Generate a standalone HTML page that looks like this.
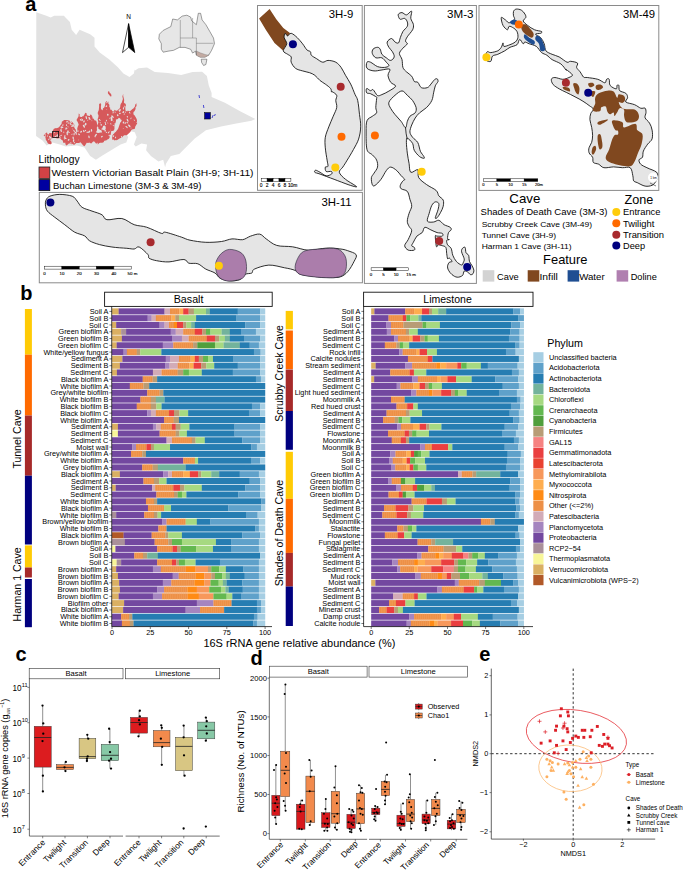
<!DOCTYPE html>
<html><head><meta charset="utf-8"><title>Figure</title>
<style>
html,body{margin:0;padding:0;background:#fff;}
body{width:685px;height:882px;overflow:hidden;}
svg{display:block;}
svg text{font-family:"Liberation Sans",sans-serif;fill:#000;}
</style></head><body>
<svg width="685" height="882" viewBox="0 0 685 882">
<rect width="685" height="882" fill="#fff"/>
<path d="M36.3,12.3 L46.3,15.8 L50.7,17.5 L54.2,15.8 L63.8,15.8 L69.9,21.9 L71.7,29.8 L76.1,35.0 L79.6,29.8 L90.1,34.2 L94.5,37.7 L94.5,46.4 L99.7,52.6 L109.3,59.6 L118.1,67.4 L123.4,73.6 L129.5,77.1 L133.9,73.6 L134.7,69.2 L133.8,71.2 L138.5,68.3 L147.1,67.4 L154.7,72.1 L168.0,73.1 L181.2,75.0 L192.6,72.1 L202.1,71.7 L206.9,75.9 L208.8,85.4 L211.6,93.0 L211.6,97.1 L224.9,102.8 L240.1,111.3 L255.3,118.9 L251.5,120.8 L236.3,123.6 L221.1,126.5 L205.9,130.3 L194.5,138.8 L185.0,148.3 L179.3,154.0 L170.8,155.9 L166.1,163.5 L165.1,167.3 L163.2,159.7 L158.5,161.6 L150.9,155.9 L146.1,150.2 L147.1,144.5 L141.4,143.6 L135.7,146.4 L133.9,144.5 L136.7,136.9 L134.8,132.2 L130.1,130.9 L126.3,134.1 L128.2,136.9 L126.3,142.6 L120.6,144.5 L111.1,150.2 L101.6,155.9 L95.9,159.7 L90.2,155.9 L84.5,147.4 L76.9,145.5 L65.5,146.4 L59.9,144.5 L52.3,142.6 L46.6,145.5 L42.8,140.7 L36.1,136.0 Z" fill="#e2e2e2"/>
<path d="M73.9,133.9 L75.7,134.0 L78.3,133.9 L79.7,133.9 L80.0,136.8 L79.8,139.4 L80.6,142.2 L78.9,143.1 L76.4,142.9 L75.0,143.7 L74.1,140.9 L74.5,136.6 Z" fill="#d6595b"/>
<ellipse cx="78.3" cy="139.9" rx="0.38" ry="0.31" transform="rotate(3 78.3 139.9)" fill="#e2e2e2"/>
<ellipse cx="74.3" cy="135.8" rx="0.42" ry="0.36" transform="rotate(-4 74.3 135.8)" fill="#e2e2e2"/>
<path d="M95.9,132.4 L98.2,132.9 L100.7,132.6 L103.1,132.4 L103.3,135.7 L103.5,138.2 L103.8,141.6 L102.5,142.8 L100.2,142.8 L97.7,143.0 L96.8,139.1 L96.2,135.4 Z" fill="#d6595b"/>
<ellipse cx="102.0" cy="136.7" rx="0.72" ry="1.03" transform="rotate(55 102.0 136.7)" fill="#e2e2e2"/>
<ellipse cx="102.6" cy="132.5" rx="0.40" ry="0.91" transform="rotate(-4 102.6 132.5)" fill="#e2e2e2"/>
<path d="M110.1,121.5 L112.7,120.6 L113.3,120.2 L115.9,119.3 L115.8,122.1 L114.4,125.3 L114.5,128.8 L113.9,130.6 L111.5,131.3 L110.8,133.2 L110.0,128.7 L110.7,125.0 Z" fill="#d6595b"/>
<ellipse cx="113.3" cy="125.5" rx="0.40" ry="0.78" transform="rotate(-44 113.3 125.5)" fill="#e2e2e2"/>
<ellipse cx="113.8" cy="120.9" rx="0.51" ry="0.58" transform="rotate(-28 113.8 120.9)" fill="#e2e2e2"/>
<ellipse cx="111.8" cy="131.6" rx="0.41" ry="0.58" transform="rotate(43 111.8 131.6)" fill="#e2e2e2"/>
<ellipse cx="113.8" cy="120.7" rx="0.79" ry="0.91" transform="rotate(-29 113.8 120.7)" fill="#e2e2e2"/>
<ellipse cx="114.6" cy="123.9" rx="0.45" ry="0.41" transform="rotate(-49 114.6 123.9)" fill="#e2e2e2"/>
<path d="M43.6,135.4 L44.7,134.0 L45.7,133.3 L46.6,132.4 L48.2,133.3 L49.9,133.0 L51.7,133.2 L52.9,131.3 L52.6,130.9 L53.9,128.8 L56.0,128.0 L56.8,128.2 L59.0,127.3 L60.6,125.0 L61.5,124.0 L61.9,121.5 L63.2,120.9 L63.8,119.9 L65.5,120.0 L68.1,120.2 L69.7,120.7 L71.4,121.5 L72.8,122.6 L73.0,123.0 L74.3,124.4 L74.9,125.3 L74.4,127.4 L75.0,128.8 L76.0,129.9 L75.7,131.3 L76.5,131.7 L76.3,132.2 L76.7,134.0 L77.2,135.4 L75.9,135.6 L75.6,136.9 L75.0,137.6 L75.0,138.8 L76.5,141.1 L76.5,141.9 L76.0,143.2 L75.2,143.4 L74.3,144.9 L72.0,143.7 L71.5,144.2 L69.2,143.4 L68.9,143.4 L67.5,144.8 L66.3,145.6 L65.6,144.4 L65.0,143.1 L63.4,142.7 L62.9,142.0 L63.0,141.1 L61.9,139.7 L61.2,139.7 L60.6,138.6 L59.0,138.3 L57.1,138.6 L55.2,137.7 L52.4,137.6 L52.1,138.8 L51.1,139.2 L50.2,139.7 L50.5,141.1 L51.3,141.6 L51.7,143.4 L50.9,144.3 L50.3,144.2 L48.8,144.1 L47.6,143.0 L46.9,141.2 L45.8,139.7 L45.6,137.7 L44.7,136.2 Z" fill="#d6595b"/>
<ellipse cx="63.8" cy="132.3" rx="0.42" ry="0.80" transform="rotate(-0 63.8 132.3)" fill="#e2e2e2"/>
<ellipse cx="64.3" cy="143.6" rx="0.43" ry="0.35" transform="rotate(-24 64.3 143.6)" fill="#e2e2e2"/>
<ellipse cx="66.4" cy="125.2" rx="0.38" ry="0.87" transform="rotate(19 66.4 125.2)" fill="#e2e2e2"/>
<ellipse cx="54.6" cy="137.0" rx="0.40" ry="0.59" transform="rotate(37 54.6 137.0)" fill="#e2e2e2"/>
<ellipse cx="74.3" cy="142.5" rx="0.49" ry="0.85" transform="rotate(-22 74.3 142.5)" fill="#e2e2e2"/>
<ellipse cx="48.2" cy="132.7" rx="0.72" ry="1.55" transform="rotate(25 48.2 132.7)" fill="#e2e2e2"/>
<ellipse cx="57.5" cy="136.0" rx="0.55" ry="0.71" transform="rotate(41 57.5 136.0)" fill="#e2e2e2"/>
<ellipse cx="67.4" cy="134.6" rx="0.45" ry="0.94" transform="rotate(-58 67.4 134.6)" fill="#e2e2e2"/>
<ellipse cx="45.2" cy="136.1" rx="0.52" ry="0.95" transform="rotate(19 45.2 136.1)" fill="#e2e2e2"/>
<ellipse cx="66.6" cy="125.1" rx="0.54" ry="0.58" transform="rotate(-59 66.6 125.1)" fill="#e2e2e2"/>
<ellipse cx="59.5" cy="138.3" rx="0.39" ry="0.48" transform="rotate(-19 59.5 138.3)" fill="#e2e2e2"/>
<ellipse cx="67.1" cy="133.3" rx="0.61" ry="1.22" transform="rotate(-13 67.1 133.3)" fill="#e2e2e2"/>
<ellipse cx="70.2" cy="143.2" rx="0.34" ry="0.79" transform="rotate(27 70.2 143.2)" fill="#e2e2e2"/>
<ellipse cx="64.7" cy="143.3" rx="0.49" ry="0.84" transform="rotate(46 64.7 143.3)" fill="#e2e2e2"/>
<ellipse cx="59.2" cy="136.7" rx="0.40" ry="0.79" transform="rotate(38 59.2 136.7)" fill="#e2e2e2"/>
<ellipse cx="65.2" cy="138.4" rx="0.41" ry="0.91" transform="rotate(58 65.2 138.4)" fill="#e2e2e2"/>
<ellipse cx="76.5" cy="133.8" rx="0.70" ry="0.91" transform="rotate(49 76.5 133.8)" fill="#e2e2e2"/>
<ellipse cx="72.4" cy="128.9" rx="0.34" ry="0.51" transform="rotate(6 72.4 128.9)" fill="#e2e2e2"/>
<ellipse cx="69.4" cy="132.5" rx="0.31" ry="0.66" transform="rotate(-52 69.4 132.5)" fill="#e2e2e2"/>
<ellipse cx="70.5" cy="124.5" rx="0.47" ry="0.96" transform="rotate(-43 70.5 124.5)" fill="#e2e2e2"/>
<ellipse cx="48.6" cy="133.2" rx="0.66" ry="1.42" transform="rotate(23 48.6 133.2)" fill="#e2e2e2"/>
<ellipse cx="75.4" cy="132.6" rx="0.77" ry="0.73" transform="rotate(-33 75.4 132.6)" fill="#e2e2e2"/>
<ellipse cx="61.3" cy="127.4" rx="0.66" ry="1.21" transform="rotate(3 61.3 127.4)" fill="#e2e2e2"/>
<ellipse cx="72.0" cy="134.3" rx="0.46" ry="0.64" transform="rotate(41 72.0 134.3)" fill="#e2e2e2"/>
<ellipse cx="73.9" cy="125.4" rx="0.73" ry="1.70" transform="rotate(3 73.9 125.4)" fill="#e2e2e2"/>
<ellipse cx="62.9" cy="125.2" rx="0.57" ry="0.91" transform="rotate(13 62.9 125.2)" fill="#e2e2e2"/>
<ellipse cx="61.0" cy="130.3" rx="0.70" ry="1.19" transform="rotate(-1 61.0 130.3)" fill="#e2e2e2"/>
<ellipse cx="66.9" cy="121.7" rx="0.57" ry="0.83" transform="rotate(55 66.9 121.7)" fill="#e2e2e2"/>
<ellipse cx="74.7" cy="126.9" rx="0.54" ry="0.54" transform="rotate(-8 74.7 126.9)" fill="#e2e2e2"/>
<ellipse cx="71.0" cy="143.0" rx="0.54" ry="0.70" transform="rotate(-37 71.0 143.0)" fill="#e2e2e2"/>
<ellipse cx="64.4" cy="143.7" rx="0.36" ry="0.75" transform="rotate(-57 64.4 143.7)" fill="#e2e2e2"/>
<ellipse cx="66.7" cy="128.3" rx="0.48" ry="0.86" transform="rotate(-47 66.7 128.3)" fill="#e2e2e2"/>
<ellipse cx="68.2" cy="123.2" rx="0.56" ry="0.67" transform="rotate(-36 68.2 123.2)" fill="#e2e2e2"/>
<ellipse cx="61.5" cy="131.2" rx="0.49" ry="0.71" transform="rotate(4 61.5 131.2)" fill="#e2e2e2"/>
<ellipse cx="64.8" cy="136.3" rx="0.56" ry="1.22" transform="rotate(13 64.8 136.3)" fill="#e2e2e2"/>
<ellipse cx="72.4" cy="126.0" rx="0.67" ry="1.41" transform="rotate(48 72.4 126.0)" fill="#e2e2e2"/>
<ellipse cx="68.0" cy="126.7" rx="0.35" ry="0.74" transform="rotate(-9 68.0 126.7)" fill="#e2e2e2"/>
<ellipse cx="70.2" cy="123.3" rx="0.50" ry="0.95" transform="rotate(-58 70.2 123.3)" fill="#e2e2e2"/>
<ellipse cx="50.4" cy="137.5" rx="0.76" ry="1.78" transform="rotate(-46 50.4 137.5)" fill="#e2e2e2"/>
<ellipse cx="60.5" cy="137.6" rx="0.39" ry="0.36" transform="rotate(-47 60.5 137.6)" fill="#e2e2e2"/>
<ellipse cx="44.9" cy="134.1" rx="0.56" ry="0.95" transform="rotate(-42 44.9 134.1)" fill="#e2e2e2"/>
<ellipse cx="54.6" cy="132.0" rx="0.56" ry="0.83" transform="rotate(12 54.6 132.0)" fill="#e2e2e2"/>
<ellipse cx="72.0" cy="124.7" rx="0.53" ry="1.04" transform="rotate(-11 72.0 124.7)" fill="#e2e2e2"/>
<ellipse cx="73.6" cy="140.5" rx="0.65" ry="1.42" transform="rotate(16 73.6 140.5)" fill="#e2e2e2"/>
<ellipse cx="57.2" cy="135.4" rx="0.55" ry="1.31" transform="rotate(37 57.2 135.4)" fill="#e2e2e2"/>
<ellipse cx="68.6" cy="139.9" rx="0.71" ry="1.02" transform="rotate(48 68.6 139.9)" fill="#e2e2e2"/>
<ellipse cx="73.2" cy="137.8" rx="0.68" ry="1.38" transform="rotate(-11 73.2 137.8)" fill="#e2e2e2"/>
<ellipse cx="67.9" cy="121.8" rx="0.47" ry="0.73" transform="rotate(-59 67.9 121.8)" fill="#e2e2e2"/>
<ellipse cx="55.6" cy="136.4" rx="0.61" ry="0.72" transform="rotate(53 55.6 136.4)" fill="#e2e2e2"/>
<ellipse cx="66.0" cy="128.7" rx="0.63" ry="1.08" transform="rotate(4 66.0 128.7)" fill="#e2e2e2"/>
<ellipse cx="65.2" cy="138.0" rx="0.68" ry="1.61" transform="rotate(-57 65.2 138.0)" fill="#e2e2e2"/>
<ellipse cx="64.3" cy="138.9" rx="0.43" ry="0.62" transform="rotate(-54 64.3 138.9)" fill="#e2e2e2"/>
<ellipse cx="74.1" cy="134.1" rx="0.55" ry="1.30" transform="rotate(8 74.1 134.1)" fill="#e2e2e2"/>
<ellipse cx="70.8" cy="122.0" rx="0.60" ry="1.21" transform="rotate(-55 70.8 122.0)" fill="#e2e2e2"/>
<ellipse cx="60.3" cy="135.7" rx="0.33" ry="0.76" transform="rotate(-10 60.3 135.7)" fill="#e2e2e2"/>
<ellipse cx="61.3" cy="135.3" rx="0.48" ry="0.61" transform="rotate(19 61.3 135.3)" fill="#e2e2e2"/>
<ellipse cx="62.5" cy="127.3" rx="0.66" ry="0.84" transform="rotate(-58 62.5 127.3)" fill="#e2e2e2"/>
<ellipse cx="48.9" cy="139.3" rx="0.49" ry="1.11" transform="rotate(30 48.9 139.3)" fill="#e2e2e2"/>
<ellipse cx="74.1" cy="131.0" rx="0.54" ry="1.27" transform="rotate(-31 74.1 131.0)" fill="#e2e2e2"/>
<ellipse cx="67.9" cy="132.0" rx="0.79" ry="1.66" transform="rotate(12 67.9 132.0)" fill="#e2e2e2"/>
<ellipse cx="47.5" cy="136.0" rx="0.53" ry="0.59" transform="rotate(-54 47.5 136.0)" fill="#e2e2e2"/>
<path d="M77.2,128.8 L77.7,126.8 L78.1,126.1 L78.7,124.4 L77.9,122.6 L77.4,121.4 L76.5,120.0 L77.6,117.9 L78.6,116.3 L78.7,113.5 L79.7,114.3 L79.6,116.4 L80.9,117.1 L82.0,117.1 L82.1,116.3 L83.1,116.4 L84.0,115.3 L84.6,114.2 L85.3,112.7 L86.6,113.3 L86.8,115.3 L88.2,115.7 L90.0,115.9 L89.9,114.6 L91.8,114.9 L91.7,116.0 L92.5,116.8 L92.6,118.6 L93.8,118.7 L94.4,120.3 L96.2,120.8 L96.8,122.6 L97.0,124.1 L97.7,125.9 L96.8,127.6 L97.0,130.2 L96.2,131.7 L96.3,133.1 L98.1,135.7 L98.4,137.6 L99.3,138.8 L99.3,140.6 L99.9,142.7 L99.3,143.0 L98.1,144.3 L96.9,144.1 L95.7,143.2 L95.4,142.8 L94.0,141.2 L92.9,141.7 L91.5,143.2 L91.1,143.4 L89.1,142.6 L88.3,142.9 L86.7,142.7 L86.3,143.6 L85.7,144.5 L84.5,146.3 L83.2,145.6 L82.0,144.1 L81.6,143.4 L81.2,142.9 L79.9,141.4 L79.4,141.2 L79.0,139.8 L78.7,137.3 L78.7,136.1 L78.3,135.2 L77.8,134.8 L76.5,133.2 L77.3,131.6 L77.4,130.0 Z" fill="#d6595b"/>
<ellipse cx="83.9" cy="126.2" rx="0.77" ry="1.71" transform="rotate(-30 83.9 126.2)" fill="#e2e2e2"/>
<ellipse cx="84.9" cy="125.0" rx="0.48" ry="0.69" transform="rotate(-13 84.9 125.0)" fill="#e2e2e2"/>
<ellipse cx="81.1" cy="131.7" rx="0.70" ry="1.16" transform="rotate(40 81.1 131.7)" fill="#e2e2e2"/>
<ellipse cx="89.6" cy="118.7" rx="0.68" ry="1.50" transform="rotate(-26 89.6 118.7)" fill="#e2e2e2"/>
<ellipse cx="89.2" cy="131.8" rx="0.78" ry="1.44" transform="rotate(37 89.2 131.8)" fill="#e2e2e2"/>
<ellipse cx="78.0" cy="131.1" rx="0.69" ry="0.65" transform="rotate(-50 78.0 131.1)" fill="#e2e2e2"/>
<ellipse cx="78.5" cy="134.0" rx="0.37" ry="0.74" transform="rotate(18 78.5 134.0)" fill="#e2e2e2"/>
<ellipse cx="82.2" cy="120.1" rx="0.68" ry="1.12" transform="rotate(32 82.2 120.1)" fill="#e2e2e2"/>
<ellipse cx="85.7" cy="124.1" rx="0.78" ry="1.47" transform="rotate(-1 85.7 124.1)" fill="#e2e2e2"/>
<ellipse cx="89.0" cy="136.9" rx="0.65" ry="1.48" transform="rotate(-11 89.0 136.9)" fill="#e2e2e2"/>
<ellipse cx="95.8" cy="135.1" rx="0.73" ry="1.52" transform="rotate(40 95.8 135.1)" fill="#e2e2e2"/>
<ellipse cx="91.5" cy="130.3" rx="0.66" ry="1.36" transform="rotate(-9 91.5 130.3)" fill="#e2e2e2"/>
<ellipse cx="86.3" cy="117.6" rx="0.67" ry="1.60" transform="rotate(-15 86.3 117.6)" fill="#e2e2e2"/>
<ellipse cx="80.4" cy="119.6" rx="0.51" ry="0.65" transform="rotate(56 80.4 119.6)" fill="#e2e2e2"/>
<ellipse cx="79.2" cy="134.5" rx="0.69" ry="0.75" transform="rotate(-53 79.2 134.5)" fill="#e2e2e2"/>
<ellipse cx="87.2" cy="132.3" rx="0.75" ry="0.65" transform="rotate(-47 87.2 132.3)" fill="#e2e2e2"/>
<ellipse cx="80.8" cy="120.0" rx="0.42" ry="0.81" transform="rotate(11 80.8 120.0)" fill="#e2e2e2"/>
<ellipse cx="81.7" cy="118.9" rx="0.44" ry="0.47" transform="rotate(31 81.7 118.9)" fill="#e2e2e2"/>
<ellipse cx="83.8" cy="131.1" rx="0.71" ry="1.11" transform="rotate(-29 83.8 131.1)" fill="#e2e2e2"/>
<ellipse cx="97.2" cy="143.4" rx="0.47" ry="0.79" transform="rotate(55 97.2 143.4)" fill="#e2e2e2"/>
<ellipse cx="87.8" cy="120.2" rx="0.32" ry="0.75" transform="rotate(36 87.8 120.2)" fill="#e2e2e2"/>
<ellipse cx="85.5" cy="130.5" rx="0.56" ry="0.69" transform="rotate(59 85.5 130.5)" fill="#e2e2e2"/>
<ellipse cx="91.9" cy="120.7" rx="0.31" ry="0.48" transform="rotate(-15 91.9 120.7)" fill="#e2e2e2"/>
<ellipse cx="95.1" cy="136.7" rx="0.60" ry="0.63" transform="rotate(-41 95.1 136.7)" fill="#e2e2e2"/>
<ellipse cx="84.0" cy="121.4" rx="0.73" ry="1.19" transform="rotate(16 84.0 121.4)" fill="#e2e2e2"/>
<ellipse cx="89.0" cy="117.8" rx="0.69" ry="0.55" transform="rotate(39 89.0 117.8)" fill="#e2e2e2"/>
<path d="M97.7,124.4 L98.4,122.5 L97.6,119.3 L98.4,117.1 L98.5,115.1 L97.9,114.2 L97.7,112.7 L98.8,110.0 L99.1,106.7 L99.1,104.0 L100.0,103.6 L100.7,102.9 L100.6,103.2 L101.2,104.5 L100.9,106.7 L101.0,108.4 L101.1,109.5 L101.9,109.5 L102.8,110.5 L102.9,108.6 L104.2,107.5 L105.0,105.4 L105.2,104.3 L105.4,102.4 L106.4,101.1 L107.1,102.0 L108.3,101.8 L108.6,101.8 L108.2,103.3 L109.4,104.8 L109.3,106.9 L110.2,107.8 L110.1,109.5 L111.5,109.8 L112.2,110.9 L112.2,112.4 L112.3,114.2 L111.6,116.2 L111.0,117.8 L110.8,120.0 L111.1,122.2 L111.4,123.5 L112.3,125.9 L111.9,126.6 L111.4,127.9 L110.1,128.8 L110.6,130.5 L111.0,132.1 L110.8,134.6 L109.6,135.5 L109.6,137.8 L108.6,139.0 L107.2,139.4 L107.2,140.1 L105.7,140.5 L104.4,140.8 L103.8,141.4 L103.5,142.7 L102.9,140.9 L103.1,140.2 L102.0,139.0 L102.3,137.8 L102.9,136.6 L102.8,134.6 L102.1,133.0 L101.7,131.1 L101.3,130.3 L100.2,130.1 L100.1,129.7 L98.4,128.8 L98.4,127.5 L97.2,125.7 Z" fill="#d6595b"/>
<ellipse cx="102.7" cy="128.1" rx="0.35" ry="0.50" transform="rotate(1 102.7 128.1)" fill="#e2e2e2"/>
<ellipse cx="109.2" cy="135.4" rx="0.61" ry="0.64" transform="rotate(32 109.2 135.4)" fill="#e2e2e2"/>
<ellipse cx="110.8" cy="123.9" rx="0.48" ry="0.76" transform="rotate(-43 110.8 123.9)" fill="#e2e2e2"/>
<ellipse cx="105.2" cy="130.8" rx="0.72" ry="0.80" transform="rotate(53 105.2 130.8)" fill="#e2e2e2"/>
<ellipse cx="106.8" cy="109.3" rx="0.34" ry="0.41" transform="rotate(9 106.8 109.3)" fill="#e2e2e2"/>
<ellipse cx="107.8" cy="114.8" rx="0.76" ry="1.05" transform="rotate(-4 107.8 114.8)" fill="#e2e2e2"/>
<ellipse cx="105.6" cy="124.4" rx="0.58" ry="0.71" transform="rotate(49 105.6 124.4)" fill="#e2e2e2"/>
<ellipse cx="106.4" cy="106.2" rx="0.71" ry="0.90" transform="rotate(48 106.4 106.2)" fill="#e2e2e2"/>
<ellipse cx="101.2" cy="124.9" rx="0.72" ry="0.78" transform="rotate(6 101.2 124.9)" fill="#e2e2e2"/>
<ellipse cx="102.2" cy="129.0" rx="0.67" ry="0.94" transform="rotate(11 102.2 129.0)" fill="#e2e2e2"/>
<ellipse cx="100.6" cy="120.5" rx="0.37" ry="0.53" transform="rotate(8 100.6 120.5)" fill="#e2e2e2"/>
<ellipse cx="100.2" cy="122.7" rx="0.43" ry="0.74" transform="rotate(-20 100.2 122.7)" fill="#e2e2e2"/>
<ellipse cx="107.0" cy="102.6" rx="0.64" ry="0.66" transform="rotate(55 107.0 102.6)" fill="#e2e2e2"/>
<ellipse cx="106.4" cy="120.6" rx="0.51" ry="0.91" transform="rotate(23 106.4 120.6)" fill="#e2e2e2"/>
<ellipse cx="108.7" cy="132.3" rx="0.54" ry="1.30" transform="rotate(41 108.7 132.3)" fill="#e2e2e2"/>
<ellipse cx="110.1" cy="118.1" rx="0.52" ry="0.88" transform="rotate(49 110.1 118.1)" fill="#e2e2e2"/>
<ellipse cx="105.3" cy="122.9" rx="0.52" ry="1.16" transform="rotate(-22 105.3 122.9)" fill="#e2e2e2"/>
<ellipse cx="106.4" cy="132.3" rx="0.45" ry="0.79" transform="rotate(-52 106.4 132.3)" fill="#e2e2e2"/>
<ellipse cx="99.5" cy="119.7" rx="0.55" ry="0.79" transform="rotate(-54 99.5 119.7)" fill="#e2e2e2"/>
<ellipse cx="107.8" cy="123.0" rx="0.42" ry="0.54" transform="rotate(-13 107.8 123.0)" fill="#e2e2e2"/>
<path d="M111.5,112.7 L112.1,111.2 L114.0,111.5 L114.5,109.8 L115.6,110.6 L116.3,110.7 L117.4,110.5 L117.9,109.7 L119.4,108.7 L120.3,106.9 L120.2,105.9 L120.7,104.1 L121.8,102.5 L122.9,98.9 L122.4,96.5 L123.2,93.8 L123.2,96.0 L124.2,100.0 L123.9,102.5 L124.5,103.3 L125.5,103.8 L126.1,105.4 L125.2,107.7 L125.4,108.8 L125.4,110.5 L127.2,111.5 L127.8,110.6 L129.1,111.3 L130.2,110.9 L132.5,108.9 L133.4,108.4 L134.9,106.5 L135.3,104.5 L136.4,103.2 L136.6,105.9 L135.5,107.3 L135.6,109.1 L134.5,111.3 L133.5,111.9 L133.4,114.2 L134.7,115.4 L135.9,117.6 L136.4,118.6 L136.9,119.8 L137.1,122.6 L137.1,123.7 L136.3,124.8 L135.2,126.8 L134.9,128.8 L134.0,128.9 L132.0,129.4 L131.2,130.3 L130.3,132.1 L128.7,133.4 L127.6,134.6 L126.7,135.2 L124.3,135.3 L123.2,136.1 L122.4,137.3 L120.0,138.2 L118.8,139.0 L116.8,140.2 L115.9,140.0 L114.5,140.5 L113.8,139.6 L113.1,139.7 L112.3,139.7 L112.2,138.5 L112.2,136.1 L113.0,134.6 L114.3,133.3 L114.6,132.8 L115.9,131.7 L116.2,131.3 L118.0,129.1 L118.1,128.8 L118.5,127.7 L118.9,126.5 L119.6,124.4 L120.3,122.5 L121.1,121.7 L121.8,120.0 L120.6,119.5 L120.2,118.6 L118.8,117.8 L117.9,119.1 L117.2,119.3 L115.9,120.0 L115.8,120.5 L114.9,121.5 L113.7,123.0 L113.4,121.1 L112.7,120.4 L112.3,118.6 L112.4,117.1 L111.4,114.7 Z" fill="#d6595b"/>
<ellipse cx="126.8" cy="127.1" rx="0.59" ry="1.29" transform="rotate(-38 126.8 127.1)" fill="#e2e2e2"/>
<ellipse cx="124.2" cy="114.1" rx="0.52" ry="0.64" transform="rotate(36 124.2 114.1)" fill="#e2e2e2"/>
<ellipse cx="113.4" cy="136.1" rx="0.58" ry="0.98" transform="rotate(35 113.4 136.1)" fill="#e2e2e2"/>
<ellipse cx="125.0" cy="106.1" rx="0.59" ry="0.56" transform="rotate(38 125.0 106.1)" fill="#e2e2e2"/>
<ellipse cx="113.1" cy="112.9" rx="0.48" ry="0.55" transform="rotate(56 113.1 112.9)" fill="#e2e2e2"/>
<ellipse cx="112.6" cy="116.6" rx="0.68" ry="1.62" transform="rotate(-43 112.6 116.6)" fill="#e2e2e2"/>
<ellipse cx="123.2" cy="128.6" rx="0.32" ry="0.38" transform="rotate(47 123.2 128.6)" fill="#e2e2e2"/>
<ellipse cx="115.1" cy="112.1" rx="0.45" ry="0.66" transform="rotate(-51 115.1 112.1)" fill="#e2e2e2"/>
<ellipse cx="131.0" cy="128.1" rx="0.41" ry="0.50" transform="rotate(6 131.0 128.1)" fill="#e2e2e2"/>
<ellipse cx="117.7" cy="115.3" rx="0.77" ry="1.06" transform="rotate(-20 117.7 115.3)" fill="#e2e2e2"/>
<ellipse cx="136.6" cy="122.3" rx="0.32" ry="0.46" transform="rotate(18 136.6 122.3)" fill="#e2e2e2"/>
<ellipse cx="123.4" cy="112.1" rx="0.72" ry="1.02" transform="rotate(34 123.4 112.1)" fill="#e2e2e2"/>
<ellipse cx="116.2" cy="119.4" rx="0.38" ry="0.43" transform="rotate(-34 116.2 119.4)" fill="#e2e2e2"/>
<ellipse cx="123.5" cy="108.2" rx="0.52" ry="1.25" transform="rotate(22 123.5 108.2)" fill="#e2e2e2"/>
<ellipse cx="121.6" cy="136.9" rx="0.66" ry="0.81" transform="rotate(-17 121.6 136.9)" fill="#e2e2e2"/>
<ellipse cx="115.5" cy="137.5" rx="0.48" ry="0.97" transform="rotate(27 115.5 137.5)" fill="#e2e2e2"/>
<ellipse cx="119.8" cy="111.7" rx="0.34" ry="0.76" transform="rotate(-21 119.8 111.7)" fill="#e2e2e2"/>
<ellipse cx="131.2" cy="118.0" rx="0.33" ry="0.47" transform="rotate(-31 131.2 118.0)" fill="#e2e2e2"/>
<ellipse cx="119.5" cy="113.6" rx="0.57" ry="0.58" transform="rotate(25 119.5 113.6)" fill="#e2e2e2"/>
<ellipse cx="129.7" cy="112.7" rx="0.49" ry="1.08" transform="rotate(-33 129.7 112.7)" fill="#e2e2e2"/>
<ellipse cx="119.0" cy="109.9" rx="0.41" ry="0.35" transform="rotate(-57 119.0 109.9)" fill="#e2e2e2"/>
<ellipse cx="127.6" cy="120.2" rx="0.70" ry="1.66" transform="rotate(-24 127.6 120.2)" fill="#e2e2e2"/>
<ellipse cx="122.5" cy="112.1" rx="0.33" ry="0.47" transform="rotate(-21 122.5 112.1)" fill="#e2e2e2"/>
<ellipse cx="124.2" cy="106.8" rx="0.38" ry="0.55" transform="rotate(-3 124.2 106.8)" fill="#e2e2e2"/>
<ellipse cx="120.3" cy="113.5" rx="0.38" ry="0.65" transform="rotate(24 120.3 113.5)" fill="#e2e2e2"/>
<ellipse cx="125.7" cy="126.5" rx="0.31" ry="0.44" transform="rotate(-16 125.7 126.5)" fill="#e2e2e2"/>
<ellipse cx="113.1" cy="112.6" rx="0.33" ry="0.52" transform="rotate(10 113.1 112.6)" fill="#e2e2e2"/>
<ellipse cx="123.5" cy="109.0" rx="0.43" ry="0.36" transform="rotate(-18 123.5 109.0)" fill="#e2e2e2"/>
<ellipse cx="134.3" cy="120.2" rx="0.43" ry="0.81" transform="rotate(-38 134.3 120.2)" fill="#e2e2e2"/>
<ellipse cx="123.5" cy="122.5" rx="0.78" ry="1.07" transform="rotate(9 123.5 122.5)" fill="#e2e2e2"/>
<ellipse cx="127.6" cy="122.8" rx="0.51" ry="0.74" transform="rotate(-27 127.6 122.8)" fill="#e2e2e2"/>
<ellipse cx="121.3" cy="136.3" rx="0.32" ry="0.32" transform="rotate(1 121.3 136.3)" fill="#e2e2e2"/>
<ellipse cx="119.4" cy="110.6" rx="0.79" ry="0.82" transform="rotate(-37 119.4 110.6)" fill="#e2e2e2"/>
<ellipse cx="125.4" cy="112.2" rx="0.42" ry="0.67" transform="rotate(18 125.4 112.2)" fill="#e2e2e2"/>
<ellipse cx="125.5" cy="122.9" rx="0.58" ry="1.24" transform="rotate(56 125.5 122.9)" fill="#e2e2e2"/>
<ellipse cx="120.1" cy="110.0" rx="0.74" ry="0.97" transform="rotate(26 120.1 110.0)" fill="#e2e2e2"/>
<ellipse cx="129.3" cy="125.8" rx="0.78" ry="1.66" transform="rotate(-41 129.3 125.8)" fill="#e2e2e2"/>
<ellipse cx="127.4" cy="116.7" rx="0.58" ry="0.81" transform="rotate(-26 127.4 116.7)" fill="#e2e2e2"/>
<ellipse cx="130.7" cy="118.7" rx="0.42" ry="0.50" transform="rotate(-21 130.7 118.7)" fill="#e2e2e2"/>
<path d="M107.9,92.3 L107.9,92.1 L108.3,91.2 L109.3,91.6 L109.5,92.5 L111.1,93.9 L111.5,95.9 L111.0,96.6 L110.5,96.0 L110.1,96.7 L109.9,95.8 L108.0,93.4 Z" fill="#d6595b"/>
<ellipse cx="104.2" cy="128" rx="1.6" ry="2.4" fill="#e2e2e2"/>
<rect x="52.6" y="131.5" width="6" height="6" fill="none" stroke="#111" stroke-width="0.8"/>
<rect x="204.6" y="112.6" width="5.8" height="6.4" fill="#00009a" stroke="#111" stroke-width="0.6"/>
<path d="M199,95 l0.5,3 M203.4,105 l0.5,3 M212,118 l1.2,-3 M214.5,116 l0.8,-2" stroke="#2222cc" stroke-width="0.8" fill="none"/>
<text x="128.7" y="19" font-size="6.5" text-anchor="middle">N</text>
<path d="M128.6,23.7 L122.5,52.6 L128.6,47.3 Z" fill="#fff" stroke="#000" stroke-width="0.7"/>
<path d="M128.6,23.7 L134.8,52.6 L128.6,47.3 Z" fill="#000" stroke="#000" stroke-width="0.7"/>
<path d="M159.4,34.2 L163.2,30.4 L170.8,26.6 L172.7,19.0 L177.4,19.9 L182.2,16.1 L186.9,15.2 L190.7,17.1 L191.7,20.9 L196.4,24.7 L198.3,13.3 L200.6,13.3 L202.1,19.9 L205.9,24.7 L209.7,31.3 L213.5,38.0 L214.5,43.6 L211.6,50.3 L208.8,55.0 L205.0,56.9 L200.2,56.9 L196.4,55.0 L195.5,51.2 L192.6,53.1 L190.7,49.3 L185.0,47.4 L179.3,47.4 L173.6,50.3 L168.0,51.2 L163.2,52.2 L161.3,49.3 L161.3,43.6 L158.8,38.9 Z" fill="#e6e6e6" stroke="#444" stroke-width="0.5"/>
<path d="M196.4,50.9 L200.2,52.8 L205.9,54.7 L208.8,55.2 L205.0,57.3 L200.2,57.3 L196.4,55.4 Z" fill="#c2aaa2" stroke="#666" stroke-width="0.3"/>
<path d="M201.2,59.2 L206.9,59.2 L205.9,64.5 L203.6,65.5 L201.7,62.6 Z" fill="#e6e6e6" stroke="#444" stroke-width="0.5"/>
<path d="M180.3,20 V47.4 M192.6,18 V38 M180.3,38 H196.4 M196.4,38 V55 M196.4,43.3 H213.5" stroke="#555" stroke-width="0.4" fill="none"/>
<text x="38.5" y="162.5" font-size="10" textLength="41" lengthAdjust="spacingAndGlyphs">Lithology</text>
<rect x="39" y="167" width="10.8" height="11.4" fill="#d14245" stroke="#222" stroke-width="0.8"/>
<rect x="39" y="179.6" width="10.8" height="11" fill="#0000a0" stroke="#111" stroke-width="0.8"/>
<text x="51.5" y="176.2" font-size="9.3" textLength="202" lengthAdjust="spacingAndGlyphs">Western Victorian Basalt Plain (3H-9; 3H-11)</text>
<text x="53" y="188.6" font-size="9.3" textLength="148.5" lengthAdjust="spacingAndGlyphs">Buchan Limestone (3M-3 &amp; 3M-49)</text>
<rect x="257.5" y="5.5" width="104.69999999999999" height="184.8" fill="#fff" stroke="#8a8a8a" stroke-width="1"/>
<svg x="258" y="6" width="103.7" height="183.8" viewBox="258 6 103.7 183.8">
<path d="M259.1,18.4 L269.6,9.1 L276.3,19.3 L283.3,28.0 L290.3,33.3 L285.9,37.7 L286.8,43.8 L283.3,50.8 L274.5,42.9 L265.8,29.8 Z" fill="#80481f"/>
<path d="M283.3,50.8 C283.1,49.1 286.6,46.0 286.8,43.8 C286.9,41.6 284.5,39.4 284.2,37.7 C283.9,35.9 284.5,33.6 285.0,33.3 C285.6,33.0 286.6,35.9 287.7,35.9 C288.7,35.9 289.6,33.0 291.2,33.3 C292.8,33.6 295.4,35.9 297.3,37.7 C299.2,39.4 300.9,41.8 302.6,43.8 C304.2,45.8 305.6,48.6 306.9,49.9 C308.2,51.2 309.7,50.8 310.4,51.7 C311.2,52.6 310.3,54.0 311.3,55.2 C312.3,56.4 314.7,57.5 316.6,58.7 C318.5,59.9 320.8,61.9 322.7,62.2 C324.6,62.5 325.8,60.4 328.0,60.4 C330.1,60.4 333.6,61.0 335.8,62.2 C338.0,63.4 339.5,65.3 341.1,67.4 C342.7,69.6 343.9,72.6 345.5,75.3 C347.1,78.1 349.1,80.9 350.7,84.1 C352.3,87.3 353.9,91.9 355.1,94.6 C356.3,97.3 357.0,97.2 357.7,100.5 C358.5,103.8 359.0,110.1 359.5,114.5 C360.0,118.9 360.9,122.7 360.7,126.8 C360.6,130.9 359.8,135.3 358.6,139.1 C357.4,142.8 355.3,146.1 353.4,149.6 C351.5,153.1 349.0,157.2 347.2,160.1 C345.5,163.0 344.2,165.0 342.8,167.1 C341.5,169.1 338.9,170.3 339.3,172.3 C339.8,174.4 342.8,177.2 345.5,179.3 C348.1,181.5 353.4,184.2 355.1,185.5 C356.9,186.7 357.2,187.0 356.0,186.9 C354.8,186.7 351.8,185.9 348.1,184.6 C344.5,183.3 338.8,181.1 334.1,179.3 C329.4,177.6 323.3,175.3 320.1,174.1 C316.9,172.9 315.5,173.0 314.8,172.3 C314.1,171.7 314.8,170.2 315.7,170.2 C316.6,170.2 318.3,171.4 320.1,172.3 C321.8,173.3 324.3,175.5 326.2,175.8 C328.1,176.1 330.6,174.8 331.5,174.1 C332.3,173.4 332.3,171.9 331.5,171.5 C330.6,171.0 327.2,172.2 326.2,171.5 C325.2,170.7 325.0,168.0 325.3,167.1 C325.6,166.2 327.7,167.4 328.0,166.2 C328.2,165.0 327.5,163.1 327.1,160.1 C326.6,157.0 325.6,151.6 325.3,147.8 C325.0,144.0 324.7,140.8 325.3,137.3 C325.9,133.8 327.5,130.3 328.8,126.8 C330.1,123.3 331.9,119.5 333.2,116.3 C334.5,113.1 336.3,110.1 336.7,107.5 C337.2,104.9 335.8,102.6 335.8,100.5 C335.8,98.5 337.3,96.7 336.7,95.3 C336.1,93.8 333.2,92.3 332.3,91.8 C331.5,91.2 331.8,92.5 331.5,92.0 C331.2,91.4 331.6,89.8 330.6,88.5 C329.6,87.2 327.1,85.4 325.3,84.1 C323.6,82.8 321.8,82.0 320.1,80.6 C318.3,79.1 316.6,76.6 314.8,75.3 C313.1,74.0 311.6,73.4 309.6,72.7 C307.5,72.0 304.9,71.7 302.6,70.9 C300.2,70.2 297.4,69.8 295.5,68.3 C293.6,66.9 291.9,64.1 291.2,62.2 C290.4,60.3 291.8,58.2 291.2,56.9 C290.6,55.6 289.0,55.3 287.7,54.3 C286.4,53.3 283.4,52.6 283.3,50.8 Z" fill="#e5e5e5" stroke="#0a0a0a" stroke-width="0.85"/>
</svg>
<circle cx="292.9" cy="44.3" r="4" fill="#00007f"/>
<circle cx="340.7" cy="86.7" r="4" fill="#a82a2e"/>
<circle cx="341.5" cy="136.8" r="4" fill="#ff6a00"/>
<circle cx="335.3" cy="167.6" r="4" fill="#ffcc0a"/>
<text x="328.8" y="18.4" font-size="11" textLength="24.6" lengthAdjust="spacingAndGlyphs">3H-9</text>
<rect x="261.20" y="178.4" width="5.94" height="3.30" fill="#fff" stroke="#000" stroke-width="0.45"/>
<rect x="267.14" y="178.4" width="5.94" height="3.30" fill="#000" stroke="#000" stroke-width="0.45"/>
<rect x="273.08" y="178.4" width="5.94" height="3.30" fill="#fff" stroke="#000" stroke-width="0.45"/>
<rect x="279.02" y="178.4" width="5.94" height="3.30" fill="#000" stroke="#000" stroke-width="0.45"/>
<rect x="284.96" y="178.4" width="5.94" height="3.30" fill="#fff" stroke="#000" stroke-width="0.45"/>
<text x="261.20" y="186.6" font-size="4.9" text-anchor="middle" stroke="#000" stroke-width="0.12">0</text>
<text x="267.14" y="186.6" font-size="4.9" text-anchor="middle" stroke="#000" stroke-width="0.12">2</text>
<text x="273.08" y="186.6" font-size="4.9" text-anchor="middle" stroke="#000" stroke-width="0.12">4</text>
<text x="279.02" y="186.6" font-size="4.9" text-anchor="middle" stroke="#000" stroke-width="0.12">6</text>
<text x="284.96" y="186.6" font-size="4.9" text-anchor="middle" stroke="#000" stroke-width="0.12">8</text>
<text x="287.90" y="186.6" font-size="4.9" stroke="#000" stroke-width="0.12">10m</text>
<rect x="364.4" y="5.5" width="112.0" height="277.9" fill="#fff" stroke="#8a8a8a" stroke-width="1"/>
<path d="M398.5,14.0 C399.1,13.3 400.7,12.5 402.0,12.6 C403.4,12.8 405.0,15.1 406.4,14.9 C407.9,14.7 409.9,11.8 410.8,11.4 C411.7,10.9 411.7,11.1 411.7,12.3 C411.7,13.4 410.5,16.4 410.8,18.4 C411.1,20.4 413.1,22.6 413.4,24.5 C413.7,26.4 413.6,27.7 412.6,29.8 C411.5,31.8 408.5,34.9 407.3,36.8 C406.1,38.7 405.5,40.0 405.5,41.2 C405.5,42.3 407.7,42.6 407.3,43.8 C406.9,45.0 404.2,46.6 402.9,48.2 C401.6,49.8 399.6,51.5 399.4,53.4 C399.3,55.3 401.5,57.2 402.0,59.6 C402.6,61.9 402.2,65.4 402.9,67.4 C403.6,69.5 405.0,70.4 406.4,71.8 C407.9,73.3 410.4,74.6 411.7,76.2 C413.0,77.8 413.3,80.4 414.3,81.5 C415.3,82.5 416.6,81.3 417.8,82.3 C419.0,83.4 419.7,86.7 421.3,87.6 C422.9,88.5 425.8,88.2 427.4,87.6 C429.1,87.0 429.8,85.4 430.9,84.1 C432.1,82.8 433.4,80.6 434.5,79.7 C435.5,78.8 436.5,78.5 437.1,78.8 C437.7,79.1 438.2,80.3 438.0,81.5 C437.7,82.6 436.1,83.9 435.3,85.8 C434.6,87.7 434.2,90.4 433.6,92.8 C433.0,95.3 433.0,98.1 431.8,100.5 C430.7,103.0 428.6,105.5 426.6,107.5 C424.5,109.6 421.5,111.0 419.6,112.8 C417.7,114.5 416.5,116.0 415.2,118.0 C413.9,120.1 412.6,122.7 411.7,125.0 C410.8,127.4 409.8,130.0 409.9,132.0 C410.1,134.1 411.2,135.5 412.6,137.3 C413.9,139.1 416.5,140.2 417.8,142.6 C419.1,144.9 419.4,149.0 420.4,151.3 C421.5,153.6 423.4,155.4 423.9,156.6 C424.5,157.7 424.7,158.3 423.9,158.3 C423.2,158.3 421.2,157.9 419.6,156.6 C418.0,155.3 415.5,152.6 414.3,150.4 C413.1,148.2 413.7,145.5 412.6,143.4 C411.4,141.4 408.3,138.3 407.3,138.2 C406.3,138.0 406.4,140.1 406.4,142.6 C406.4,145.0 406.9,149.6 407.3,153.1 C407.7,156.6 408.5,160.4 409.1,163.6 C409.6,166.8 409.3,171.3 410.8,172.3 C412.3,173.4 416.5,168.8 417.8,169.7 C419.1,170.6 417.2,175.1 418.7,177.6 C420.1,180.1 423.6,182.4 426.6,184.6 C429.5,186.8 434.2,188.6 436.2,190.5 C438.2,192.4 437.7,194.2 438.8,195.8 C440.0,197.4 442.5,198.4 443.2,200.1 C443.9,201.9 443.6,204.2 443.2,206.3 C442.8,208.3 441.6,210.5 440.6,212.4 C439.6,214.3 438.0,216.8 437.1,217.7 C436.2,218.5 435.2,219.0 435.3,217.7 C435.5,216.4 437.4,212.1 438.0,209.8 C438.5,207.4 439.3,205.0 438.8,203.6 C438.4,202.3 436.5,201.6 435.3,201.9 C434.2,202.2 432.8,203.5 431.8,205.4 C430.8,207.3 429.9,210.7 429.2,213.3 C428.5,215.9 426.7,219.7 427.4,221.2 C428.2,222.6 431.7,222.2 433.6,222.0 C435.5,221.9 437.1,219.9 438.8,220.3 C440.6,220.7 442.2,223.5 444.1,224.7 C446.0,225.8 449.1,226.4 450.2,227.3 C451.4,228.2 451.4,229.1 451.1,229.9 C450.8,230.8 449.1,231.1 448.5,232.6 C447.9,234.0 447.4,237.5 447.6,238.7 C447.7,239.9 449.5,239.3 449.3,239.6 C449.2,239.9 447.0,239.6 446.7,240.4 C446.4,241.3 446.9,243.5 447.6,244.8 C448.3,246.1 450.2,246.6 451.1,248.3 C452.0,250.1 452.0,253.1 452.8,255.3 C453.7,257.5 454.9,259.9 456.4,261.5 C457.8,263.1 460.4,264.8 461.6,265.0 C462.8,265.1 462.9,263.4 463.4,262.3 C463.8,261.3 464.5,260.6 464.2,258.8 C463.9,257.1 461.9,253.6 461.6,251.8 C461.3,250.1 461.9,249.1 462.5,248.3 C463.1,247.6 464.5,246.7 465.1,247.4 C465.7,248.2 465.4,251.4 466.0,252.7 C466.6,254.0 468.0,253.9 468.6,255.3 C469.2,256.8 468.9,259.7 469.5,261.5 C470.1,263.2 471.4,264.4 472.1,265.8 C472.8,267.3 473.7,268.9 473.9,270.2 C474.0,271.5 473.6,273.0 473.0,273.7 C472.4,274.5 471.2,274.9 470.4,274.6 C469.5,274.3 468.8,272.6 467.7,272.0 C466.7,271.4 465.1,270.5 464.2,271.1 C463.4,271.7 463.6,274.5 462.5,275.5 C461.3,276.5 459.0,277.4 457.2,277.2 C455.5,277.1 453.4,275.8 452.0,274.6 C450.5,273.4 449.2,271.7 448.5,270.2 C447.7,268.8 447.4,267.2 447.6,265.8 C447.7,264.5 448.6,263.1 449.3,262.3 C450.1,261.6 452.0,262.2 452.0,261.5 C452.0,260.7 450.1,258.4 449.3,258.0 C448.6,257.5 448.0,259.6 447.6,258.8 C447.2,258.1 447.0,255.5 446.7,253.6 C446.4,251.7 446.6,248.8 445.8,247.4 C445.1,246.1 443.6,246.1 442.3,245.7 C441.0,245.3 438.8,244.7 438.0,244.8 C437.1,245.0 437.4,246.4 437.1,246.6 C436.8,246.7 436.5,247.4 436.2,245.7 C435.9,243.9 435.2,237.7 435.3,236.1 C435.5,234.5 435.9,236.1 437.1,236.1 C438.2,236.1 441.5,236.5 442.3,236.1 C443.2,235.6 443.2,234.0 442.3,233.4 C441.5,232.8 439.0,233.1 437.1,232.6 C435.2,232.0 433.0,230.8 430.9,229.9 C428.9,229.1 426.3,226.9 424.8,227.3 C423.4,227.7 423.5,231.1 422.2,232.6 C420.9,234.0 418.4,234.5 416.9,236.1 C415.5,237.7 414.3,240.6 413.4,242.2 C412.6,243.8 411.5,244.8 411.7,245.7 C411.8,246.6 413.9,246.7 414.3,247.4 C414.7,248.2 415.3,249.6 414.3,250.1 C413.3,250.5 409.8,250.8 408.2,250.1 C406.6,249.3 404.7,247.4 404.7,245.7 C404.7,243.9 407.0,242.0 408.2,239.6 C409.3,237.1 411.5,233.0 411.7,230.8 C411.8,228.6 409.8,228.0 409.1,226.4 C408.3,224.8 407.3,223.4 407.3,221.2 C407.3,219.0 408.3,215.8 409.1,213.3 C409.8,210.8 411.5,208.6 411.7,206.3 C411.8,203.9 410.7,201.8 409.9,199.3 C409.2,196.8 408.8,193.1 407.3,191.4 C405.8,189.6 402.3,189.8 401.2,188.8 C400.0,187.7 400.0,186.6 400.3,185.3 C400.6,183.9 402.2,181.9 402.9,180.9 C403.6,179.9 405.0,180.2 404.7,179.3 C404.4,178.5 402.5,177.3 401.2,175.8 C399.9,174.4 398.5,172.0 396.8,170.6 C395.0,169.1 392.4,167.1 390.7,167.1 C388.9,167.1 387.9,168.5 386.3,170.6 C384.7,172.6 382.9,176.9 381.0,179.3 C379.1,181.8 376.4,184.6 374.9,185.5 C373.4,186.4 372.8,185.9 372.3,184.6 C371.7,183.3 371.1,179.5 371.4,177.6 C371.7,175.7 373.0,175.0 374.0,173.2 C375.0,171.5 377.1,169.3 377.5,167.1 C378.0,164.9 377.5,162.1 376.6,160.1 C375.8,158.0 373.9,156.6 372.3,154.8 C370.7,153.1 368.0,153.4 367.0,149.6 C366.0,145.8 366.1,136.9 366.1,132.0 C366.1,127.2 366.0,123.3 367.0,120.7 C368.0,118.0 370.7,117.6 372.3,116.3 C373.9,115.0 376.1,114.2 376.6,112.8 C377.2,111.3 375.8,109.9 375.8,107.5 C375.8,105.2 376.5,100.5 376.6,98.8 C376.8,97.0 377.7,98.1 376.6,97.2 C375.6,96.4 372.2,94.5 370.5,93.7 C368.8,93.0 367.3,93.7 366.7,92.8 C366.0,92.0 366.0,88.8 366.7,88.5 C367.3,88.1 369.4,90.5 370.5,90.7 C371.6,90.9 372.0,88.9 373.1,89.7 C374.3,90.5 376.1,94.7 377.5,95.5 C379.0,96.3 380.0,95.3 381.9,94.6 C383.8,93.9 386.6,92.5 388.9,91.1 C391.2,89.7 395.3,87.6 395.6,86.2 C395.9,84.7 391.9,84.1 390.7,82.3 C389.4,80.5 388.2,77.5 388.0,75.3 C387.9,73.1 390.9,70.1 389.8,69.2 C388.6,68.3 383.6,69.8 381.0,70.1 C378.4,70.4 376.4,71.2 374.0,70.9 C371.7,70.7 368.2,69.8 367.0,68.3 C365.8,66.9 366.4,63.2 367.0,62.2 C367.6,61.2 368.8,61.5 370.5,62.2 C372.3,62.9 375.2,65.7 377.5,66.6 C379.9,67.4 382.6,67.6 384.5,67.4 C386.4,67.3 388.6,66.6 388.9,65.7 C389.2,64.8 387.4,63.5 386.3,62.2 C385.1,60.9 383.6,58.5 381.9,57.8 C380.1,57.1 377.4,58.5 375.8,57.8 C374.2,57.1 372.7,54.9 372.3,53.4 C371.8,52.0 372.3,50.1 373.1,49.1 C374.0,48.0 376.4,47.3 377.5,47.3 C378.7,47.3 379.4,47.9 380.1,49.1 C380.9,50.2 380.9,52.8 381.9,54.3 C382.9,55.8 384.8,56.8 386.3,57.8 C387.7,58.8 389.3,60.6 390.7,60.4 C392.0,60.3 393.9,58.4 394.2,56.9 C394.5,55.5 393.3,53.3 392.4,51.7 C391.5,50.1 389.8,48.9 388.9,47.3 C388.0,45.7 386.7,43.5 387.2,42.0 C387.6,40.6 390.2,38.5 391.5,38.5 C392.8,38.5 393.9,41.3 395.0,42.0 C396.2,42.8 397.7,43.6 398.5,42.9 C399.4,42.2 399.6,39.6 400.3,37.7 C401.0,35.8 401.8,33.4 402.9,31.5 C404.1,29.6 406.6,27.9 407.3,26.3 C408.0,24.7 407.7,23.2 407.3,21.9 C406.9,20.6 405.8,18.8 404.7,18.4 C403.5,18.0 401.3,19.6 400.3,19.3 C399.3,19.0 398.8,17.5 398.5,16.6 C398.2,15.8 398.0,14.7 398.5,14.0 Z" fill="#e5e5e5" stroke="#0a0a0a" stroke-width="0.85"/>
<path d="M388.9,102.3 C389.6,100.1 392.8,97.2 395.0,95.3 C397.2,93.4 400.0,90.9 402.0,90.9 C404.1,90.9 405.5,93.6 407.3,95.3 C409.1,96.9 411.1,98.5 412.6,100.5 C414.0,102.6 415.6,105.5 416.1,107.5 C416.5,109.6 416.2,111.3 415.2,112.8 C414.2,114.2 411.2,114.8 409.9,116.3 C408.6,117.7 408.0,119.6 407.3,121.5 C406.6,123.4 406.6,127.7 405.5,127.7 C404.5,127.7 402.9,123.7 401.2,121.5 C399.4,119.3 396.8,116.7 395.0,114.5 C393.3,112.3 391.7,110.4 390.7,108.4 C389.6,106.4 388.2,104.5 388.9,102.3 Z" fill="#fff" stroke="#0a0a0a" stroke-width="0.85"/>
<path d="M405.5,127.3 Q405.8,133 407.2,139.4" fill="none" stroke="#0a0a0a" stroke-width="0.8"/>
<circle cx="374.9" cy="135.6" r="4" fill="#ff6a00"/>
<circle cx="421.7" cy="171.8" r="4" fill="#ffcc0a"/>
<circle cx="439.2" cy="241.0" r="4" fill="#a82a2e"/>
<circle cx="467.2" cy="267.1" r="4" fill="#00007f"/>
<text x="447.1" y="18.4" font-size="11" textLength="26.4" lengthAdjust="spacingAndGlyphs">3M-3</text>
<rect x="371.10" y="267.8" width="12.50" height="2.90" fill="#fff" stroke="#000" stroke-width="0.45"/>
<rect x="383.60" y="267.8" width="12.50" height="2.90" fill="#000" stroke="#000" stroke-width="0.45"/>
<rect x="396.10" y="267.8" width="12.50" height="2.90" fill="#fff" stroke="#000" stroke-width="0.45"/>
<text x="371.10" y="275.8" font-size="4.4" text-anchor="middle" stroke="#000" stroke-width="0.12">0</text>
<text x="383.60" y="275.8" font-size="4.4" text-anchor="middle" stroke="#000" stroke-width="0.12">5</text>
<text x="396.10" y="275.8" font-size="4.4" text-anchor="middle" stroke="#000" stroke-width="0.12">10</text>
<text x="406.20" y="275.8" font-size="4.4" stroke="#000" stroke-width="0.12">15 m</text>
<rect x="479" y="5.5" width="179.79999999999995" height="184.9" fill="#fff" stroke="#8a8a8a" stroke-width="1"/>
<path d="M513.5,11.4 C514.0,10.3 514.9,9.3 516.2,9.1 C517.5,8.9 520.0,9.3 521.4,10.2 C522.9,11.0 524.2,12.8 524.9,14.0 C525.7,15.2 526.1,16.4 525.8,17.5 C525.5,18.7 522.9,19.7 523.2,21.0 C523.5,22.3 525.7,23.9 527.6,25.4 C529.5,26.9 532.2,28.8 534.6,29.8 C536.9,30.8 540.5,30.9 541.6,31.5 C542.6,32.1 541.7,32.8 540.7,33.3 C539.7,33.7 535.4,33.4 535.4,34.2 C535.4,34.9 539.2,36.1 540.7,37.7 C542.2,39.3 543.3,41.6 544.2,43.8 C545.1,46.0 544.6,49.1 545.9,50.8 C547.3,52.6 549.9,53.3 552.1,54.3 C554.3,55.3 556.6,55.6 559.1,56.9 C561.6,58.2 565.1,61.5 567.0,62.2 C568.9,62.9 568.7,61.2 570.5,61.3 C572.2,61.5 576.5,62.0 577.5,63.1 C578.5,64.1 576.2,66.0 576.6,67.4 C577.0,68.9 578.9,70.2 580.1,71.8 C581.3,73.4 582.4,76.1 583.6,77.1 C584.8,78.0 584.9,77.2 587.3,77.5 C589.7,77.9 594.9,78.4 597.8,79.3 C600.7,80.1 603.4,82.8 604.8,82.8 C606.3,82.8 605.8,79.9 606.6,79.3 C607.3,78.7 608.6,78.2 609.2,79.3 C609.8,80.3 608.9,83.8 610.1,85.4 C611.2,87.0 615.0,88.9 616.2,88.9 C617.4,88.9 616.6,86.0 617.1,85.4 C617.5,84.8 618.4,84.5 618.8,85.4 C619.3,86.3 618.5,89.3 619.7,90.7 C620.9,92.0 624.5,92.1 625.8,93.3 C627.2,94.5 627.6,96.2 627.6,97.7 C627.6,99.1 624.7,100.9 625.8,102.0 C627.0,103.2 632.1,103.6 634.6,104.7 C637.1,105.7 639.0,107.6 640.7,108.2 C642.5,108.8 644.2,107.4 645.1,108.2 C646.0,108.9 646.0,110.9 646.0,112.6 C646.0,114.2 644.5,116.1 645.1,117.8 C645.7,119.6 648.3,121.0 649.5,123.1 C650.7,125.1 651.7,127.4 652.1,130.1 C652.6,132.7 652.8,136.5 652.1,138.8 C651.4,141.2 649.2,142.0 647.7,144.1 C646.3,146.1 644.2,148.9 643.4,151.1 C642.5,153.3 643.2,155.8 642.5,157.2 C641.8,158.7 639.3,158.7 639.0,159.9 C638.7,161.0 639.4,162.9 640.7,164.2 C642.0,165.5 644.2,166.4 646.9,167.7 C649.5,169.1 654.7,170.5 656.5,172.1 C658.2,173.7 657.5,175.8 657.4,177.4 C657.2,179.0 656.5,180.4 655.6,181.8 C654.7,183.1 653.9,184.5 652.1,185.3 C650.4,186.0 647.6,186.6 645.1,186.1 C642.6,185.7 639.1,183.5 637.2,182.6 C635.3,181.8 634.5,182.0 633.7,180.9 C633.0,179.7 633.4,177.8 632.8,175.6 C632.3,173.4 632.0,169.1 630.2,167.7 C628.5,166.4 625.1,167.9 622.3,167.7 C619.6,167.6 616.6,166.9 613.6,166.9 C610.5,166.9 606.4,168.2 603.9,167.7 C601.5,167.3 600.4,165.1 598.7,164.2 C596.9,163.4 594.5,163.6 593.4,162.5 C592.4,161.3 593.3,158.8 592.6,157.2 C591.8,155.6 589.6,154.5 589.1,152.8 C588.5,151.2 588.6,149.3 589.1,147.6 C589.5,145.8 591.1,144.4 591.7,142.3 C592.3,140.3 592.6,137.8 592.6,135.3 C592.6,132.8 592.1,130.1 591.7,127.4 C591.2,124.8 590.1,121.9 589.9,119.6 C589.8,117.2 590.2,115.2 590.8,113.4 C591.4,111.7 593.7,110.4 593.4,109.1 C593.1,107.7 590.8,106.9 589.1,105.5 C587.3,104.2 585.3,102.6 582.9,101.2 C580.6,99.7 577.8,98.2 575.0,96.8 C572.3,95.3 568.9,93.7 566.3,92.4 C563.6,91.1 561.5,90.2 559.3,88.9 C557.1,87.6 554.5,86.1 553.1,84.5 C551.8,82.9 551.1,80.4 551.4,79.3 C551.7,78.1 553.0,77.5 554.9,77.5 C556.8,77.5 560.4,79.3 562.8,79.3 C565.1,79.3 567.3,78.2 568.9,77.5 C570.5,76.8 572.8,76.2 572.4,74.9 C572.0,73.6 567.3,70.4 566.3,69.6 C565.2,68.8 567.0,71.0 566.1,70.1 C565.2,69.1 563.2,65.7 560.8,63.9 C558.5,62.2 554.4,61.0 552.1,59.6 C549.7,58.1 548.6,56.4 546.8,55.2 C545.1,54.0 543.3,54.0 541.6,52.6 C539.8,51.1 538.4,47.9 536.3,46.4 C534.3,45.0 531.2,44.5 529.3,43.8 C527.4,43.1 525.9,42.0 524.9,42.0 C523.9,42.0 524.1,44.2 523.2,43.8 C522.3,43.4 520.7,39.3 519.7,39.4 C518.6,39.6 518.6,43.4 517.0,44.7 C515.4,46.0 512.1,46.3 510.0,47.3 C508.0,48.3 506.8,49.6 504.8,50.8 C502.7,52.0 499.8,53.4 497.8,54.3 C495.7,55.2 493.7,54.9 492.5,56.1 C491.4,57.2 491.8,60.6 490.8,61.3 C489.7,62.0 487.3,61.3 486.4,60.4 C485.5,59.6 485.4,57.5 485.5,56.1 C485.7,54.6 486.4,52.3 487.3,51.7 C488.1,51.1 489.0,52.7 490.8,52.6 C492.5,52.4 496.0,51.7 497.8,50.8 C499.5,49.9 500.4,48.6 501.3,47.3 C502.2,46.0 502.6,43.1 503.0,42.9 C503.5,42.8 502.7,46.1 503.9,46.4 C505.1,46.7 508.1,45.4 510.0,44.7 C511.9,43.9 514.0,43.2 515.3,42.0 C516.6,40.9 517.6,39.4 517.9,37.7 C518.2,35.9 517.8,33.1 517.0,31.5 C516.3,29.9 514.9,28.9 513.5,28.0 C512.2,27.2 510.2,26.0 509.2,26.3 C508.1,26.6 508.4,29.9 507.4,29.8 C506.4,29.6 504.1,27.4 503.0,25.4 C502.0,23.4 500.8,18.4 501.3,17.5 C501.7,16.6 504.3,19.3 505.7,20.1 C507.0,21.0 507.7,22.9 509.2,22.8 C510.6,22.6 513.7,20.4 514.4,19.3 C515.1,18.1 513.7,17.1 513.5,15.8 C513.4,14.5 513.1,12.5 513.5,11.4 Z" fill="#e5e5e5" stroke="#0a0a0a" stroke-width="0.85"/>
<path d="M510.0,21.9 C510.5,21.1 513.1,19.6 514.4,19.6 C515.7,19.6 517.6,21.1 517.9,21.9 C518.2,22.7 517.2,24.1 516.2,24.5 C515.1,24.9 512.8,24.6 511.8,24.2 C510.8,23.7 509.6,22.7 510.0,21.9 Z" fill="#1f4e92"/>
<path d="M524.9,34.2 C525.8,34.2 527.7,36.5 529.3,37.7 C530.9,38.8 533.8,40.0 534.6,41.2 C535.3,42.3 534.7,44.5 533.7,44.7 C532.7,44.8 530.0,43.2 528.4,42.0 C526.8,40.9 524.6,39.0 524.1,37.7 C523.5,36.4 524.1,34.2 524.9,34.2 Z" fill="#1f4e92"/>
<path d="M536.3,35.9 C537.2,35.6 539.4,36.1 540.7,37.7 C542.0,39.3 543.5,43.5 544.2,45.5 C544.9,47.6 545.7,49.1 545.1,49.9 C544.5,50.8 541.7,51.8 540.7,50.8 C539.7,49.8 539.8,45.7 538.9,43.8 C538.1,41.9 535.9,40.7 535.4,39.4 C535.0,38.1 535.4,36.2 536.3,35.9 Z" fill="#1f4e92"/>
<path d="M521.4,25.4 C522.0,24.4 524.2,23.8 525.8,24.5 C527.4,25.3 529.7,28.2 531.1,29.8 C532.4,31.4 533.5,32.8 533.7,34.2 C533.8,35.5 533.1,37.5 531.9,37.7 C530.8,37.8 528.3,36.2 526.7,35.0 C525.1,33.9 523.2,32.3 522.3,30.7 C521.4,29.1 520.8,26.4 521.4,25.4 Z" fill="#80481f"/>
<path d="M595.2,97.7 C595.8,95.9 596.6,94.5 598.7,93.3 C600.7,92.1 605.0,90.9 607.4,90.7 C609.9,90.4 612.0,90.4 613.6,91.5 C615.2,92.7 616.2,97.2 617.1,97.7 C618.0,98.1 617.7,94.5 618.8,94.2 C620.0,93.9 623.1,94.9 624.1,95.9 C625.1,96.9 625.3,99.1 625.0,100.3 C624.7,101.5 623.4,102.6 622.3,102.9 C621.3,103.2 619.1,101.5 618.8,102.0 C618.5,102.6 619.6,105.3 620.6,106.4 C621.6,107.6 622.5,108.5 625.0,109.1 C627.4,109.6 633.1,108.8 635.5,109.9 C637.8,111.1 638.8,114.2 639.0,116.1 C639.1,118.0 638.4,120.3 636.4,121.3 C634.3,122.3 628.8,123.1 626.7,122.2 C624.7,121.3 624.5,118.1 624.1,116.1 C623.6,114.0 624.8,111.2 624.1,109.9 C623.4,108.6 620.9,107.7 619.7,108.2 C618.5,108.6 618.0,111.2 617.1,112.6 C616.2,113.9 615.0,116.1 614.5,116.1 C613.9,116.1 614.3,112.8 613.6,112.6 C612.8,112.3 611.1,114.5 610.1,114.3 C609.1,114.2 608.2,113.0 607.4,111.7 C606.7,110.4 606.7,107.2 605.7,106.4 C604.7,105.7 602.2,106.6 601.3,107.3 C600.4,108.0 601.3,110.1 600.4,110.8 C599.6,111.5 597.4,111.8 596.1,111.7 C594.7,111.5 592.7,111.2 592.6,109.9 C592.4,108.6 594.7,105.8 595.2,103.8 C595.6,101.8 594.6,99.4 595.2,97.7 Z" fill="#80481f"/>
<path d="M612.7,120.4 C614.3,120.0 620.4,121.0 622.3,122.2 C624.2,123.4 621.9,127.2 624.1,127.4 C626.3,127.7 633.3,123.5 635.5,123.9 C637.7,124.4 636.1,128.3 637.2,130.1 C638.4,131.8 641.8,132.1 642.5,134.5 C643.2,136.8 642.3,141.0 641.6,144.1 C640.9,147.2 639.3,149.9 638.1,152.8 C636.9,155.8 635.8,159.4 634.6,161.6 C633.4,163.8 632.8,165.3 631.1,166.0 C629.3,166.7 626.7,166.3 624.1,166.0 C621.5,165.7 618.0,165.0 615.3,164.2 C612.7,163.5 609.9,162.8 608.3,161.6 C606.7,160.4 605.5,159.3 605.7,157.2 C605.8,155.2 608.2,152.1 609.2,149.3 C610.2,146.6 610.9,142.9 611.8,140.6 C612.7,138.2 613.4,136.4 614.5,135.3 C615.5,134.3 617.4,135.2 618.0,134.5 C618.5,133.7 618.4,131.7 618.0,130.9 C617.5,130.2 616.2,131.1 615.3,130.1 C614.5,129.1 613.1,126.4 612.7,124.8 C612.3,123.2 611.1,120.9 612.7,120.4 Z" fill="#80481f"/>
<path d="M597.8,122.2 C599.0,121.3 605.0,119.9 606.6,119.6 C608.2,119.3 608.6,119.6 607.4,120.4 C606.3,121.3 601.2,124.5 599.6,124.8 C598.0,125.1 596.6,123.1 597.8,122.2 Z" fill="#80481f"/>
<path d="M597.8,135.3 C598.2,134.0 599.7,133.3 600.4,134.5 C601.2,135.6 601.9,140.1 602.2,142.3 C602.5,144.5 602.6,146.4 602.2,147.6 C601.8,148.8 600.3,150.2 599.6,149.3 C598.8,148.5 598.1,144.7 597.8,142.3 C597.5,140.0 597.4,136.6 597.8,135.3 Z" fill="#80481f"/>
<path d="M592.6,147.6 C593.1,146.4 594.6,145.5 595.2,145.8 C595.8,146.1 596.4,147.9 596.1,149.3 C595.8,150.8 594.2,154.0 593.4,154.6 C592.7,155.2 591.8,154.0 591.7,152.8 C591.5,151.7 592.0,148.8 592.6,147.6 Z" fill="#80481f"/>
<path d="M573.3,83.6 C573.7,82.9 575.8,82.9 576.8,83.6 C577.8,84.4 579.1,86.3 579.4,88.0 C579.7,89.8 579.1,93.4 578.5,94.2 C578.0,94.9 576.6,93.4 575.9,92.4 C575.2,91.4 574.6,89.5 574.2,88.0 C573.7,86.6 572.8,84.4 573.3,83.6 Z" fill="#80481f"/>
<path d="M588.2,83.6 C588.6,82.9 591.5,82.5 592.6,82.8 C593.6,83.1 594.7,84.7 594.3,85.4 C593.9,86.1 590.9,87.4 589.9,87.2 C588.9,86.9 587.7,84.4 588.2,83.6 Z" fill="#80481f"/>
<path d="M596.1,85.4 C596.8,84.7 599.3,84.2 600.4,84.5 C601.6,84.8 603.2,86.3 603.1,87.2 C602.9,88.0 600.7,89.5 599.6,89.8 C598.4,90.1 596.6,89.6 596.1,88.9 C595.5,88.2 595.3,86.1 596.1,85.4 Z" fill="#80481f"/>
<path d="M562.8,87.2 C563.5,86.9 567.7,87.3 568.9,88.0 C570.1,88.8 570.5,91.2 569.8,91.5 C569.1,91.8 565.7,90.5 564.5,89.8 C563.4,89.1 562.0,87.4 562.8,87.2 Z" fill="#80481f"/>
<path d="M590.8,91.5 C591.5,90.9 594.7,90.7 595.2,91.5 C595.6,92.4 594.2,96.2 593.4,96.8 C592.7,97.4 591.2,95.9 590.8,95.0 C590.4,94.2 590.1,92.1 590.8,91.5 Z" fill="#80481f"/>
<circle cx="518.8" cy="24.5" r="4" fill="#ff6a00"/>
<circle cx="486.4" cy="57.3" r="4" fill="#ffcc0a"/>
<circle cx="565.9" cy="82.8" r="4" fill="#a82a2e"/>
<circle cx="588.2" cy="92.8" r="4" fill="#00007f"/>
<text x="623" y="18.4" font-size="11" textLength="32" lengthAdjust="spacingAndGlyphs">3M-49</text>
<rect x="483.30" y="178.8" width="13.62" height="2.60" fill="#fff" stroke="#000" stroke-width="0.45"/>
<rect x="496.93" y="178.8" width="13.62" height="2.60" fill="#000" stroke="#000" stroke-width="0.45"/>
<rect x="510.55" y="178.8" width="13.62" height="2.60" fill="#fff" stroke="#000" stroke-width="0.45"/>
<rect x="524.17" y="178.8" width="13.62" height="2.60" fill="#000" stroke="#000" stroke-width="0.45"/>
<text x="483.30" y="186.3" font-size="4.1" text-anchor="middle" stroke="#000" stroke-width="0.12">0</text>
<text x="496.93" y="186.3" font-size="4.1" text-anchor="middle" stroke="#000" stroke-width="0.12">5</text>
<text x="510.55" y="186.3" font-size="4.1" text-anchor="middle" stroke="#000" stroke-width="0.12">10</text>
<text x="524.17" y="186.3" font-size="4.1" text-anchor="middle" stroke="#000" stroke-width="0.12">15</text>
<text x="535.00" y="186.3" font-size="4.1" stroke="#000" stroke-width="0.12">20m</text>
<circle cx="653" cy="177.5" r="5" fill="#fff"/><text x="653.5" y="178.5" font-size="3" text-anchor="middle">1 km</text><path d="M650,183 l6,3" stroke="#000" stroke-width="0.5"/>
<rect x="39.3" y="192.4" width="323.09999999999997" height="90.4" fill="#fff" stroke="#8a8a8a" stroke-width="1"/>
<path d="M46.1,199.9 C46.9,198.4 47.6,197.1 49.9,196.2 C52.1,195.3 56.1,194.4 59.8,194.4 C63.5,194.4 69.3,195.1 72.2,196.2 C75.1,197.3 75.5,199.3 77.2,201.1 C78.8,203.0 79.6,205.7 82.1,207.3 C84.6,209.0 88.7,209.8 92.0,211.1 C95.4,212.3 99.5,213.3 102.0,214.8 C104.5,216.2 103.6,219.1 106.9,219.7 C110.2,220.4 117.3,217.7 121.8,218.5 C126.4,219.3 130.1,223.3 134.2,224.7 C138.4,226.2 142.1,225.7 146.6,227.2 C151.2,228.6 158.4,232.6 161.5,233.4 C164.6,234.2 161.9,231.5 165.3,232.2 C168.6,232.8 177.3,235.8 181.4,237.1 C185.5,238.5 185.9,239.3 190.0,240.2 C194.1,241.0 200.5,242.1 205.8,242.3 C211.0,242.5 217.2,242.1 221.5,241.5 C225.9,240.9 228.5,239.2 232.0,238.9 C235.5,238.6 239.5,240.1 242.6,239.7 C245.6,239.2 247.6,237.2 250.4,236.2 C253.3,235.3 257.0,233.7 259.6,234.1 C262.3,234.6 263.4,237.0 266.2,238.9 C269.1,240.8 272.3,244.1 276.7,245.4 C281.1,246.8 287.2,246.0 292.5,246.8 C297.7,247.5 302.6,249.9 308.2,250.2 C313.9,250.4 321.4,248.3 326.6,248.1 C331.9,247.8 336.3,248.4 339.8,248.9 C343.3,249.3 344.9,249.7 347.7,250.7 C350.4,251.7 355.0,252.9 356.1,254.6 C357.2,256.4 355.6,258.4 354.2,261.2 C352.8,264.1 350.1,269.1 347.7,271.7 C345.3,274.3 343.3,276.0 339.8,277.0 C336.3,277.9 331.0,277.6 326.6,277.5 C322.3,277.4 317.9,277.0 313.5,276.4 C309.1,275.9 303.4,275.4 300.4,274.3 C297.3,273.3 297.7,271.5 295.1,270.4 C292.5,269.3 289.0,268.6 284.6,267.8 C280.2,266.9 273.9,264.9 268.8,265.1 C263.8,265.4 257.2,267.8 254.4,269.1 C251.5,270.4 253.3,272.2 251.8,273.0 C250.2,273.9 247.2,273.2 245.2,274.3 C243.2,275.4 242.6,278.5 239.9,279.6 C237.3,280.7 232.7,281.1 229.4,280.9 C226.1,280.7 222.6,279.6 220.2,278.3 C217.8,277.0 217.4,274.6 215.0,273.0 C212.6,271.5 208.6,270.6 205.8,269.1 C202.9,267.6 200.7,264.8 197.9,263.8 C195.1,262.8 191.2,263.9 188.8,263.2 C186.5,262.4 187.2,259.7 183.9,259.5 C180.6,259.2 173.5,261.7 169.0,261.9 C164.4,262.1 159.9,261.3 156.6,260.7 C153.3,260.1 150.6,259.2 149.1,258.2 C147.7,257.2 149.5,256.4 147.9,254.5 C146.2,252.6 141.5,248.0 139.2,247.0 C136.9,246.1 136.3,248.8 134.2,249.0 C132.2,249.2 130.5,248.6 126.8,248.3 C123.1,248.0 116.4,247.7 111.9,247.0 C107.3,246.4 103.2,245.6 99.5,244.6 C95.8,243.5 92.0,242.3 89.6,240.8 C87.1,239.4 87.1,237.3 84.6,235.9 C82.1,234.4 78.0,234.0 74.7,232.2 C71.4,230.3 68.1,227.2 64.7,224.7 C61.4,222.2 57.7,219.5 54.8,217.3 C51.9,215.0 48.9,213.1 47.4,211.1 C45.8,209.0 45.6,206.7 45.4,204.9 C45.2,203.0 45.4,201.3 46.1,199.9 Z" fill="#e5e5e5" stroke="#0a0a0a" stroke-width="0.85"/>
<path d="M216.3,261.2 C217.2,258.6 219.3,255.3 221.5,253.3 C223.7,251.4 226.4,249.6 229.4,249.4 C232.5,249.2 237.3,250.5 239.9,252.0 C242.6,253.5 244.1,255.7 245.2,258.6 C246.3,261.4 246.7,266.0 246.5,269.1 C246.3,272.2 245.4,275.1 243.9,277.0 C242.3,278.8 240.1,279.5 237.3,280.1 C234.5,280.8 229.9,281.4 226.8,280.9 C223.7,280.4 220.7,278.9 218.9,277.0 C217.1,275.0 216.2,271.7 215.8,269.1 C215.3,266.5 215.3,263.8 216.3,261.2 Z" fill="#ab7dab" stroke="#223" stroke-width="0.6"/>
<path d="M295.1,266.5 C295.3,263.6 297.3,258.6 299.1,255.9 C300.8,253.3 301.9,251.9 305.6,250.7 C309.3,249.5 316.1,249.2 321.4,248.9 C326.6,248.5 333.2,247.7 337.2,248.9 C341.1,250.0 343.5,253.0 345.0,255.9 C346.6,258.9 346.6,263.4 346.4,266.5 C346.1,269.5 345.5,272.5 343.7,274.3 C342.0,276.2 339.6,277.0 335.8,277.5 C332.1,278.0 326.4,277.8 321.4,277.5 C316.4,277.2 309.6,276.4 305.6,275.7 C301.7,274.9 299.5,274.6 297.7,273.0 C296.0,271.5 294.9,269.3 295.1,266.5 Z" fill="#ab7dab" stroke="#223" stroke-width="0.6"/>
<circle cx="50.4" cy="202.4" r="4" fill="#00007f"/>
<circle cx="150.6" cy="242.3" r="4" fill="#a82a2e"/>
<circle cx="218.9" cy="265.7" r="4" fill="#ffcc0a"/>
<text x="321.4" y="206" font-size="11" textLength="30.2" lengthAdjust="spacingAndGlyphs">3H-11</text>
<rect x="44.60" y="266.2" width="17.32" height="2.90" fill="#fff" stroke="#000" stroke-width="0.45"/>
<rect x="61.92" y="266.2" width="17.32" height="2.90" fill="#000" stroke="#000" stroke-width="0.45"/>
<rect x="79.24" y="266.2" width="17.32" height="2.90" fill="#fff" stroke="#000" stroke-width="0.45"/>
<rect x="96.56" y="266.2" width="17.32" height="2.90" fill="#000" stroke="#000" stroke-width="0.45"/>
<rect x="113.88" y="266.2" width="17.32" height="2.90" fill="#fff" stroke="#000" stroke-width="0.45"/>
<text x="44.60" y="274.9" font-size="4.4" text-anchor="middle" stroke="#000" stroke-width="0.12">0</text>
<text x="61.92" y="274.9" font-size="4.4" text-anchor="middle" stroke="#000" stroke-width="0.12">10</text>
<text x="79.24" y="274.9" font-size="4.4" text-anchor="middle" stroke="#000" stroke-width="0.12">20</text>
<text x="96.56" y="274.9" font-size="4.4" text-anchor="middle" stroke="#000" stroke-width="0.12">30</text>
<text x="113.88" y="274.9" font-size="4.4" text-anchor="middle" stroke="#000" stroke-width="0.12">40</text>
<text x="127.60" y="274.9" font-size="4.4" stroke="#000" stroke-width="0.12">50 m</text>
<text x="524.8" y="203.4" font-size="13.5" text-anchor="middle" textLength="31" lengthAdjust="spacingAndGlyphs">Cave</text>
<text x="639" y="204" font-size="13.5" text-anchor="middle" textLength="28.8" lengthAdjust="spacingAndGlyphs">Zone</text>
<text x="480.5" y="214.8" font-size="9" textLength="127" lengthAdjust="spacingAndGlyphs">Shades of Death Cave (3M-3)</text>
<text x="481.7" y="227" font-size="8" textLength="110.4" lengthAdjust="spacingAndGlyphs">Scrubby Creek Cave (3M-49)</text>
<text x="481.7" y="238.4" font-size="8" textLength="74.5" lengthAdjust="spacingAndGlyphs">Tunnel Cave (3H-9)</text>
<text x="481.7" y="249.4" font-size="8" textLength="90" lengthAdjust="spacingAndGlyphs">Harman 1 Cave (3H-11)</text>
<circle cx="616.3" cy="212.0" r="4" fill="#ffcc0a"/>
<text x="623.1" y="215.4" font-size="9.6" textLength="37.4" lengthAdjust="spacingAndGlyphs">Entrance</text>
<circle cx="616.3" cy="223.3" r="4" fill="#ff6a00"/>
<text x="623.1" y="226.70000000000002" font-size="9.6" textLength="31.2" lengthAdjust="spacingAndGlyphs">Twilight</text>
<circle cx="616.3" cy="234.7" r="4" fill="#a82a2e"/>
<text x="623.1" y="238.1" font-size="9.6" textLength="41" lengthAdjust="spacingAndGlyphs">Transition</text>
<circle cx="616.3" cy="245.6" r="4" fill="#00007f"/>
<text x="623.1" y="249.0" font-size="9.6" textLength="22" lengthAdjust="spacingAndGlyphs">Deep</text>
<text x="565.3" y="264.1" font-size="13.5" text-anchor="middle" textLength="44.4" lengthAdjust="spacingAndGlyphs">Feature</text>
<rect x="482.7" y="270.2" width="11.6" height="11.4" fill="#d3d3d3"/>
<text x="497.1" y="279.8" font-size="9.4" textLength="21.7" lengthAdjust="spacingAndGlyphs">Cave</text>
<rect x="527.7" y="270.2" width="11.6" height="11.4" fill="#80481f"/>
<text x="539.4" y="279.8" font-size="9.4" textLength="18.4" lengthAdjust="spacingAndGlyphs">Infill</text>
<rect x="567.6" y="270.2" width="11.6" height="11.4" fill="#1f4e92"/>
<text x="579.2" y="279.8" font-size="9.4" textLength="25.5" lengthAdjust="spacingAndGlyphs">Water</text>
<rect x="616.6" y="270.2" width="11.6" height="11.4" fill="#b07fb0"/>
<text x="630.7" y="279.8" font-size="9.4" textLength="26.1" lengthAdjust="spacingAndGlyphs">Doline</text>
<text x="25.3" y="10.6" font-size="20" font-weight="bold">a</text>
<rect x="111.95" y="308.35" width="6.85" height="6.1" fill="#DAB063"/>
<rect x="118.65" y="308.35" width="46.06" height="6.1" fill="#7348A0"/>
<rect x="164.56" y="308.35" width="5.61" height="6.1" fill="#D2ABB7"/>
<rect x="170.02" y="308.35" width="9.58" height="6.1" fill="#ED9047"/>
<rect x="171.91" y="308.35" width="0.35" height="6.1" fill="#f3a766"/>
<rect x="173.79" y="308.35" width="0.35" height="6.1" fill="#f3a766"/>
<rect x="175.68" y="308.35" width="0.35" height="6.1" fill="#f3a766"/>
<rect x="177.57" y="308.35" width="0.35" height="6.1" fill="#f3a766"/>
<rect x="179.45" y="308.35" width="3.87" height="6.1" fill="#FEAD4F"/>
<rect x="183.18" y="308.35" width="5.61" height="6.1" fill="#EA3F40"/>
<rect x="188.64" y="308.35" width="5.36" height="6.1" fill="#B89C75"/>
<rect x="193.85" y="308.35" width="12.31" height="6.1" fill="#A6D981"/>
<rect x="206.01" y="308.35" width="3.87" height="6.1" fill="#73B39C"/>
<rect x="209.73" y="308.35" width="28.19" height="6.1" fill="#267DB2"/>
<rect x="237.77" y="308.35" width="22.49" height="6.1" fill="#5FA1CA"/>
<rect x="260.11" y="308.35" width="5.11" height="6.1" fill="#A6CEE3"/>
<rect x="111.95" y="315.13" width="35.89" height="6.1" fill="#7348A0"/>
<rect x="147.69" y="315.13" width="4.12" height="6.1" fill="#A585BF"/>
<rect x="151.66" y="315.13" width="4.37" height="6.1" fill="#D2ABB7"/>
<rect x="155.88" y="315.13" width="15.79" height="6.1" fill="#ED9047"/>
<rect x="157.83" y="315.13" width="0.35" height="6.1" fill="#f3a766"/>
<rect x="159.78" y="315.13" width="0.35" height="6.1" fill="#f3a766"/>
<rect x="161.74" y="315.13" width="0.35" height="6.1" fill="#f3a766"/>
<rect x="163.69" y="315.13" width="0.35" height="6.1" fill="#f3a766"/>
<rect x="165.65" y="315.13" width="0.35" height="6.1" fill="#f3a766"/>
<rect x="167.60" y="315.13" width="0.35" height="6.1" fill="#f3a766"/>
<rect x="169.56" y="315.13" width="0.35" height="6.1" fill="#f3a766"/>
<rect x="171.51" y="315.13" width="3.87" height="6.1" fill="#FEAD4F"/>
<rect x="175.23" y="315.13" width="3.87" height="6.1" fill="#B89C75"/>
<rect x="178.96" y="315.13" width="17.27" height="6.1" fill="#A6D981"/>
<rect x="196.08" y="315.13" width="40.60" height="6.1" fill="#267DB2"/>
<rect x="236.53" y="315.13" width="23.73" height="6.1" fill="#5FA1CA"/>
<rect x="260.11" y="315.13" width="5.11" height="6.1" fill="#A6CEE3"/>
<rect x="111.95" y="321.92" width="4.37" height="6.1" fill="#DAB063"/>
<rect x="116.17" y="321.92" width="43.58" height="6.1" fill="#7348A0"/>
<rect x="159.60" y="321.92" width="5.11" height="6.1" fill="#A585BF"/>
<rect x="164.56" y="321.92" width="4.62" height="6.1" fill="#D2ABB7"/>
<rect x="169.03" y="321.92" width="5.11" height="6.1" fill="#ED9047"/>
<rect x="170.68" y="321.92" width="0.35" height="6.1" fill="#f3a766"/>
<rect x="172.34" y="321.92" width="0.35" height="6.1" fill="#f3a766"/>
<rect x="173.99" y="321.92" width="3.13" height="6.1" fill="#FF8B15"/>
<rect x="176.97" y="321.92" width="6.35" height="6.1" fill="#EA3F40"/>
<rect x="183.18" y="321.92" width="3.38" height="6.1" fill="#B89C75"/>
<rect x="186.40" y="321.92" width="4.87" height="6.1" fill="#A6D981"/>
<rect x="191.12" y="321.92" width="3.87" height="6.1" fill="#73B39C"/>
<rect x="194.84" y="321.92" width="50.53" height="6.1" fill="#267DB2"/>
<rect x="245.22" y="321.92" width="15.04" height="6.1" fill="#5FA1CA"/>
<rect x="260.11" y="321.92" width="5.11" height="6.1" fill="#A6CEE3"/>
<rect x="111.95" y="328.70" width="9.33" height="6.1" fill="#DAB063"/>
<rect x="121.13" y="328.70" width="5.11" height="6.1" fill="#AA909A"/>
<rect x="126.09" y="328.70" width="44.82" height="6.1" fill="#7348A0"/>
<rect x="170.77" y="328.70" width="5.11" height="6.1" fill="#A585BF"/>
<rect x="175.73" y="328.70" width="7.60" height="6.1" fill="#D2ABB7"/>
<rect x="183.18" y="328.70" width="11.81" height="6.1" fill="#ED9047"/>
<rect x="185.12" y="328.70" width="0.35" height="6.1" fill="#f3a766"/>
<rect x="187.06" y="328.70" width="0.35" height="6.1" fill="#f3a766"/>
<rect x="189.01" y="328.70" width="0.35" height="6.1" fill="#f3a766"/>
<rect x="190.95" y="328.70" width="0.35" height="6.1" fill="#f3a766"/>
<rect x="192.90" y="328.70" width="0.35" height="6.1" fill="#f3a766"/>
<rect x="194.84" y="328.70" width="7.60" height="6.1" fill="#EA3F40"/>
<rect x="202.28" y="328.70" width="3.87" height="6.1" fill="#B89C75"/>
<rect x="206.01" y="328.70" width="4.62" height="6.1" fill="#63B850"/>
<rect x="210.47" y="328.70" width="11.32" height="6.1" fill="#A6D981"/>
<rect x="221.64" y="328.70" width="8.34" height="6.1" fill="#73B39C"/>
<rect x="229.83" y="328.70" width="11.32" height="6.1" fill="#267DB2"/>
<rect x="241.00" y="328.70" width="15.04" height="6.1" fill="#5FA1CA"/>
<rect x="255.89" y="328.70" width="9.33" height="6.1" fill="#A6CEE3"/>
<rect x="111.95" y="335.49" width="10.08" height="6.1" fill="#DAB063"/>
<rect x="121.88" y="335.49" width="50.28" height="6.1" fill="#7348A0"/>
<rect x="172.01" y="335.49" width="10.08" height="6.1" fill="#A585BF"/>
<rect x="181.93" y="335.49" width="6.85" height="6.1" fill="#D2ABB7"/>
<rect x="188.64" y="335.49" width="18.27" height="6.1" fill="#ED9047"/>
<rect x="190.65" y="335.49" width="0.35" height="6.1" fill="#f3a766"/>
<rect x="192.66" y="335.49" width="0.35" height="6.1" fill="#f3a766"/>
<rect x="194.67" y="335.49" width="0.35" height="6.1" fill="#f3a766"/>
<rect x="196.69" y="335.49" width="0.35" height="6.1" fill="#f3a766"/>
<rect x="198.70" y="335.49" width="0.35" height="6.1" fill="#f3a766"/>
<rect x="200.71" y="335.49" width="0.35" height="6.1" fill="#f3a766"/>
<rect x="202.73" y="335.49" width="0.35" height="6.1" fill="#f3a766"/>
<rect x="204.74" y="335.49" width="0.35" height="6.1" fill="#f3a766"/>
<rect x="206.75" y="335.49" width="8.34" height="6.1" fill="#EA3F40"/>
<rect x="214.94" y="335.49" width="4.37" height="6.1" fill="#B89C75"/>
<rect x="219.16" y="335.49" width="5.86" height="6.1" fill="#A6D981"/>
<rect x="224.87" y="335.49" width="5.11" height="6.1" fill="#73B39C"/>
<rect x="229.83" y="335.49" width="14.30" height="6.1" fill="#267DB2"/>
<rect x="243.98" y="335.49" width="16.28" height="6.1" fill="#5FA1CA"/>
<rect x="260.11" y="335.49" width="5.11" height="6.1" fill="#A6CEE3"/>
<rect x="111.95" y="342.27" width="4.87" height="6.1" fill="#DAB063"/>
<rect x="116.66" y="342.27" width="46.31" height="6.1" fill="#7348A0"/>
<rect x="162.82" y="342.27" width="10.57" height="6.1" fill="#A585BF"/>
<rect x="173.25" y="342.27" width="20.00" height="6.1" fill="#ED9047"/>
<rect x="175.23" y="342.27" width="0.35" height="6.1" fill="#f3a766"/>
<rect x="177.22" y="342.27" width="0.35" height="6.1" fill="#f3a766"/>
<rect x="179.20" y="342.27" width="0.35" height="6.1" fill="#f3a766"/>
<rect x="181.19" y="342.27" width="0.35" height="6.1" fill="#f3a766"/>
<rect x="183.18" y="342.27" width="0.35" height="6.1" fill="#f3a766"/>
<rect x="185.16" y="342.27" width="0.35" height="6.1" fill="#f3a766"/>
<rect x="187.15" y="342.27" width="0.35" height="6.1" fill="#f3a766"/>
<rect x="189.13" y="342.27" width="0.35" height="6.1" fill="#f3a766"/>
<rect x="191.12" y="342.27" width="0.35" height="6.1" fill="#f3a766"/>
<rect x="193.10" y="342.27" width="4.37" height="6.1" fill="#B89C75"/>
<rect x="197.32" y="342.27" width="17.77" height="6.1" fill="#509F3C"/>
<rect x="214.94" y="342.27" width="8.84" height="6.1" fill="#A6D981"/>
<rect x="223.63" y="342.27" width="16.28" height="6.1" fill="#73B39C"/>
<rect x="239.76" y="342.27" width="10.08" height="6.1" fill="#267DB2"/>
<rect x="249.69" y="342.27" width="9.33" height="6.1" fill="#5FA1CA"/>
<rect x="258.87" y="342.27" width="6.35" height="6.1" fill="#A6CEE3"/>
<rect x="111.95" y="349.06" width="11.81" height="6.1" fill="#7348A0"/>
<rect x="123.61" y="349.06" width="3.38" height="6.1" fill="#A585BF"/>
<rect x="126.84" y="349.06" width="10.08" height="6.1" fill="#ED9047"/>
<rect x="128.82" y="349.06" width="0.35" height="6.1" fill="#f3a766"/>
<rect x="130.81" y="349.06" width="0.35" height="6.1" fill="#f3a766"/>
<rect x="132.80" y="349.06" width="0.35" height="6.1" fill="#f3a766"/>
<rect x="134.78" y="349.06" width="0.35" height="6.1" fill="#f3a766"/>
<rect x="136.77" y="349.06" width="3.62" height="6.1" fill="#B89C75"/>
<rect x="140.24" y="349.06" width="21.24" height="6.1" fill="#A6D981"/>
<rect x="161.34" y="349.06" width="92.72" height="6.1" fill="#267DB2"/>
<rect x="253.91" y="349.06" width="6.85" height="6.1" fill="#5FA1CA"/>
<rect x="260.61" y="349.06" width="4.62" height="6.1" fill="#A6CEE3"/>
<rect x="111.95" y="355.84" width="10.57" height="6.1" fill="#DAB063"/>
<rect x="122.37" y="355.84" width="43.58" height="6.1" fill="#7348A0"/>
<rect x="165.80" y="355.84" width="4.37" height="6.1" fill="#A585BF"/>
<rect x="170.02" y="355.84" width="9.08" height="6.1" fill="#D2ABB7"/>
<rect x="178.96" y="355.84" width="11.81" height="6.1" fill="#ED9047"/>
<rect x="180.90" y="355.84" width="0.35" height="6.1" fill="#f3a766"/>
<rect x="182.84" y="355.84" width="0.35" height="6.1" fill="#f3a766"/>
<rect x="184.79" y="355.84" width="0.35" height="6.1" fill="#f3a766"/>
<rect x="186.73" y="355.84" width="0.35" height="6.1" fill="#f3a766"/>
<rect x="188.68" y="355.84" width="0.35" height="6.1" fill="#f3a766"/>
<rect x="190.62" y="355.84" width="4.37" height="6.1" fill="#FEAD4F"/>
<rect x="194.84" y="355.84" width="4.12" height="6.1" fill="#EA3F40"/>
<rect x="198.81" y="355.84" width="4.37" height="6.1" fill="#B89C75"/>
<rect x="203.03" y="355.84" width="5.11" height="6.1" fill="#63B850"/>
<rect x="207.99" y="355.84" width="5.11" height="6.1" fill="#A6D981"/>
<rect x="212.96" y="355.84" width="20.75" height="6.1" fill="#267DB2"/>
<rect x="233.55" y="355.84" width="26.70" height="6.1" fill="#5FA1CA"/>
<rect x="260.11" y="355.84" width="5.11" height="6.1" fill="#A6CEE3"/>
<rect x="111.95" y="362.63" width="8.09" height="6.1" fill="#DAB063"/>
<rect x="119.89" y="362.63" width="45.32" height="6.1" fill="#7348A0"/>
<rect x="165.06" y="362.63" width="4.62" height="6.1" fill="#A585BF"/>
<rect x="169.53" y="362.63" width="8.34" height="6.1" fill="#D2ABB7"/>
<rect x="177.72" y="362.63" width="11.81" height="6.1" fill="#ED9047"/>
<rect x="179.66" y="362.63" width="0.35" height="6.1" fill="#f3a766"/>
<rect x="181.60" y="362.63" width="0.35" height="6.1" fill="#f3a766"/>
<rect x="183.55" y="362.63" width="0.35" height="6.1" fill="#f3a766"/>
<rect x="185.49" y="362.63" width="0.35" height="6.1" fill="#f3a766"/>
<rect x="187.44" y="362.63" width="0.35" height="6.1" fill="#f3a766"/>
<rect x="189.38" y="362.63" width="4.37" height="6.1" fill="#FEAD4F"/>
<rect x="193.60" y="362.63" width="7.84" height="6.1" fill="#EA3F40"/>
<rect x="201.29" y="362.63" width="5.11" height="6.1" fill="#B89C75"/>
<rect x="206.26" y="362.63" width="8.09" height="6.1" fill="#A6D981"/>
<rect x="214.20" y="362.63" width="23.73" height="6.1" fill="#267DB2"/>
<rect x="237.77" y="362.63" width="22.49" height="6.1" fill="#5FA1CA"/>
<rect x="260.11" y="362.63" width="5.11" height="6.1" fill="#A6CEE3"/>
<rect x="111.95" y="369.41" width="5.11" height="6.1" fill="#DAB063"/>
<rect x="116.91" y="369.41" width="36.14" height="6.1" fill="#7348A0"/>
<rect x="152.90" y="369.41" width="8.84" height="6.1" fill="#D2ABB7"/>
<rect x="161.58" y="369.41" width="16.28" height="6.1" fill="#ED9047"/>
<rect x="163.60" y="369.41" width="0.35" height="6.1" fill="#f3a766"/>
<rect x="165.62" y="369.41" width="0.35" height="6.1" fill="#f3a766"/>
<rect x="167.63" y="369.41" width="0.35" height="6.1" fill="#f3a766"/>
<rect x="169.65" y="369.41" width="0.35" height="6.1" fill="#f3a766"/>
<rect x="171.67" y="369.41" width="0.35" height="6.1" fill="#f3a766"/>
<rect x="173.68" y="369.41" width="0.35" height="6.1" fill="#f3a766"/>
<rect x="175.70" y="369.41" width="0.35" height="6.1" fill="#f3a766"/>
<rect x="177.72" y="369.41" width="5.61" height="6.1" fill="#B89C75"/>
<rect x="183.18" y="369.41" width="5.86" height="6.1" fill="#63B850"/>
<rect x="188.88" y="369.41" width="13.06" height="6.1" fill="#A6D981"/>
<rect x="201.79" y="369.41" width="31.17" height="6.1" fill="#267DB2"/>
<rect x="232.81" y="369.41" width="27.45" height="6.1" fill="#5FA1CA"/>
<rect x="260.11" y="369.41" width="5.11" height="6.1" fill="#A6CEE3"/>
<rect x="111.95" y="376.20" width="30.92" height="6.1" fill="#7348A0"/>
<rect x="142.72" y="376.20" width="10.08" height="6.1" fill="#ED9047"/>
<rect x="144.71" y="376.20" width="0.35" height="6.1" fill="#f3a766"/>
<rect x="146.69" y="376.20" width="0.35" height="6.1" fill="#f3a766"/>
<rect x="148.68" y="376.20" width="0.35" height="6.1" fill="#f3a766"/>
<rect x="150.66" y="376.20" width="0.35" height="6.1" fill="#f3a766"/>
<rect x="152.65" y="376.20" width="4.62" height="6.1" fill="#B89C75"/>
<rect x="157.12" y="376.20" width="98.92" height="6.1" fill="#267DB2"/>
<rect x="255.89" y="376.20" width="5.11" height="6.1" fill="#5FA1CA"/>
<rect x="260.85" y="376.20" width="4.37" height="6.1" fill="#A6CEE3"/>
<rect x="111.95" y="382.98" width="18.02" height="6.1" fill="#7348A0"/>
<rect x="129.82" y="382.98" width="13.80" height="6.1" fill="#ED9047"/>
<rect x="131.77" y="382.98" width="0.35" height="6.1" fill="#f3a766"/>
<rect x="133.72" y="382.98" width="0.35" height="6.1" fill="#f3a766"/>
<rect x="135.67" y="382.98" width="0.35" height="6.1" fill="#f3a766"/>
<rect x="137.62" y="382.98" width="0.35" height="6.1" fill="#f3a766"/>
<rect x="139.57" y="382.98" width="0.35" height="6.1" fill="#f3a766"/>
<rect x="141.52" y="382.98" width="0.35" height="6.1" fill="#f3a766"/>
<rect x="143.47" y="382.98" width="5.86" height="6.1" fill="#B89C75"/>
<rect x="149.18" y="382.98" width="116.05" height="6.1" fill="#267DB2"/>
<rect x="111.95" y="389.77" width="35.39" height="6.1" fill="#7348A0"/>
<rect x="147.19" y="389.77" width="12.56" height="6.1" fill="#ED9047"/>
<rect x="149.26" y="389.77" width="0.35" height="6.1" fill="#f3a766"/>
<rect x="151.33" y="389.77" width="0.35" height="6.1" fill="#f3a766"/>
<rect x="153.39" y="389.77" width="0.35" height="6.1" fill="#f3a766"/>
<rect x="155.46" y="389.77" width="0.35" height="6.1" fill="#f3a766"/>
<rect x="157.53" y="389.77" width="0.35" height="6.1" fill="#f3a766"/>
<rect x="159.60" y="389.77" width="3.87" height="6.1" fill="#B89C75"/>
<rect x="163.32" y="389.77" width="101.90" height="6.1" fill="#267DB2"/>
<rect x="111.95" y="396.55" width="28.69" height="6.1" fill="#7348A0"/>
<rect x="140.49" y="396.55" width="10.57" height="6.1" fill="#ED9047"/>
<rect x="142.57" y="396.55" width="0.35" height="6.1" fill="#f3a766"/>
<rect x="144.66" y="396.55" width="0.35" height="6.1" fill="#f3a766"/>
<rect x="146.74" y="396.55" width="0.35" height="6.1" fill="#f3a766"/>
<rect x="148.83" y="396.55" width="0.35" height="6.1" fill="#f3a766"/>
<rect x="150.91" y="396.55" width="5.11" height="6.1" fill="#B89C75"/>
<rect x="155.88" y="396.55" width="8.84" height="6.1" fill="#73B39C"/>
<rect x="164.56" y="396.55" width="100.66" height="6.1" fill="#267DB2"/>
<rect x="111.95" y="403.34" width="24.97" height="6.1" fill="#7348A0"/>
<rect x="136.77" y="403.34" width="14.30" height="6.1" fill="#ED9047"/>
<rect x="138.79" y="403.34" width="0.35" height="6.1" fill="#f3a766"/>
<rect x="140.81" y="403.34" width="0.35" height="6.1" fill="#f3a766"/>
<rect x="142.83" y="403.34" width="0.35" height="6.1" fill="#f3a766"/>
<rect x="144.85" y="403.34" width="0.35" height="6.1" fill="#f3a766"/>
<rect x="146.87" y="403.34" width="0.35" height="6.1" fill="#f3a766"/>
<rect x="148.89" y="403.34" width="0.35" height="6.1" fill="#f3a766"/>
<rect x="150.91" y="403.34" width="5.61" height="6.1" fill="#B89C75"/>
<rect x="156.37" y="403.34" width="5.36" height="6.1" fill="#A6D981"/>
<rect x="161.58" y="403.34" width="90.49" height="6.1" fill="#267DB2"/>
<rect x="251.92" y="403.34" width="8.34" height="6.1" fill="#5FA1CA"/>
<rect x="260.11" y="403.34" width="5.11" height="6.1" fill="#A6CEE3"/>
<rect x="111.95" y="410.12" width="35.39" height="6.1" fill="#7348A0"/>
<rect x="147.19" y="410.12" width="3.87" height="6.1" fill="#A585BF"/>
<rect x="150.91" y="410.12" width="5.11" height="6.1" fill="#D2ABB7"/>
<rect x="155.88" y="410.12" width="13.30" height="6.1" fill="#ED9047"/>
<rect x="158.07" y="410.12" width="0.35" height="6.1" fill="#f3a766"/>
<rect x="160.26" y="410.12" width="0.35" height="6.1" fill="#f3a766"/>
<rect x="162.45" y="410.12" width="0.35" height="6.1" fill="#f3a766"/>
<rect x="164.64" y="410.12" width="0.35" height="6.1" fill="#f3a766"/>
<rect x="166.84" y="410.12" width="0.35" height="6.1" fill="#f3a766"/>
<rect x="169.03" y="410.12" width="5.11" height="6.1" fill="#EA3F40"/>
<rect x="173.99" y="410.12" width="5.61" height="6.1" fill="#B89C75"/>
<rect x="179.45" y="410.12" width="8.84" height="6.1" fill="#A6D981"/>
<rect x="188.14" y="410.12" width="60.95" height="6.1" fill="#267DB2"/>
<rect x="248.94" y="410.12" width="11.32" height="6.1" fill="#5FA1CA"/>
<rect x="260.11" y="410.12" width="5.11" height="6.1" fill="#A6CEE3"/>
<rect x="111.95" y="416.91" width="52.27" height="6.1" fill="#7348A0"/>
<rect x="164.07" y="416.91" width="9.83" height="6.1" fill="#ED9047"/>
<rect x="166.00" y="416.91" width="0.35" height="6.1" fill="#f3a766"/>
<rect x="167.94" y="416.91" width="0.35" height="6.1" fill="#f3a766"/>
<rect x="169.87" y="416.91" width="0.35" height="6.1" fill="#f3a766"/>
<rect x="171.81" y="416.91" width="0.35" height="6.1" fill="#f3a766"/>
<rect x="173.74" y="416.91" width="5.36" height="6.1" fill="#B89C75"/>
<rect x="178.96" y="416.91" width="86.27" height="6.1" fill="#267DB2"/>
<rect x="111.95" y="423.69" width="6.11" height="6.1" fill="#DAB063"/>
<rect x="117.91" y="423.69" width="35.14" height="6.1" fill="#7348A0"/>
<rect x="152.90" y="423.69" width="3.62" height="6.1" fill="#A585BF"/>
<rect x="156.37" y="423.69" width="4.62" height="6.1" fill="#D2ABB7"/>
<rect x="160.84" y="423.69" width="11.32" height="6.1" fill="#ED9047"/>
<rect x="162.70" y="423.69" width="0.35" height="6.1" fill="#f3a766"/>
<rect x="164.56" y="423.69" width="0.35" height="6.1" fill="#f3a766"/>
<rect x="166.42" y="423.69" width="0.35" height="6.1" fill="#f3a766"/>
<rect x="168.28" y="423.69" width="0.35" height="6.1" fill="#f3a766"/>
<rect x="170.15" y="423.69" width="0.35" height="6.1" fill="#f3a766"/>
<rect x="172.01" y="423.69" width="3.87" height="6.1" fill="#EA3F40"/>
<rect x="175.73" y="423.69" width="5.11" height="6.1" fill="#B89C75"/>
<rect x="180.69" y="423.69" width="8.84" height="6.1" fill="#A6D981"/>
<rect x="189.38" y="423.69" width="45.32" height="6.1" fill="#267DB2"/>
<rect x="234.55" y="423.69" width="25.71" height="6.1" fill="#5FA1CA"/>
<rect x="260.11" y="423.69" width="5.11" height="6.1" fill="#A6CEE3"/>
<rect x="111.95" y="430.48" width="6.11" height="6.1" fill="#F8F699"/>
<rect x="117.91" y="430.48" width="41.84" height="6.1" fill="#7348A0"/>
<rect x="159.60" y="430.48" width="16.28" height="6.1" fill="#ED9047"/>
<rect x="161.61" y="430.48" width="0.35" height="6.1" fill="#f3a766"/>
<rect x="163.63" y="430.48" width="0.35" height="6.1" fill="#f3a766"/>
<rect x="165.65" y="430.48" width="0.35" height="6.1" fill="#f3a766"/>
<rect x="167.66" y="430.48" width="0.35" height="6.1" fill="#f3a766"/>
<rect x="169.68" y="430.48" width="0.35" height="6.1" fill="#f3a766"/>
<rect x="171.70" y="430.48" width="0.35" height="6.1" fill="#f3a766"/>
<rect x="173.71" y="430.48" width="0.35" height="6.1" fill="#f3a766"/>
<rect x="175.73" y="430.48" width="3.87" height="6.1" fill="#B89C75"/>
<rect x="179.45" y="430.48" width="7.60" height="6.1" fill="#A6D981"/>
<rect x="186.90" y="430.48" width="47.80" height="6.1" fill="#267DB2"/>
<rect x="234.55" y="430.48" width="25.71" height="6.1" fill="#5FA1CA"/>
<rect x="260.11" y="430.48" width="5.11" height="6.1" fill="#A6CEE3"/>
<rect x="111.95" y="437.26" width="54.75" height="6.1" fill="#7348A0"/>
<rect x="166.55" y="437.26" width="5.61" height="6.1" fill="#D2ABB7"/>
<rect x="172.01" y="437.26" width="20.00" height="6.1" fill="#ED9047"/>
<rect x="173.99" y="437.26" width="0.35" height="6.1" fill="#f3a766"/>
<rect x="175.98" y="437.26" width="0.35" height="6.1" fill="#f3a766"/>
<rect x="177.96" y="437.26" width="0.35" height="6.1" fill="#f3a766"/>
<rect x="179.95" y="437.26" width="0.35" height="6.1" fill="#f3a766"/>
<rect x="181.93" y="437.26" width="0.35" height="6.1" fill="#f3a766"/>
<rect x="183.92" y="437.26" width="0.35" height="6.1" fill="#f3a766"/>
<rect x="185.91" y="437.26" width="0.35" height="6.1" fill="#f3a766"/>
<rect x="187.89" y="437.26" width="0.35" height="6.1" fill="#f3a766"/>
<rect x="189.88" y="437.26" width="0.35" height="6.1" fill="#f3a766"/>
<rect x="191.86" y="437.26" width="3.87" height="6.1" fill="#B89C75"/>
<rect x="195.58" y="437.26" width="9.33" height="6.1" fill="#A6D981"/>
<rect x="204.77" y="437.26" width="37.62" height="6.1" fill="#267DB2"/>
<rect x="242.24" y="437.26" width="18.02" height="6.1" fill="#5FA1CA"/>
<rect x="260.11" y="437.26" width="5.11" height="6.1" fill="#A6CEE3"/>
<rect x="111.95" y="444.05" width="20.50" height="6.1" fill="#7348A0"/>
<rect x="132.30" y="444.05" width="3.87" height="6.1" fill="#A585BF"/>
<rect x="136.02" y="444.05" width="10.57" height="6.1" fill="#ED9047"/>
<rect x="138.11" y="444.05" width="0.35" height="6.1" fill="#f3a766"/>
<rect x="140.19" y="444.05" width="0.35" height="6.1" fill="#f3a766"/>
<rect x="142.28" y="444.05" width="0.35" height="6.1" fill="#f3a766"/>
<rect x="144.36" y="444.05" width="0.35" height="6.1" fill="#f3a766"/>
<rect x="146.45" y="444.05" width="4.62" height="6.1" fill="#EA3F40"/>
<rect x="150.91" y="444.05" width="3.13" height="6.1" fill="#B89C75"/>
<rect x="153.89" y="444.05" width="16.28" height="6.1" fill="#A6D981"/>
<rect x="170.02" y="444.05" width="81.55" height="6.1" fill="#267DB2"/>
<rect x="251.42" y="444.05" width="5.61" height="6.1" fill="#5FA1CA"/>
<rect x="256.88" y="444.05" width="8.34" height="6.1" fill="#A6CEE3"/>
<rect x="111.95" y="450.83" width="19.26" height="6.1" fill="#7348A0"/>
<rect x="131.06" y="450.83" width="11.32" height="6.1" fill="#ED9047"/>
<rect x="132.92" y="450.83" width="0.35" height="6.1" fill="#f3a766"/>
<rect x="134.78" y="450.83" width="0.35" height="6.1" fill="#f3a766"/>
<rect x="136.64" y="450.83" width="0.35" height="6.1" fill="#f3a766"/>
<rect x="138.50" y="450.83" width="0.35" height="6.1" fill="#f3a766"/>
<rect x="140.36" y="450.83" width="0.35" height="6.1" fill="#f3a766"/>
<rect x="142.23" y="450.83" width="3.87" height="6.1" fill="#B89C75"/>
<rect x="145.95" y="450.83" width="119.27" height="6.1" fill="#267DB2"/>
<rect x="111.95" y="457.62" width="71.38" height="6.1" fill="#7348A0"/>
<rect x="183.18" y="457.62" width="11.81" height="6.1" fill="#ED9047"/>
<rect x="185.12" y="457.62" width="0.35" height="6.1" fill="#f3a766"/>
<rect x="187.06" y="457.62" width="0.35" height="6.1" fill="#f3a766"/>
<rect x="189.01" y="457.62" width="0.35" height="6.1" fill="#f3a766"/>
<rect x="190.95" y="457.62" width="0.35" height="6.1" fill="#f3a766"/>
<rect x="192.90" y="457.62" width="0.35" height="6.1" fill="#f3a766"/>
<rect x="194.84" y="457.62" width="3.38" height="6.1" fill="#A6D981"/>
<rect x="198.07" y="457.62" width="53.01" height="6.1" fill="#267DB2"/>
<rect x="250.93" y="457.62" width="9.33" height="6.1" fill="#5FA1CA"/>
<rect x="260.11" y="457.62" width="5.11" height="6.1" fill="#A6CEE3"/>
<rect x="111.95" y="464.40" width="30.43" height="6.1" fill="#7348A0"/>
<rect x="142.23" y="464.40" width="10.57" height="6.1" fill="#ED9047"/>
<rect x="144.31" y="464.40" width="0.35" height="6.1" fill="#f3a766"/>
<rect x="146.40" y="464.40" width="0.35" height="6.1" fill="#f3a766"/>
<rect x="148.48" y="464.40" width="0.35" height="6.1" fill="#f3a766"/>
<rect x="150.56" y="464.40" width="0.35" height="6.1" fill="#f3a766"/>
<rect x="152.65" y="464.40" width="5.36" height="6.1" fill="#B89C75"/>
<rect x="157.86" y="464.40" width="27.95" height="6.1" fill="#73B39C"/>
<rect x="185.66" y="464.40" width="79.57" height="6.1" fill="#267DB2"/>
<rect x="111.95" y="471.19" width="8.09" height="6.1" fill="#DAB063"/>
<rect x="119.89" y="471.19" width="43.58" height="6.1" fill="#7348A0"/>
<rect x="163.32" y="471.19" width="5.11" height="6.1" fill="#A585BF"/>
<rect x="168.28" y="471.19" width="3.87" height="6.1" fill="#D2ABB7"/>
<rect x="172.01" y="471.19" width="11.32" height="6.1" fill="#ED9047"/>
<rect x="173.87" y="471.19" width="0.35" height="6.1" fill="#f3a766"/>
<rect x="175.73" y="471.19" width="0.35" height="6.1" fill="#f3a766"/>
<rect x="177.59" y="471.19" width="0.35" height="6.1" fill="#f3a766"/>
<rect x="179.45" y="471.19" width="0.35" height="6.1" fill="#f3a766"/>
<rect x="181.31" y="471.19" width="0.35" height="6.1" fill="#f3a766"/>
<rect x="183.18" y="471.19" width="6.85" height="6.1" fill="#FEAD4F"/>
<rect x="189.88" y="471.19" width="8.34" height="6.1" fill="#EA3F40"/>
<rect x="198.07" y="471.19" width="3.38" height="6.1" fill="#B89C75"/>
<rect x="201.29" y="471.19" width="10.08" height="6.1" fill="#A6D981"/>
<rect x="211.22" y="471.19" width="8.09" height="6.1" fill="#73B39C"/>
<rect x="219.16" y="471.19" width="20.75" height="6.1" fill="#267DB2"/>
<rect x="239.76" y="471.19" width="19.26" height="6.1" fill="#5FA1CA"/>
<rect x="258.87" y="471.19" width="6.35" height="6.1" fill="#A6CEE3"/>
<rect x="111.95" y="477.97" width="31.67" height="6.1" fill="#7348A0"/>
<rect x="143.47" y="477.97" width="10.57" height="6.1" fill="#ED9047"/>
<rect x="145.55" y="477.97" width="0.35" height="6.1" fill="#f3a766"/>
<rect x="147.64" y="477.97" width="0.35" height="6.1" fill="#f3a766"/>
<rect x="149.72" y="477.97" width="0.35" height="6.1" fill="#f3a766"/>
<rect x="151.81" y="477.97" width="0.35" height="6.1" fill="#f3a766"/>
<rect x="153.89" y="477.97" width="5.36" height="6.1" fill="#B89C75"/>
<rect x="159.10" y="477.97" width="7.60" height="6.1" fill="#A6D981"/>
<rect x="166.55" y="477.97" width="83.29" height="6.1" fill="#267DB2"/>
<rect x="249.69" y="477.97" width="10.57" height="6.1" fill="#5FA1CA"/>
<rect x="260.11" y="477.97" width="5.11" height="6.1" fill="#A6CEE3"/>
<rect x="111.95" y="484.76" width="3.87" height="6.1" fill="#DAB063"/>
<rect x="115.67" y="484.76" width="36.63" height="6.1" fill="#7348A0"/>
<rect x="152.15" y="484.76" width="3.13" height="6.1" fill="#D2ABB7"/>
<rect x="155.13" y="484.76" width="18.27" height="6.1" fill="#ED9047"/>
<rect x="157.14" y="484.76" width="0.35" height="6.1" fill="#f3a766"/>
<rect x="159.16" y="484.76" width="0.35" height="6.1" fill="#f3a766"/>
<rect x="161.17" y="484.76" width="0.35" height="6.1" fill="#f3a766"/>
<rect x="163.18" y="484.76" width="0.35" height="6.1" fill="#f3a766"/>
<rect x="165.20" y="484.76" width="0.35" height="6.1" fill="#f3a766"/>
<rect x="167.21" y="484.76" width="0.35" height="6.1" fill="#f3a766"/>
<rect x="169.22" y="484.76" width="0.35" height="6.1" fill="#f3a766"/>
<rect x="171.24" y="484.76" width="0.35" height="6.1" fill="#f3a766"/>
<rect x="173.25" y="484.76" width="6.85" height="6.1" fill="#EA3F40"/>
<rect x="179.95" y="484.76" width="4.62" height="6.1" fill="#B89C75"/>
<rect x="184.42" y="484.76" width="17.52" height="6.1" fill="#A6D981"/>
<rect x="201.79" y="484.76" width="43.58" height="6.1" fill="#267DB2"/>
<rect x="245.22" y="484.76" width="15.04" height="6.1" fill="#5FA1CA"/>
<rect x="260.11" y="484.76" width="5.11" height="6.1" fill="#A6CEE3"/>
<rect x="111.95" y="491.54" width="44.57" height="6.1" fill="#7348A0"/>
<rect x="156.37" y="491.54" width="17.77" height="6.1" fill="#ED9047"/>
<rect x="158.33" y="491.54" width="0.35" height="6.1" fill="#f3a766"/>
<rect x="160.29" y="491.54" width="0.35" height="6.1" fill="#f3a766"/>
<rect x="162.25" y="491.54" width="0.35" height="6.1" fill="#f3a766"/>
<rect x="164.20" y="491.54" width="0.35" height="6.1" fill="#f3a766"/>
<rect x="166.16" y="491.54" width="0.35" height="6.1" fill="#f3a766"/>
<rect x="168.12" y="491.54" width="0.35" height="6.1" fill="#f3a766"/>
<rect x="170.08" y="491.54" width="0.35" height="6.1" fill="#f3a766"/>
<rect x="172.03" y="491.54" width="0.35" height="6.1" fill="#f3a766"/>
<rect x="173.99" y="491.54" width="3.87" height="6.1" fill="#B89C75"/>
<rect x="177.72" y="491.54" width="4.37" height="6.1" fill="#63B850"/>
<rect x="181.93" y="491.54" width="4.62" height="6.1" fill="#A6D981"/>
<rect x="186.40" y="491.54" width="52.02" height="6.1" fill="#267DB2"/>
<rect x="238.27" y="491.54" width="21.99" height="6.1" fill="#5FA1CA"/>
<rect x="260.11" y="491.54" width="5.11" height="6.1" fill="#A6CEE3"/>
<rect x="111.95" y="498.33" width="34.15" height="6.1" fill="#7348A0"/>
<rect x="145.95" y="498.33" width="8.09" height="6.1" fill="#ED9047"/>
<rect x="147.93" y="498.33" width="0.35" height="6.1" fill="#f3a766"/>
<rect x="149.92" y="498.33" width="0.35" height="6.1" fill="#f3a766"/>
<rect x="151.91" y="498.33" width="0.35" height="6.1" fill="#f3a766"/>
<rect x="153.89" y="498.33" width="3.38" height="6.1" fill="#B89C75"/>
<rect x="157.12" y="498.33" width="104.38" height="6.1" fill="#267DB2"/>
<rect x="261.35" y="498.33" width="3.87" height="6.1" fill="#5FA1CA"/>
<rect x="111.95" y="505.11" width="36.14" height="6.1" fill="#7348A0"/>
<rect x="147.93" y="505.11" width="16.28" height="6.1" fill="#ED9047"/>
<rect x="149.95" y="505.11" width="0.35" height="6.1" fill="#f3a766"/>
<rect x="151.97" y="505.11" width="0.35" height="6.1" fill="#f3a766"/>
<rect x="153.98" y="505.11" width="0.35" height="6.1" fill="#f3a766"/>
<rect x="156.00" y="505.11" width="0.35" height="6.1" fill="#f3a766"/>
<rect x="158.02" y="505.11" width="0.35" height="6.1" fill="#f3a766"/>
<rect x="160.03" y="505.11" width="0.35" height="6.1" fill="#f3a766"/>
<rect x="162.05" y="505.11" width="0.35" height="6.1" fill="#f3a766"/>
<rect x="164.07" y="505.11" width="7.10" height="6.1" fill="#A6D981"/>
<rect x="171.01" y="505.11" width="57.48" height="6.1" fill="#267DB2"/>
<rect x="228.34" y="505.11" width="33.16" height="6.1" fill="#5FA1CA"/>
<rect x="261.35" y="505.11" width="3.87" height="6.1" fill="#A6CEE3"/>
<rect x="111.95" y="511.90" width="4.37" height="6.1" fill="#AA909A"/>
<rect x="116.17" y="511.90" width="28.19" height="6.1" fill="#7348A0"/>
<rect x="144.21" y="511.90" width="9.83" height="6.1" fill="#ED9047"/>
<rect x="146.15" y="511.90" width="0.35" height="6.1" fill="#f3a766"/>
<rect x="148.08" y="511.90" width="0.35" height="6.1" fill="#f3a766"/>
<rect x="150.02" y="511.90" width="0.35" height="6.1" fill="#f3a766"/>
<rect x="151.95" y="511.90" width="0.35" height="6.1" fill="#f3a766"/>
<rect x="153.89" y="511.90" width="3.87" height="6.1" fill="#B89C75"/>
<rect x="157.61" y="511.90" width="3.62" height="6.1" fill="#A6D981"/>
<rect x="161.09" y="511.90" width="85.03" height="6.1" fill="#267DB2"/>
<rect x="245.96" y="511.90" width="11.81" height="6.1" fill="#5FA1CA"/>
<rect x="257.63" y="511.90" width="7.60" height="6.1" fill="#A6CEE3"/>
<rect x="111.95" y="518.69" width="50.28" height="6.1" fill="#7348A0"/>
<rect x="162.08" y="518.69" width="4.62" height="6.1" fill="#A585BF"/>
<rect x="166.55" y="518.69" width="19.26" height="6.1" fill="#ED9047"/>
<rect x="168.67" y="518.69" width="0.35" height="6.1" fill="#f3a766"/>
<rect x="170.79" y="518.69" width="0.35" height="6.1" fill="#f3a766"/>
<rect x="172.92" y="518.69" width="0.35" height="6.1" fill="#f3a766"/>
<rect x="175.04" y="518.69" width="0.35" height="6.1" fill="#f3a766"/>
<rect x="177.16" y="518.69" width="0.35" height="6.1" fill="#f3a766"/>
<rect x="179.29" y="518.69" width="0.35" height="6.1" fill="#f3a766"/>
<rect x="181.41" y="518.69" width="0.35" height="6.1" fill="#f3a766"/>
<rect x="183.53" y="518.69" width="0.35" height="6.1" fill="#f3a766"/>
<rect x="185.66" y="518.69" width="11.32" height="6.1" fill="#A6D981"/>
<rect x="196.82" y="518.69" width="13.80" height="6.1" fill="#267DB2"/>
<rect x="210.47" y="518.69" width="48.54" height="6.1" fill="#5FA1CA"/>
<rect x="258.87" y="518.69" width="6.35" height="6.1" fill="#A6CEE3"/>
<rect x="111.95" y="525.47" width="46.56" height="6.1" fill="#7348A0"/>
<rect x="158.36" y="525.47" width="8.34" height="6.1" fill="#ED9047"/>
<rect x="160.41" y="525.47" width="0.35" height="6.1" fill="#f3a766"/>
<rect x="162.45" y="525.47" width="0.35" height="6.1" fill="#f3a766"/>
<rect x="164.50" y="525.47" width="0.35" height="6.1" fill="#f3a766"/>
<rect x="166.55" y="525.47" width="88.75" height="6.1" fill="#267DB2"/>
<rect x="255.15" y="525.47" width="3.87" height="6.1" fill="#5FA1CA"/>
<rect x="258.87" y="525.47" width="6.35" height="6.1" fill="#A6CEE3"/>
<rect x="111.95" y="532.25" width="11.81" height="6.1" fill="#B15928"/>
<rect x="123.61" y="532.25" width="28.19" height="6.1" fill="#7348A0"/>
<rect x="151.66" y="532.25" width="13.80" height="6.1" fill="#ED9047"/>
<rect x="153.61" y="532.25" width="0.35" height="6.1" fill="#f3a766"/>
<rect x="155.56" y="532.25" width="0.35" height="6.1" fill="#f3a766"/>
<rect x="157.51" y="532.25" width="0.35" height="6.1" fill="#f3a766"/>
<rect x="159.46" y="532.25" width="0.35" height="6.1" fill="#f3a766"/>
<rect x="161.41" y="532.25" width="0.35" height="6.1" fill="#f3a766"/>
<rect x="163.36" y="532.25" width="0.35" height="6.1" fill="#f3a766"/>
<rect x="165.31" y="532.25" width="3.13" height="6.1" fill="#B89C75"/>
<rect x="168.28" y="532.25" width="13.80" height="6.1" fill="#A6D981"/>
<rect x="181.93" y="532.25" width="60.46" height="6.1" fill="#267DB2"/>
<rect x="242.24" y="532.25" width="18.02" height="6.1" fill="#5FA1CA"/>
<rect x="260.11" y="532.25" width="5.11" height="6.1" fill="#A6CEE3"/>
<rect x="111.95" y="539.04" width="13.06" height="6.1" fill="#AA909A"/>
<rect x="124.85" y="539.04" width="29.93" height="6.1" fill="#7348A0"/>
<rect x="154.64" y="539.04" width="13.80" height="6.1" fill="#ED9047"/>
<rect x="156.58" y="539.04" width="0.35" height="6.1" fill="#f3a766"/>
<rect x="158.53" y="539.04" width="0.35" height="6.1" fill="#f3a766"/>
<rect x="160.48" y="539.04" width="0.35" height="6.1" fill="#f3a766"/>
<rect x="162.43" y="539.04" width="0.35" height="6.1" fill="#f3a766"/>
<rect x="164.38" y="539.04" width="0.35" height="6.1" fill="#f3a766"/>
<rect x="166.33" y="539.04" width="0.35" height="6.1" fill="#f3a766"/>
<rect x="168.28" y="539.04" width="3.87" height="6.1" fill="#B89C75"/>
<rect x="172.01" y="539.04" width="10.08" height="6.1" fill="#63B850"/>
<rect x="181.93" y="539.04" width="34.15" height="6.1" fill="#A6D981"/>
<rect x="215.93" y="539.04" width="15.29" height="6.1" fill="#267DB2"/>
<rect x="231.07" y="539.04" width="27.95" height="6.1" fill="#5FA1CA"/>
<rect x="258.87" y="539.04" width="6.35" height="6.1" fill="#A6CEE3"/>
<rect x="111.95" y="545.83" width="3.62" height="6.1" fill="#F8F699"/>
<rect x="115.42" y="545.83" width="41.84" height="6.1" fill="#7348A0"/>
<rect x="157.12" y="545.83" width="15.54" height="6.1" fill="#ED9047"/>
<rect x="159.31" y="545.83" width="0.35" height="6.1" fill="#f3a766"/>
<rect x="161.51" y="545.83" width="0.35" height="6.1" fill="#f3a766"/>
<rect x="163.71" y="545.83" width="0.35" height="6.1" fill="#f3a766"/>
<rect x="165.91" y="545.83" width="0.35" height="6.1" fill="#f3a766"/>
<rect x="168.11" y="545.83" width="0.35" height="6.1" fill="#f3a766"/>
<rect x="170.31" y="545.83" width="0.35" height="6.1" fill="#f3a766"/>
<rect x="172.50" y="545.83" width="4.62" height="6.1" fill="#EA3F40"/>
<rect x="176.97" y="545.83" width="3.87" height="6.1" fill="#B89C75"/>
<rect x="180.69" y="545.83" width="15.54" height="6.1" fill="#63B850"/>
<rect x="196.08" y="545.83" width="17.03" height="6.1" fill="#A6D981"/>
<rect x="212.96" y="545.83" width="18.76" height="6.1" fill="#267DB2"/>
<rect x="231.57" y="545.83" width="27.45" height="6.1" fill="#5FA1CA"/>
<rect x="258.87" y="545.83" width="6.35" height="6.1" fill="#A6CEE3"/>
<rect x="111.95" y="552.61" width="22.49" height="6.1" fill="#7348A0"/>
<rect x="134.28" y="552.61" width="8.84" height="6.1" fill="#ED9047"/>
<rect x="136.46" y="552.61" width="0.35" height="6.1" fill="#f3a766"/>
<rect x="138.63" y="552.61" width="0.35" height="6.1" fill="#f3a766"/>
<rect x="140.80" y="552.61" width="0.35" height="6.1" fill="#f3a766"/>
<rect x="142.97" y="552.61" width="4.37" height="6.1" fill="#B89C75"/>
<rect x="147.19" y="552.61" width="10.82" height="6.1" fill="#73B39C"/>
<rect x="157.86" y="552.61" width="102.40" height="6.1" fill="#267DB2"/>
<rect x="260.11" y="552.61" width="5.11" height="6.1" fill="#A6CEE3"/>
<rect x="111.95" y="559.39" width="4.87" height="6.1" fill="#F8F699"/>
<rect x="116.66" y="559.39" width="4.62" height="6.1" fill="#AA909A"/>
<rect x="121.13" y="559.39" width="36.14" height="6.1" fill="#7348A0"/>
<rect x="157.12" y="559.39" width="15.04" height="6.1" fill="#ED9047"/>
<rect x="159.24" y="559.39" width="0.35" height="6.1" fill="#f3a766"/>
<rect x="161.37" y="559.39" width="0.35" height="6.1" fill="#f3a766"/>
<rect x="163.50" y="559.39" width="0.35" height="6.1" fill="#f3a766"/>
<rect x="165.63" y="559.39" width="0.35" height="6.1" fill="#f3a766"/>
<rect x="167.75" y="559.39" width="0.35" height="6.1" fill="#f3a766"/>
<rect x="169.88" y="559.39" width="0.35" height="6.1" fill="#f3a766"/>
<rect x="172.01" y="559.39" width="4.37" height="6.1" fill="#EA3F40"/>
<rect x="176.23" y="559.39" width="2.88" height="6.1" fill="#B89C75"/>
<rect x="178.96" y="559.39" width="6.11" height="6.1" fill="#63B850"/>
<rect x="184.91" y="559.39" width="10.82" height="6.1" fill="#A6D981"/>
<rect x="195.58" y="559.39" width="24.47" height="6.1" fill="#267DB2"/>
<rect x="219.91" y="559.39" width="39.11" height="6.1" fill="#5FA1CA"/>
<rect x="258.87" y="559.39" width="6.35" height="6.1" fill="#A6CEE3"/>
<rect x="111.95" y="566.18" width="4.37" height="6.1" fill="#DAB063"/>
<rect x="116.17" y="566.18" width="36.88" height="6.1" fill="#7348A0"/>
<rect x="152.90" y="566.18" width="8.09" height="6.1" fill="#A585BF"/>
<rect x="160.84" y="566.18" width="24.97" height="6.1" fill="#ED9047"/>
<rect x="162.91" y="566.18" width="0.35" height="6.1" fill="#f3a766"/>
<rect x="164.98" y="566.18" width="0.35" height="6.1" fill="#f3a766"/>
<rect x="167.04" y="566.18" width="0.35" height="6.1" fill="#f3a766"/>
<rect x="169.11" y="566.18" width="0.35" height="6.1" fill="#f3a766"/>
<rect x="171.18" y="566.18" width="0.35" height="6.1" fill="#f3a766"/>
<rect x="173.25" y="566.18" width="0.35" height="6.1" fill="#f3a766"/>
<rect x="175.32" y="566.18" width="0.35" height="6.1" fill="#f3a766"/>
<rect x="177.38" y="566.18" width="0.35" height="6.1" fill="#f3a766"/>
<rect x="179.45" y="566.18" width="0.35" height="6.1" fill="#f3a766"/>
<rect x="181.52" y="566.18" width="0.35" height="6.1" fill="#f3a766"/>
<rect x="183.59" y="566.18" width="0.35" height="6.1" fill="#f3a766"/>
<rect x="185.66" y="566.18" width="10.08" height="6.1" fill="#FF8B15"/>
<rect x="195.58" y="566.18" width="12.56" height="6.1" fill="#F7985B"/>
<rect x="207.99" y="566.18" width="3.38" height="6.1" fill="#B89C75"/>
<rect x="211.22" y="566.18" width="8.09" height="6.1" fill="#63B850"/>
<rect x="219.16" y="566.18" width="6.85" height="6.1" fill="#A6D981"/>
<rect x="225.86" y="566.18" width="17.77" height="6.1" fill="#267DB2"/>
<rect x="243.48" y="566.18" width="15.54" height="6.1" fill="#5FA1CA"/>
<rect x="258.87" y="566.18" width="6.35" height="6.1" fill="#A6CEE3"/>
<rect x="111.95" y="572.97" width="6.11" height="6.1" fill="#DAB063"/>
<rect x="117.91" y="572.97" width="55.00" height="6.1" fill="#7348A0"/>
<rect x="172.75" y="572.97" width="6.11" height="6.1" fill="#A585BF"/>
<rect x="178.71" y="572.97" width="17.03" height="6.1" fill="#ED9047"/>
<rect x="180.82" y="572.97" width="0.35" height="6.1" fill="#f3a766"/>
<rect x="182.93" y="572.97" width="0.35" height="6.1" fill="#f3a766"/>
<rect x="185.04" y="572.97" width="0.35" height="6.1" fill="#f3a766"/>
<rect x="187.15" y="572.97" width="0.35" height="6.1" fill="#f3a766"/>
<rect x="189.26" y="572.97" width="0.35" height="6.1" fill="#f3a766"/>
<rect x="191.36" y="572.97" width="0.35" height="6.1" fill="#f3a766"/>
<rect x="193.47" y="572.97" width="0.35" height="6.1" fill="#f3a766"/>
<rect x="195.58" y="572.97" width="8.84" height="6.1" fill="#FF8B15"/>
<rect x="204.27" y="572.97" width="7.10" height="6.1" fill="#F7985B"/>
<rect x="211.22" y="572.97" width="3.87" height="6.1" fill="#B89C75"/>
<rect x="214.94" y="572.97" width="7.60" height="6.1" fill="#63B850"/>
<rect x="222.39" y="572.97" width="3.62" height="6.1" fill="#A6D981"/>
<rect x="225.86" y="572.97" width="4.12" height="6.1" fill="#73B39C"/>
<rect x="229.83" y="572.97" width="15.04" height="6.1" fill="#267DB2"/>
<rect x="244.72" y="572.97" width="14.30" height="6.1" fill="#5FA1CA"/>
<rect x="258.87" y="572.97" width="6.35" height="6.1" fill="#A6CEE3"/>
<rect x="111.95" y="579.75" width="7.35" height="6.1" fill="#DAB063"/>
<rect x="119.15" y="579.75" width="43.83" height="6.1" fill="#7348A0"/>
<rect x="162.82" y="579.75" width="8.59" height="6.1" fill="#A585BF"/>
<rect x="171.26" y="579.75" width="23.23" height="6.1" fill="#ED9047"/>
<rect x="173.36" y="579.75" width="0.35" height="6.1" fill="#f3a766"/>
<rect x="175.46" y="579.75" width="0.35" height="6.1" fill="#f3a766"/>
<rect x="177.56" y="579.75" width="0.35" height="6.1" fill="#f3a766"/>
<rect x="179.66" y="579.75" width="0.35" height="6.1" fill="#f3a766"/>
<rect x="181.75" y="579.75" width="0.35" height="6.1" fill="#f3a766"/>
<rect x="183.85" y="579.75" width="0.35" height="6.1" fill="#f3a766"/>
<rect x="185.95" y="579.75" width="0.35" height="6.1" fill="#f3a766"/>
<rect x="188.05" y="579.75" width="0.35" height="6.1" fill="#f3a766"/>
<rect x="190.15" y="579.75" width="0.35" height="6.1" fill="#f3a766"/>
<rect x="192.24" y="579.75" width="0.35" height="6.1" fill="#f3a766"/>
<rect x="194.34" y="579.75" width="10.08" height="6.1" fill="#FF8B15"/>
<rect x="204.27" y="579.75" width="6.35" height="6.1" fill="#F7985B"/>
<rect x="210.47" y="579.75" width="8.34" height="6.1" fill="#63B850"/>
<rect x="218.66" y="579.75" width="4.37" height="6.1" fill="#A6D981"/>
<rect x="222.88" y="579.75" width="3.87" height="6.1" fill="#73B39C"/>
<rect x="226.61" y="579.75" width="15.79" height="6.1" fill="#267DB2"/>
<rect x="242.24" y="579.75" width="16.78" height="6.1" fill="#5FA1CA"/>
<rect x="258.87" y="579.75" width="6.35" height="6.1" fill="#A6CEE3"/>
<rect x="111.95" y="586.54" width="8.09" height="6.1" fill="#DAB063"/>
<rect x="119.89" y="586.54" width="37.38" height="6.1" fill="#7348A0"/>
<rect x="157.12" y="586.54" width="7.10" height="6.1" fill="#A585BF"/>
<rect x="164.07" y="586.54" width="23.48" height="6.1" fill="#ED9047"/>
<rect x="166.19" y="586.54" width="0.35" height="6.1" fill="#f3a766"/>
<rect x="168.31" y="586.54" width="0.35" height="6.1" fill="#f3a766"/>
<rect x="170.43" y="586.54" width="0.35" height="6.1" fill="#f3a766"/>
<rect x="172.55" y="586.54" width="0.35" height="6.1" fill="#f3a766"/>
<rect x="174.67" y="586.54" width="0.35" height="6.1" fill="#f3a766"/>
<rect x="176.79" y="586.54" width="0.35" height="6.1" fill="#f3a766"/>
<rect x="178.91" y="586.54" width="0.35" height="6.1" fill="#f3a766"/>
<rect x="181.03" y="586.54" width="0.35" height="6.1" fill="#f3a766"/>
<rect x="183.15" y="586.54" width="0.35" height="6.1" fill="#f3a766"/>
<rect x="185.27" y="586.54" width="0.35" height="6.1" fill="#f3a766"/>
<rect x="187.39" y="586.54" width="9.58" height="6.1" fill="#FF8B15"/>
<rect x="196.82" y="586.54" width="12.56" height="6.1" fill="#F7985B"/>
<rect x="209.23" y="586.54" width="11.81" height="6.1" fill="#63B850"/>
<rect x="220.90" y="586.54" width="4.62" height="6.1" fill="#A6D981"/>
<rect x="225.36" y="586.54" width="3.38" height="6.1" fill="#73B39C"/>
<rect x="228.59" y="586.54" width="14.30" height="6.1" fill="#267DB2"/>
<rect x="242.74" y="586.54" width="16.28" height="6.1" fill="#5FA1CA"/>
<rect x="258.87" y="586.54" width="6.35" height="6.1" fill="#A6CEE3"/>
<rect x="111.95" y="593.32" width="6.85" height="6.1" fill="#DAB063"/>
<rect x="118.65" y="593.32" width="34.40" height="6.1" fill="#7348A0"/>
<rect x="152.90" y="593.32" width="9.33" height="6.1" fill="#A585BF"/>
<rect x="162.08" y="593.32" width="25.71" height="6.1" fill="#ED9047"/>
<rect x="164.21" y="593.32" width="0.35" height="6.1" fill="#f3a766"/>
<rect x="166.34" y="593.32" width="0.35" height="6.1" fill="#f3a766"/>
<rect x="168.47" y="593.32" width="0.35" height="6.1" fill="#f3a766"/>
<rect x="170.60" y="593.32" width="0.35" height="6.1" fill="#f3a766"/>
<rect x="172.73" y="593.32" width="0.35" height="6.1" fill="#f3a766"/>
<rect x="174.86" y="593.32" width="0.35" height="6.1" fill="#f3a766"/>
<rect x="176.99" y="593.32" width="0.35" height="6.1" fill="#f3a766"/>
<rect x="179.12" y="593.32" width="0.35" height="6.1" fill="#f3a766"/>
<rect x="181.25" y="593.32" width="0.35" height="6.1" fill="#f3a766"/>
<rect x="183.38" y="593.32" width="0.35" height="6.1" fill="#f3a766"/>
<rect x="185.51" y="593.32" width="0.35" height="6.1" fill="#f3a766"/>
<rect x="187.64" y="593.32" width="11.32" height="6.1" fill="#FF8B15"/>
<rect x="198.81" y="593.32" width="14.79" height="6.1" fill="#F7985B"/>
<rect x="213.45" y="593.32" width="13.30" height="6.1" fill="#63B850"/>
<rect x="226.61" y="593.32" width="5.86" height="6.1" fill="#A6D981"/>
<rect x="232.31" y="593.32" width="8.84" height="6.1" fill="#267DB2"/>
<rect x="241.00" y="593.32" width="18.02" height="6.1" fill="#5FA1CA"/>
<rect x="258.87" y="593.32" width="6.35" height="6.1" fill="#A6CEE3"/>
<rect x="111.95" y="600.11" width="12.31" height="6.1" fill="#DAB063"/>
<rect x="124.11" y="600.11" width="72.87" height="6.1" fill="#7348A0"/>
<rect x="196.82" y="600.11" width="16.78" height="6.1" fill="#A585BF"/>
<rect x="213.45" y="600.11" width="18.27" height="6.1" fill="#ED9047"/>
<rect x="215.47" y="600.11" width="0.35" height="6.1" fill="#f3a766"/>
<rect x="217.48" y="600.11" width="0.35" height="6.1" fill="#f3a766"/>
<rect x="219.49" y="600.11" width="0.35" height="6.1" fill="#f3a766"/>
<rect x="221.50" y="600.11" width="0.35" height="6.1" fill="#f3a766"/>
<rect x="223.52" y="600.11" width="0.35" height="6.1" fill="#f3a766"/>
<rect x="225.53" y="600.11" width="0.35" height="6.1" fill="#f3a766"/>
<rect x="227.54" y="600.11" width="0.35" height="6.1" fill="#f3a766"/>
<rect x="229.56" y="600.11" width="0.35" height="6.1" fill="#f3a766"/>
<rect x="231.57" y="600.11" width="25.46" height="6.1" fill="#267DB2"/>
<rect x="256.88" y="600.11" width="4.62" height="6.1" fill="#5FA1CA"/>
<rect x="261.35" y="600.11" width="3.87" height="6.1" fill="#A6CEE3"/>
<rect x="111.95" y="606.89" width="11.32" height="6.1" fill="#DAB063"/>
<rect x="123.12" y="606.89" width="62.69" height="6.1" fill="#7348A0"/>
<rect x="185.66" y="606.89" width="14.54" height="6.1" fill="#A585BF"/>
<rect x="200.05" y="606.89" width="24.22" height="6.1" fill="#ED9047"/>
<rect x="202.24" y="606.89" width="0.35" height="6.1" fill="#f3a766"/>
<rect x="204.43" y="606.89" width="0.35" height="6.1" fill="#f3a766"/>
<rect x="206.62" y="606.89" width="0.35" height="6.1" fill="#f3a766"/>
<rect x="208.80" y="606.89" width="0.35" height="6.1" fill="#f3a766"/>
<rect x="210.99" y="606.89" width="0.35" height="6.1" fill="#f3a766"/>
<rect x="213.18" y="606.89" width="0.35" height="6.1" fill="#f3a766"/>
<rect x="215.37" y="606.89" width="0.35" height="6.1" fill="#f3a766"/>
<rect x="217.56" y="606.89" width="0.35" height="6.1" fill="#f3a766"/>
<rect x="219.75" y="606.89" width="0.35" height="6.1" fill="#f3a766"/>
<rect x="221.94" y="606.89" width="0.35" height="6.1" fill="#f3a766"/>
<rect x="224.12" y="606.89" width="32.91" height="6.1" fill="#267DB2"/>
<rect x="256.88" y="606.89" width="4.12" height="6.1" fill="#5FA1CA"/>
<rect x="260.85" y="606.89" width="4.37" height="6.1" fill="#A6CEE3"/>
<rect x="111.95" y="613.67" width="9.33" height="6.1" fill="#7348A0"/>
<rect x="121.13" y="613.67" width="8.09" height="6.1" fill="#ED9047"/>
<rect x="123.12" y="613.67" width="0.35" height="6.1" fill="#f3a766"/>
<rect x="125.10" y="613.67" width="0.35" height="6.1" fill="#f3a766"/>
<rect x="127.09" y="613.67" width="0.35" height="6.1" fill="#f3a766"/>
<rect x="129.07" y="613.67" width="3.38" height="6.1" fill="#B89C75"/>
<rect x="132.30" y="613.67" width="121.76" height="6.1" fill="#267DB2"/>
<rect x="253.91" y="613.67" width="3.87" height="6.1" fill="#5FA1CA"/>
<rect x="257.63" y="613.67" width="7.60" height="6.1" fill="#A6CEE3"/>
<rect x="111.95" y="620.46" width="10.08" height="6.1" fill="#7348A0"/>
<rect x="121.88" y="620.46" width="8.09" height="6.1" fill="#ED9047"/>
<rect x="123.86" y="620.46" width="0.35" height="6.1" fill="#f3a766"/>
<rect x="125.85" y="620.46" width="0.35" height="6.1" fill="#f3a766"/>
<rect x="127.83" y="620.46" width="0.35" height="6.1" fill="#f3a766"/>
<rect x="129.82" y="620.46" width="3.87" height="6.1" fill="#B89C75"/>
<rect x="133.54" y="620.46" width="119.77" height="6.1" fill="#267DB2"/>
<rect x="253.16" y="620.46" width="3.87" height="6.1" fill="#5FA1CA"/>
<rect x="256.88" y="620.46" width="8.34" height="6.1" fill="#A6CEE3"/>
<rect x="371.17" y="308.35" width="3.38" height="6.1" fill="#DAB063"/>
<rect x="374.39" y="308.35" width="30.92" height="6.1" fill="#7348A0"/>
<rect x="405.17" y="308.35" width="9.08" height="6.1" fill="#ED9047"/>
<rect x="406.95" y="308.35" width="0.35" height="6.1" fill="#f3a766"/>
<rect x="408.74" y="308.35" width="0.35" height="6.1" fill="#f3a766"/>
<rect x="410.53" y="308.35" width="0.35" height="6.1" fill="#f3a766"/>
<rect x="412.32" y="308.35" width="0.35" height="6.1" fill="#f3a766"/>
<rect x="414.10" y="308.35" width="8.09" height="6.1" fill="#FEAD4F"/>
<rect x="422.04" y="308.35" width="7.10" height="6.1" fill="#EA3F40"/>
<rect x="428.99" y="308.35" width="3.13" height="6.1" fill="#B89C75"/>
<rect x="431.97" y="308.35" width="6.35" height="6.1" fill="#A6D981"/>
<rect x="438.18" y="308.35" width="8.09" height="6.1" fill="#73B39C"/>
<rect x="446.12" y="308.35" width="67.16" height="6.1" fill="#267DB2"/>
<rect x="513.12" y="308.35" width="7.10" height="6.1" fill="#5FA1CA"/>
<rect x="520.07" y="308.35" width="3.87" height="6.1" fill="#A6CEE3"/>
<rect x="371.17" y="315.13" width="17.52" height="6.1" fill="#7348A0"/>
<rect x="388.54" y="315.13" width="14.54" height="6.1" fill="#ED9047"/>
<rect x="390.60" y="315.13" width="0.35" height="6.1" fill="#f3a766"/>
<rect x="392.65" y="315.13" width="0.35" height="6.1" fill="#f3a766"/>
<rect x="394.71" y="315.13" width="0.35" height="6.1" fill="#f3a766"/>
<rect x="396.77" y="315.13" width="0.35" height="6.1" fill="#f3a766"/>
<rect x="398.82" y="315.13" width="0.35" height="6.1" fill="#f3a766"/>
<rect x="400.88" y="315.13" width="0.35" height="6.1" fill="#f3a766"/>
<rect x="402.93" y="315.13" width="3.62" height="6.1" fill="#EA3F40"/>
<rect x="406.41" y="315.13" width="3.87" height="6.1" fill="#63B850"/>
<rect x="410.13" y="315.13" width="8.34" height="6.1" fill="#A6D981"/>
<rect x="418.32" y="315.13" width="3.13" height="6.1" fill="#73B39C"/>
<rect x="421.30" y="315.13" width="96.94" height="6.1" fill="#267DB2"/>
<rect x="518.09" y="315.13" width="5.86" height="6.1" fill="#5FA1CA"/>
<rect x="371.17" y="321.92" width="15.04" height="6.1" fill="#7348A0"/>
<rect x="386.06" y="321.92" width="5.11" height="6.1" fill="#A585BF"/>
<rect x="391.02" y="321.92" width="12.56" height="6.1" fill="#ED9047"/>
<rect x="393.09" y="321.92" width="0.35" height="6.1" fill="#f3a766"/>
<rect x="395.16" y="321.92" width="0.35" height="6.1" fill="#f3a766"/>
<rect x="397.23" y="321.92" width="0.35" height="6.1" fill="#f3a766"/>
<rect x="399.29" y="321.92" width="0.35" height="6.1" fill="#f3a766"/>
<rect x="401.36" y="321.92" width="0.35" height="6.1" fill="#f3a766"/>
<rect x="403.43" y="321.92" width="19.26" height="6.1" fill="#B89C75"/>
<rect x="422.54" y="321.92" width="4.12" height="6.1" fill="#63B850"/>
<rect x="426.51" y="321.92" width="13.55" height="6.1" fill="#A6D981"/>
<rect x="439.91" y="321.92" width="71.62" height="6.1" fill="#267DB2"/>
<rect x="511.39" y="321.92" width="8.84" height="6.1" fill="#5FA1CA"/>
<rect x="520.07" y="321.92" width="3.87" height="6.1" fill="#A6CEE3"/>
<rect x="371.17" y="328.70" width="15.79" height="6.1" fill="#7348A0"/>
<rect x="386.80" y="328.70" width="4.37" height="6.1" fill="#A585BF"/>
<rect x="391.02" y="328.70" width="15.04" height="6.1" fill="#ED9047"/>
<rect x="393.15" y="328.70" width="0.35" height="6.1" fill="#f3a766"/>
<rect x="395.28" y="328.70" width="0.35" height="6.1" fill="#f3a766"/>
<rect x="397.40" y="328.70" width="0.35" height="6.1" fill="#f3a766"/>
<rect x="399.53" y="328.70" width="0.35" height="6.1" fill="#f3a766"/>
<rect x="401.66" y="328.70" width="0.35" height="6.1" fill="#f3a766"/>
<rect x="403.79" y="328.70" width="0.35" height="6.1" fill="#f3a766"/>
<rect x="405.91" y="328.70" width="3.38" height="6.1" fill="#B89C75"/>
<rect x="409.14" y="328.70" width="8.84" height="6.1" fill="#A6D981"/>
<rect x="417.82" y="328.70" width="92.47" height="6.1" fill="#267DB2"/>
<rect x="510.15" y="328.70" width="9.58" height="6.1" fill="#5FA1CA"/>
<rect x="519.58" y="328.70" width="4.37" height="6.1" fill="#A6CEE3"/>
<rect x="371.17" y="335.49" width="23.23" height="6.1" fill="#7348A0"/>
<rect x="394.25" y="335.49" width="3.87" height="6.1" fill="#A585BF"/>
<rect x="397.97" y="335.49" width="11.81" height="6.1" fill="#ED9047"/>
<rect x="399.91" y="335.49" width="0.35" height="6.1" fill="#f3a766"/>
<rect x="401.86" y="335.49" width="0.35" height="6.1" fill="#f3a766"/>
<rect x="403.80" y="335.49" width="0.35" height="6.1" fill="#f3a766"/>
<rect x="405.75" y="335.49" width="0.35" height="6.1" fill="#f3a766"/>
<rect x="407.69" y="335.49" width="0.35" height="6.1" fill="#f3a766"/>
<rect x="409.64" y="335.49" width="3.13" height="6.1" fill="#FEAD4F"/>
<rect x="412.61" y="335.49" width="7.84" height="6.1" fill="#EA3F40"/>
<rect x="420.31" y="335.49" width="4.37" height="6.1" fill="#B89C75"/>
<rect x="424.53" y="335.49" width="3.38" height="6.1" fill="#63B850"/>
<rect x="427.75" y="335.49" width="11.32" height="6.1" fill="#A6D981"/>
<rect x="438.92" y="335.49" width="70.14" height="6.1" fill="#267DB2"/>
<rect x="508.91" y="335.49" width="10.82" height="6.1" fill="#5FA1CA"/>
<rect x="519.58" y="335.49" width="4.37" height="6.1" fill="#A6CEE3"/>
<rect x="371.17" y="342.27" width="13.80" height="6.1" fill="#7348A0"/>
<rect x="384.82" y="342.27" width="11.81" height="6.1" fill="#ED9047"/>
<rect x="386.76" y="342.27" width="0.35" height="6.1" fill="#f3a766"/>
<rect x="388.71" y="342.27" width="0.35" height="6.1" fill="#f3a766"/>
<rect x="390.65" y="342.27" width="0.35" height="6.1" fill="#f3a766"/>
<rect x="392.59" y="342.27" width="0.35" height="6.1" fill="#f3a766"/>
<rect x="394.54" y="342.27" width="0.35" height="6.1" fill="#f3a766"/>
<rect x="396.48" y="342.27" width="3.38" height="6.1" fill="#B89C75"/>
<rect x="399.71" y="342.27" width="3.38" height="6.1" fill="#63B850"/>
<rect x="402.93" y="342.27" width="6.35" height="6.1" fill="#A6D981"/>
<rect x="409.14" y="342.27" width="106.12" height="6.1" fill="#267DB2"/>
<rect x="515.11" y="342.27" width="4.62" height="6.1" fill="#5FA1CA"/>
<rect x="519.58" y="342.27" width="4.37" height="6.1" fill="#A6CEE3"/>
<rect x="371.17" y="349.06" width="28.19" height="6.1" fill="#7348A0"/>
<rect x="399.21" y="349.06" width="3.62" height="6.1" fill="#A585BF"/>
<rect x="402.69" y="349.06" width="14.05" height="6.1" fill="#ED9047"/>
<rect x="404.67" y="349.06" width="0.35" height="6.1" fill="#f3a766"/>
<rect x="406.66" y="349.06" width="0.35" height="6.1" fill="#f3a766"/>
<rect x="408.64" y="349.06" width="0.35" height="6.1" fill="#f3a766"/>
<rect x="410.63" y="349.06" width="0.35" height="6.1" fill="#f3a766"/>
<rect x="412.61" y="349.06" width="0.35" height="6.1" fill="#f3a766"/>
<rect x="414.60" y="349.06" width="0.35" height="6.1" fill="#f3a766"/>
<rect x="416.58" y="349.06" width="3.13" height="6.1" fill="#FEAD4F"/>
<rect x="419.56" y="349.06" width="7.60" height="6.1" fill="#EA3F40"/>
<rect x="427.01" y="349.06" width="10.08" height="6.1" fill="#A6D981"/>
<rect x="436.93" y="349.06" width="69.14" height="6.1" fill="#267DB2"/>
<rect x="505.93" y="349.06" width="9.83" height="6.1" fill="#5FA1CA"/>
<rect x="515.61" y="349.06" width="8.34" height="6.1" fill="#A6CEE3"/>
<rect x="371.17" y="355.84" width="36.88" height="6.1" fill="#7348A0"/>
<rect x="407.90" y="355.84" width="20.00" height="6.1" fill="#ED9047"/>
<rect x="409.88" y="355.84" width="0.35" height="6.1" fill="#f3a766"/>
<rect x="411.87" y="355.84" width="0.35" height="6.1" fill="#f3a766"/>
<rect x="413.85" y="355.84" width="0.35" height="6.1" fill="#f3a766"/>
<rect x="415.84" y="355.84" width="0.35" height="6.1" fill="#f3a766"/>
<rect x="417.82" y="355.84" width="0.35" height="6.1" fill="#f3a766"/>
<rect x="419.81" y="355.84" width="0.35" height="6.1" fill="#f3a766"/>
<rect x="421.80" y="355.84" width="0.35" height="6.1" fill="#f3a766"/>
<rect x="423.78" y="355.84" width="0.35" height="6.1" fill="#f3a766"/>
<rect x="425.77" y="355.84" width="0.35" height="6.1" fill="#f3a766"/>
<rect x="427.75" y="355.84" width="4.87" height="6.1" fill="#EA3F40"/>
<rect x="432.47" y="355.84" width="86.51" height="6.1" fill="#267DB2"/>
<rect x="518.83" y="355.84" width="5.11" height="6.1" fill="#A6CEE3"/>
<rect x="371.17" y="362.63" width="4.62" height="6.1" fill="#DAB063"/>
<rect x="375.64" y="362.63" width="29.68" height="6.1" fill="#7348A0"/>
<rect x="405.17" y="362.63" width="7.10" height="6.1" fill="#A585BF"/>
<rect x="412.12" y="362.63" width="24.22" height="6.1" fill="#ED9047"/>
<rect x="414.31" y="362.63" width="0.35" height="6.1" fill="#f3a766"/>
<rect x="416.49" y="362.63" width="0.35" height="6.1" fill="#f3a766"/>
<rect x="418.68" y="362.63" width="0.35" height="6.1" fill="#f3a766"/>
<rect x="420.87" y="362.63" width="0.35" height="6.1" fill="#f3a766"/>
<rect x="423.06" y="362.63" width="0.35" height="6.1" fill="#f3a766"/>
<rect x="425.25" y="362.63" width="0.35" height="6.1" fill="#f3a766"/>
<rect x="427.44" y="362.63" width="0.35" height="6.1" fill="#f3a766"/>
<rect x="429.62" y="362.63" width="0.35" height="6.1" fill="#f3a766"/>
<rect x="431.81" y="362.63" width="0.35" height="6.1" fill="#f3a766"/>
<rect x="434.00" y="362.63" width="0.35" height="6.1" fill="#f3a766"/>
<rect x="436.19" y="362.63" width="4.12" height="6.1" fill="#FF8B15"/>
<rect x="440.16" y="362.63" width="6.11" height="6.1" fill="#FEAD4F"/>
<rect x="446.12" y="362.63" width="11.32" height="6.1" fill="#F7985B"/>
<rect x="457.28" y="362.63" width="4.12" height="6.1" fill="#EA3F40"/>
<rect x="461.26" y="362.63" width="5.61" height="6.1" fill="#63B850"/>
<rect x="466.72" y="362.63" width="14.30" height="6.1" fill="#A6D981"/>
<rect x="480.86" y="362.63" width="7.10" height="6.1" fill="#267DB2"/>
<rect x="487.81" y="362.63" width="29.93" height="6.1" fill="#5FA1CA"/>
<rect x="517.59" y="362.63" width="6.35" height="6.1" fill="#A6CEE3"/>
<rect x="371.17" y="369.41" width="19.26" height="6.1" fill="#7348A0"/>
<rect x="390.28" y="369.41" width="19.51" height="6.1" fill="#ED9047"/>
<rect x="392.43" y="369.41" width="0.35" height="6.1" fill="#f3a766"/>
<rect x="394.58" y="369.41" width="0.35" height="6.1" fill="#f3a766"/>
<rect x="396.73" y="369.41" width="0.35" height="6.1" fill="#f3a766"/>
<rect x="398.88" y="369.41" width="0.35" height="6.1" fill="#f3a766"/>
<rect x="401.03" y="369.41" width="0.35" height="6.1" fill="#f3a766"/>
<rect x="403.18" y="369.41" width="0.35" height="6.1" fill="#f3a766"/>
<rect x="405.33" y="369.41" width="0.35" height="6.1" fill="#f3a766"/>
<rect x="407.48" y="369.41" width="0.35" height="6.1" fill="#f3a766"/>
<rect x="409.64" y="369.41" width="4.37" height="6.1" fill="#EA3F40"/>
<rect x="413.85" y="369.41" width="12.56" height="6.1" fill="#A6D981"/>
<rect x="426.26" y="369.41" width="85.77" height="6.1" fill="#267DB2"/>
<rect x="511.88" y="369.41" width="7.10" height="6.1" fill="#5FA1CA"/>
<rect x="518.83" y="369.41" width="5.11" height="6.1" fill="#A6CEE3"/>
<rect x="371.17" y="376.20" width="3.13" height="6.1" fill="#DAB063"/>
<rect x="374.15" y="376.20" width="38.12" height="6.1" fill="#7348A0"/>
<rect x="412.12" y="376.20" width="5.86" height="6.1" fill="#A585BF"/>
<rect x="417.82" y="376.20" width="19.26" height="6.1" fill="#ED9047"/>
<rect x="419.95" y="376.20" width="0.35" height="6.1" fill="#f3a766"/>
<rect x="422.07" y="376.20" width="0.35" height="6.1" fill="#f3a766"/>
<rect x="424.19" y="376.20" width="0.35" height="6.1" fill="#f3a766"/>
<rect x="426.32" y="376.20" width="0.35" height="6.1" fill="#f3a766"/>
<rect x="428.44" y="376.20" width="0.35" height="6.1" fill="#f3a766"/>
<rect x="430.56" y="376.20" width="0.35" height="6.1" fill="#f3a766"/>
<rect x="432.69" y="376.20" width="0.35" height="6.1" fill="#f3a766"/>
<rect x="434.81" y="376.20" width="0.35" height="6.1" fill="#f3a766"/>
<rect x="436.93" y="376.20" width="3.87" height="6.1" fill="#FEAD4F"/>
<rect x="440.66" y="376.20" width="6.85" height="6.1" fill="#F7985B"/>
<rect x="447.36" y="376.20" width="8.84" height="6.1" fill="#EA3F40"/>
<rect x="456.04" y="376.20" width="15.79" height="6.1" fill="#A6D981"/>
<rect x="471.68" y="376.20" width="23.73" height="6.1" fill="#267DB2"/>
<rect x="495.26" y="376.20" width="22.98" height="6.1" fill="#5FA1CA"/>
<rect x="518.09" y="376.20" width="5.86" height="6.1" fill="#A6CEE3"/>
<rect x="371.17" y="382.98" width="25.71" height="6.1" fill="#7348A0"/>
<rect x="396.73" y="382.98" width="3.87" height="6.1" fill="#A585BF"/>
<rect x="400.45" y="382.98" width="13.06" height="6.1" fill="#ED9047"/>
<rect x="402.60" y="382.98" width="0.35" height="6.1" fill="#f3a766"/>
<rect x="404.75" y="382.98" width="0.35" height="6.1" fill="#f3a766"/>
<rect x="406.91" y="382.98" width="0.35" height="6.1" fill="#f3a766"/>
<rect x="409.06" y="382.98" width="0.35" height="6.1" fill="#f3a766"/>
<rect x="411.21" y="382.98" width="0.35" height="6.1" fill="#f3a766"/>
<rect x="413.36" y="382.98" width="6.35" height="6.1" fill="#FEAD4F"/>
<rect x="419.56" y="382.98" width="5.61" height="6.1" fill="#EA3F40"/>
<rect x="425.02" y="382.98" width="3.87" height="6.1" fill="#B89C75"/>
<rect x="428.74" y="382.98" width="3.87" height="6.1" fill="#63B850"/>
<rect x="432.47" y="382.98" width="9.58" height="6.1" fill="#A6D981"/>
<rect x="441.90" y="382.98" width="60.95" height="6.1" fill="#267DB2"/>
<rect x="502.70" y="382.98" width="16.28" height="6.1" fill="#5FA1CA"/>
<rect x="518.83" y="382.98" width="5.11" height="6.1" fill="#A6CEE3"/>
<rect x="371.17" y="389.77" width="40.35" height="6.1" fill="#7348A0"/>
<rect x="411.37" y="389.77" width="5.11" height="6.1" fill="#A585BF"/>
<rect x="416.34" y="389.77" width="12.56" height="6.1" fill="#ED9047"/>
<rect x="418.40" y="389.77" width="0.35" height="6.1" fill="#f3a766"/>
<rect x="420.47" y="389.77" width="0.35" height="6.1" fill="#f3a766"/>
<rect x="422.54" y="389.77" width="0.35" height="6.1" fill="#f3a766"/>
<rect x="424.61" y="389.77" width="0.35" height="6.1" fill="#f3a766"/>
<rect x="426.68" y="389.77" width="0.35" height="6.1" fill="#f3a766"/>
<rect x="428.74" y="389.77" width="3.87" height="6.1" fill="#FF8B15"/>
<rect x="432.47" y="389.77" width="8.84" height="6.1" fill="#F7985B"/>
<rect x="441.15" y="389.77" width="10.08" height="6.1" fill="#EA3F40"/>
<rect x="451.08" y="389.77" width="3.87" height="6.1" fill="#B89C75"/>
<rect x="454.80" y="389.77" width="3.38" height="6.1" fill="#63B850"/>
<rect x="458.03" y="389.77" width="8.84" height="6.1" fill="#A6D981"/>
<rect x="466.72" y="389.77" width="32.41" height="6.1" fill="#267DB2"/>
<rect x="498.98" y="389.77" width="18.02" height="6.1" fill="#5FA1CA"/>
<rect x="516.85" y="389.77" width="7.10" height="6.1" fill="#A6CEE3"/>
<rect x="371.17" y="396.55" width="20.00" height="6.1" fill="#7348A0"/>
<rect x="391.02" y="396.55" width="13.80" height="6.1" fill="#ED9047"/>
<rect x="392.97" y="396.55" width="0.35" height="6.1" fill="#f3a766"/>
<rect x="394.92" y="396.55" width="0.35" height="6.1" fill="#f3a766"/>
<rect x="396.87" y="396.55" width="0.35" height="6.1" fill="#f3a766"/>
<rect x="398.82" y="396.55" width="0.35" height="6.1" fill="#f3a766"/>
<rect x="400.77" y="396.55" width="0.35" height="6.1" fill="#f3a766"/>
<rect x="402.72" y="396.55" width="0.35" height="6.1" fill="#f3a766"/>
<rect x="404.67" y="396.55" width="112.33" height="6.1" fill="#267DB2"/>
<rect x="516.85" y="396.55" width="3.87" height="6.1" fill="#5FA1CA"/>
<rect x="520.57" y="396.55" width="3.38" height="6.1" fill="#A6CEE3"/>
<rect x="371.17" y="403.34" width="25.46" height="6.1" fill="#7348A0"/>
<rect x="396.48" y="403.34" width="10.82" height="6.1" fill="#ED9047"/>
<rect x="398.62" y="403.34" width="0.35" height="6.1" fill="#f3a766"/>
<rect x="400.75" y="403.34" width="0.35" height="6.1" fill="#f3a766"/>
<rect x="402.88" y="403.34" width="0.35" height="6.1" fill="#f3a766"/>
<rect x="405.02" y="403.34" width="0.35" height="6.1" fill="#f3a766"/>
<rect x="407.15" y="403.34" width="6.35" height="6.1" fill="#EA3F40"/>
<rect x="413.36" y="403.34" width="4.62" height="6.1" fill="#A6D981"/>
<rect x="417.82" y="403.34" width="93.22" height="6.1" fill="#267DB2"/>
<rect x="510.89" y="403.34" width="9.33" height="6.1" fill="#5FA1CA"/>
<rect x="520.07" y="403.34" width="3.87" height="6.1" fill="#A6CEE3"/>
<rect x="371.17" y="410.12" width="15.54" height="6.1" fill="#7348A0"/>
<rect x="386.55" y="410.12" width="19.51" height="6.1" fill="#ED9047"/>
<rect x="388.71" y="410.12" width="0.35" height="6.1" fill="#f3a766"/>
<rect x="390.86" y="410.12" width="0.35" height="6.1" fill="#f3a766"/>
<rect x="393.01" y="410.12" width="0.35" height="6.1" fill="#f3a766"/>
<rect x="395.16" y="410.12" width="0.35" height="6.1" fill="#f3a766"/>
<rect x="397.31" y="410.12" width="0.35" height="6.1" fill="#f3a766"/>
<rect x="399.46" y="410.12" width="0.35" height="6.1" fill="#f3a766"/>
<rect x="401.61" y="410.12" width="0.35" height="6.1" fill="#f3a766"/>
<rect x="403.76" y="410.12" width="0.35" height="6.1" fill="#f3a766"/>
<rect x="405.91" y="410.12" width="3.87" height="6.1" fill="#B89C75"/>
<rect x="409.64" y="410.12" width="12.56" height="6.1" fill="#A6D981"/>
<rect x="422.04" y="410.12" width="87.76" height="6.1" fill="#267DB2"/>
<rect x="509.65" y="410.12" width="9.33" height="6.1" fill="#5FA1CA"/>
<rect x="518.83" y="410.12" width="5.11" height="6.1" fill="#A6CEE3"/>
<rect x="371.17" y="416.91" width="12.06" height="6.1" fill="#7348A0"/>
<rect x="383.08" y="416.91" width="11.81" height="6.1" fill="#ED9047"/>
<rect x="385.02" y="416.91" width="0.35" height="6.1" fill="#f3a766"/>
<rect x="386.97" y="416.91" width="0.35" height="6.1" fill="#f3a766"/>
<rect x="388.91" y="416.91" width="0.35" height="6.1" fill="#f3a766"/>
<rect x="390.86" y="416.91" width="0.35" height="6.1" fill="#f3a766"/>
<rect x="392.80" y="416.91" width="0.35" height="6.1" fill="#f3a766"/>
<rect x="394.74" y="416.91" width="3.87" height="6.1" fill="#B89C75"/>
<rect x="398.47" y="416.91" width="3.87" height="6.1" fill="#63B850"/>
<rect x="402.19" y="416.91" width="8.34" height="6.1" fill="#A6D981"/>
<rect x="410.38" y="416.91" width="102.89" height="6.1" fill="#267DB2"/>
<rect x="513.12" y="416.91" width="6.60" height="6.1" fill="#5FA1CA"/>
<rect x="519.58" y="416.91" width="4.37" height="6.1" fill="#A6CEE3"/>
<rect x="371.17" y="423.69" width="26.21" height="6.1" fill="#7348A0"/>
<rect x="397.23" y="423.69" width="3.87" height="6.1" fill="#A585BF"/>
<rect x="400.95" y="423.69" width="12.06" height="6.1" fill="#ED9047"/>
<rect x="402.93" y="423.69" width="0.35" height="6.1" fill="#f3a766"/>
<rect x="404.92" y="423.69" width="0.35" height="6.1" fill="#f3a766"/>
<rect x="406.91" y="423.69" width="0.35" height="6.1" fill="#f3a766"/>
<rect x="408.89" y="423.69" width="0.35" height="6.1" fill="#f3a766"/>
<rect x="410.88" y="423.69" width="0.35" height="6.1" fill="#f3a766"/>
<rect x="412.86" y="423.69" width="6.85" height="6.1" fill="#FEAD4F"/>
<rect x="419.56" y="423.69" width="6.85" height="6.1" fill="#EA3F40"/>
<rect x="426.26" y="423.69" width="3.38" height="6.1" fill="#B89C75"/>
<rect x="429.49" y="423.69" width="12.06" height="6.1" fill="#A6D981"/>
<rect x="441.40" y="423.69" width="63.43" height="6.1" fill="#267DB2"/>
<rect x="504.69" y="423.69" width="13.80" height="6.1" fill="#5FA1CA"/>
<rect x="518.34" y="423.69" width="5.61" height="6.1" fill="#A6CEE3"/>
<rect x="371.17" y="430.48" width="17.03" height="6.1" fill="#7348A0"/>
<rect x="388.04" y="430.48" width="16.78" height="6.1" fill="#ED9047"/>
<rect x="390.12" y="430.48" width="0.35" height="6.1" fill="#f3a766"/>
<rect x="392.20" y="430.48" width="0.35" height="6.1" fill="#f3a766"/>
<rect x="394.28" y="430.48" width="0.35" height="6.1" fill="#f3a766"/>
<rect x="396.36" y="430.48" width="0.35" height="6.1" fill="#f3a766"/>
<rect x="398.44" y="430.48" width="0.35" height="6.1" fill="#f3a766"/>
<rect x="400.51" y="430.48" width="0.35" height="6.1" fill="#f3a766"/>
<rect x="402.59" y="430.48" width="0.35" height="6.1" fill="#f3a766"/>
<rect x="404.67" y="430.48" width="4.37" height="6.1" fill="#EA3F40"/>
<rect x="408.89" y="430.48" width="3.38" height="6.1" fill="#B89C75"/>
<rect x="412.12" y="430.48" width="4.62" height="6.1" fill="#63B850"/>
<rect x="416.58" y="430.48" width="12.56" height="6.1" fill="#A6D981"/>
<rect x="428.99" y="430.48" width="73.11" height="6.1" fill="#267DB2"/>
<rect x="501.96" y="430.48" width="14.05" height="6.1" fill="#5FA1CA"/>
<rect x="515.85" y="430.48" width="8.09" height="6.1" fill="#A6CEE3"/>
<rect x="371.17" y="437.26" width="20.75" height="6.1" fill="#7348A0"/>
<rect x="391.77" y="437.26" width="9.33" height="6.1" fill="#ED9047"/>
<rect x="393.60" y="437.26" width="0.35" height="6.1" fill="#f3a766"/>
<rect x="395.44" y="437.26" width="0.35" height="6.1" fill="#f3a766"/>
<rect x="397.28" y="437.26" width="0.35" height="6.1" fill="#f3a766"/>
<rect x="399.11" y="437.26" width="0.35" height="6.1" fill="#f3a766"/>
<rect x="400.95" y="437.26" width="5.11" height="6.1" fill="#EA3F40"/>
<rect x="405.91" y="437.26" width="3.38" height="6.1" fill="#B89C75"/>
<rect x="409.14" y="437.26" width="104.88" height="6.1" fill="#267DB2"/>
<rect x="513.87" y="437.26" width="5.11" height="6.1" fill="#5FA1CA"/>
<rect x="518.83" y="437.26" width="5.11" height="6.1" fill="#A6CEE3"/>
<rect x="371.17" y="444.05" width="49.29" height="6.1" fill="#7348A0"/>
<rect x="420.31" y="444.05" width="4.87" height="6.1" fill="#A585BF"/>
<rect x="425.02" y="444.05" width="7.10" height="6.1" fill="#ED9047"/>
<rect x="426.76" y="444.05" width="0.35" height="6.1" fill="#f3a766"/>
<rect x="428.50" y="444.05" width="0.35" height="6.1" fill="#f3a766"/>
<rect x="430.23" y="444.05" width="0.35" height="6.1" fill="#f3a766"/>
<rect x="431.97" y="444.05" width="16.28" height="6.1" fill="#EA3F40"/>
<rect x="448.10" y="444.05" width="4.37" height="6.1" fill="#A6D981"/>
<rect x="452.32" y="444.05" width="52.51" height="6.1" fill="#267DB2"/>
<rect x="504.69" y="444.05" width="13.55" height="6.1" fill="#5FA1CA"/>
<rect x="518.09" y="444.05" width="5.86" height="6.1" fill="#A6CEE3"/>
<rect x="371.17" y="450.83" width="19.26" height="6.1" fill="#7348A0"/>
<rect x="390.28" y="450.83" width="5.36" height="6.1" fill="#A585BF"/>
<rect x="395.49" y="450.83" width="11.07" height="6.1" fill="#ED9047"/>
<rect x="397.67" y="450.83" width="0.35" height="6.1" fill="#f3a766"/>
<rect x="399.86" y="450.83" width="0.35" height="6.1" fill="#f3a766"/>
<rect x="402.04" y="450.83" width="0.35" height="6.1" fill="#f3a766"/>
<rect x="404.22" y="450.83" width="0.35" height="6.1" fill="#f3a766"/>
<rect x="406.41" y="450.83" width="4.62" height="6.1" fill="#FEAD4F"/>
<rect x="410.88" y="450.83" width="3.38" height="6.1" fill="#EA3F40"/>
<rect x="414.10" y="450.83" width="3.87" height="6.1" fill="#509F3C"/>
<rect x="417.82" y="450.83" width="3.62" height="6.1" fill="#63B850"/>
<rect x="421.30" y="450.83" width="8.34" height="6.1" fill="#A6D981"/>
<rect x="429.49" y="450.83" width="78.33" height="6.1" fill="#267DB2"/>
<rect x="507.66" y="450.83" width="13.30" height="6.1" fill="#5FA1CA"/>
<rect x="520.82" y="450.83" width="3.13" height="6.1" fill="#A6CEE3"/>
<rect x="371.17" y="457.62" width="18.02" height="6.1" fill="#7348A0"/>
<rect x="389.04" y="457.62" width="3.87" height="6.1" fill="#A585BF"/>
<rect x="392.76" y="457.62" width="10.08" height="6.1" fill="#ED9047"/>
<rect x="394.74" y="457.62" width="0.35" height="6.1" fill="#f3a766"/>
<rect x="396.73" y="457.62" width="0.35" height="6.1" fill="#f3a766"/>
<rect x="398.72" y="457.62" width="0.35" height="6.1" fill="#f3a766"/>
<rect x="400.70" y="457.62" width="0.35" height="6.1" fill="#f3a766"/>
<rect x="402.69" y="457.62" width="4.12" height="6.1" fill="#FEAD4F"/>
<rect x="406.66" y="457.62" width="3.62" height="6.1" fill="#EA3F40"/>
<rect x="410.13" y="457.62" width="5.11" height="6.1" fill="#63B850"/>
<rect x="415.09" y="457.62" width="10.08" height="6.1" fill="#A6D981"/>
<rect x="425.02" y="457.62" width="82.05" height="6.1" fill="#267DB2"/>
<rect x="506.92" y="457.62" width="13.30" height="6.1" fill="#5FA1CA"/>
<rect x="520.07" y="457.62" width="3.87" height="6.1" fill="#A6CEE3"/>
<rect x="371.17" y="464.40" width="20.00" height="6.1" fill="#7348A0"/>
<rect x="391.02" y="464.40" width="4.37" height="6.1" fill="#A585BF"/>
<rect x="395.24" y="464.40" width="11.32" height="6.1" fill="#ED9047"/>
<rect x="397.10" y="464.40" width="0.35" height="6.1" fill="#f3a766"/>
<rect x="398.96" y="464.40" width="0.35" height="6.1" fill="#f3a766"/>
<rect x="400.82" y="464.40" width="0.35" height="6.1" fill="#f3a766"/>
<rect x="402.69" y="464.40" width="0.35" height="6.1" fill="#f3a766"/>
<rect x="404.55" y="464.40" width="0.35" height="6.1" fill="#f3a766"/>
<rect x="406.41" y="464.40" width="3.38" height="6.1" fill="#FEAD4F"/>
<rect x="409.64" y="464.40" width="3.87" height="6.1" fill="#EA3F40"/>
<rect x="413.36" y="464.40" width="4.62" height="6.1" fill="#63B850"/>
<rect x="417.82" y="464.40" width="8.59" height="6.1" fill="#A6D981"/>
<rect x="426.26" y="464.40" width="79.81" height="6.1" fill="#267DB2"/>
<rect x="505.93" y="464.40" width="14.30" height="6.1" fill="#5FA1CA"/>
<rect x="520.07" y="464.40" width="3.87" height="6.1" fill="#A6CEE3"/>
<rect x="371.17" y="471.19" width="87.01" height="6.1" fill="#7348A0"/>
<rect x="458.03" y="471.19" width="3.87" height="6.1" fill="#D2ABB7"/>
<rect x="461.75" y="471.19" width="10.82" height="6.1" fill="#ED9047"/>
<rect x="463.89" y="471.19" width="0.35" height="6.1" fill="#f3a766"/>
<rect x="466.02" y="471.19" width="0.35" height="6.1" fill="#f3a766"/>
<rect x="468.15" y="471.19" width="0.35" height="6.1" fill="#f3a766"/>
<rect x="470.29" y="471.19" width="0.35" height="6.1" fill="#f3a766"/>
<rect x="472.42" y="471.19" width="3.87" height="6.1" fill="#B89C75"/>
<rect x="476.15" y="471.19" width="24.22" height="6.1" fill="#73B39C"/>
<rect x="500.22" y="471.19" width="18.02" height="6.1" fill="#267DB2"/>
<rect x="518.09" y="471.19" width="5.86" height="6.1" fill="#A6CEE3"/>
<rect x="371.17" y="477.97" width="17.03" height="6.1" fill="#7348A0"/>
<rect x="388.04" y="477.97" width="3.87" height="6.1" fill="#A585BF"/>
<rect x="391.77" y="477.97" width="9.33" height="6.1" fill="#ED9047"/>
<rect x="393.60" y="477.97" width="0.35" height="6.1" fill="#f3a766"/>
<rect x="395.44" y="477.97" width="0.35" height="6.1" fill="#f3a766"/>
<rect x="397.28" y="477.97" width="0.35" height="6.1" fill="#f3a766"/>
<rect x="399.11" y="477.97" width="0.35" height="6.1" fill="#f3a766"/>
<rect x="400.95" y="477.97" width="4.62" height="6.1" fill="#509F3C"/>
<rect x="405.42" y="477.97" width="9.83" height="6.1" fill="#A6D981"/>
<rect x="415.09" y="477.97" width="95.20" height="6.1" fill="#267DB2"/>
<rect x="510.15" y="477.97" width="10.08" height="6.1" fill="#5FA1CA"/>
<rect x="520.07" y="477.97" width="3.87" height="6.1" fill="#A6CEE3"/>
<rect x="371.17" y="484.76" width="25.46" height="6.1" fill="#7348A0"/>
<rect x="396.48" y="484.76" width="4.62" height="6.1" fill="#A585BF"/>
<rect x="400.95" y="484.76" width="12.06" height="6.1" fill="#ED9047"/>
<rect x="402.93" y="484.76" width="0.35" height="6.1" fill="#f3a766"/>
<rect x="404.92" y="484.76" width="0.35" height="6.1" fill="#f3a766"/>
<rect x="406.91" y="484.76" width="0.35" height="6.1" fill="#f3a766"/>
<rect x="408.89" y="484.76" width="0.35" height="6.1" fill="#f3a766"/>
<rect x="410.88" y="484.76" width="0.35" height="6.1" fill="#f3a766"/>
<rect x="412.86" y="484.76" width="4.37" height="6.1" fill="#EA3F40"/>
<rect x="417.08" y="484.76" width="7.10" height="6.1" fill="#509F3C"/>
<rect x="424.03" y="484.76" width="7.35" height="6.1" fill="#A6D981"/>
<rect x="431.23" y="484.76" width="3.87" height="6.1" fill="#73B39C"/>
<rect x="434.95" y="484.76" width="74.85" height="6.1" fill="#267DB2"/>
<rect x="509.65" y="484.76" width="10.57" height="6.1" fill="#5FA1CA"/>
<rect x="520.07" y="484.76" width="3.87" height="6.1" fill="#A6CEE3"/>
<rect x="371.17" y="491.54" width="17.52" height="6.1" fill="#7348A0"/>
<rect x="388.54" y="491.54" width="10.57" height="6.1" fill="#ED9047"/>
<rect x="390.62" y="491.54" width="0.35" height="6.1" fill="#f3a766"/>
<rect x="392.71" y="491.54" width="0.35" height="6.1" fill="#f3a766"/>
<rect x="394.79" y="491.54" width="0.35" height="6.1" fill="#f3a766"/>
<rect x="396.88" y="491.54" width="0.35" height="6.1" fill="#f3a766"/>
<rect x="398.96" y="491.54" width="3.87" height="6.1" fill="#EA3F40"/>
<rect x="402.69" y="491.54" width="3.38" height="6.1" fill="#509F3C"/>
<rect x="405.91" y="491.54" width="8.84" height="6.1" fill="#A6D981"/>
<rect x="414.60" y="491.54" width="100.66" height="6.1" fill="#267DB2"/>
<rect x="515.11" y="491.54" width="5.11" height="6.1" fill="#5FA1CA"/>
<rect x="520.07" y="491.54" width="3.87" height="6.1" fill="#A6CEE3"/>
<rect x="371.17" y="498.33" width="40.60" height="6.1" fill="#7348A0"/>
<rect x="411.62" y="498.33" width="15.04" height="6.1" fill="#ED9047"/>
<rect x="413.75" y="498.33" width="0.35" height="6.1" fill="#f3a766"/>
<rect x="415.87" y="498.33" width="0.35" height="6.1" fill="#f3a766"/>
<rect x="418.00" y="498.33" width="0.35" height="6.1" fill="#f3a766"/>
<rect x="420.13" y="498.33" width="0.35" height="6.1" fill="#f3a766"/>
<rect x="422.26" y="498.33" width="0.35" height="6.1" fill="#f3a766"/>
<rect x="424.38" y="498.33" width="0.35" height="6.1" fill="#f3a766"/>
<rect x="426.51" y="498.33" width="15.54" height="6.1" fill="#EA3F40"/>
<rect x="441.90" y="498.33" width="5.11" height="6.1" fill="#B89C75"/>
<rect x="446.86" y="498.33" width="8.84" height="6.1" fill="#A6D981"/>
<rect x="455.55" y="498.33" width="59.71" height="6.1" fill="#267DB2"/>
<rect x="515.11" y="498.33" width="4.62" height="6.1" fill="#5FA1CA"/>
<rect x="519.58" y="498.33" width="4.37" height="6.1" fill="#A6CEE3"/>
<rect x="371.17" y="505.11" width="13.06" height="6.1" fill="#7348A0"/>
<rect x="384.07" y="505.11" width="11.57" height="6.1" fill="#ED9047"/>
<rect x="385.98" y="505.11" width="0.35" height="6.1" fill="#f3a766"/>
<rect x="387.88" y="505.11" width="0.35" height="6.1" fill="#f3a766"/>
<rect x="389.78" y="505.11" width="0.35" height="6.1" fill="#f3a766"/>
<rect x="391.68" y="505.11" width="0.35" height="6.1" fill="#f3a766"/>
<rect x="393.59" y="505.11" width="0.35" height="6.1" fill="#f3a766"/>
<rect x="395.49" y="505.11" width="13.06" height="6.1" fill="#EA3F40"/>
<rect x="408.39" y="505.11" width="5.11" height="6.1" fill="#B89C75"/>
<rect x="413.36" y="505.11" width="10.82" height="6.1" fill="#A6D981"/>
<rect x="424.03" y="505.11" width="92.47" height="6.1" fill="#267DB2"/>
<rect x="516.35" y="505.11" width="3.87" height="6.1" fill="#5FA1CA"/>
<rect x="520.07" y="505.11" width="3.87" height="6.1" fill="#A6CEE3"/>
<rect x="371.17" y="511.90" width="11.32" height="6.1" fill="#7348A0"/>
<rect x="382.34" y="511.90" width="14.30" height="6.1" fill="#ED9047"/>
<rect x="384.36" y="511.90" width="0.35" height="6.1" fill="#f3a766"/>
<rect x="386.38" y="511.90" width="0.35" height="6.1" fill="#f3a766"/>
<rect x="388.40" y="511.90" width="0.35" height="6.1" fill="#f3a766"/>
<rect x="390.42" y="511.90" width="0.35" height="6.1" fill="#f3a766"/>
<rect x="392.44" y="511.90" width="0.35" height="6.1" fill="#f3a766"/>
<rect x="394.46" y="511.90" width="0.35" height="6.1" fill="#f3a766"/>
<rect x="396.48" y="511.90" width="10.82" height="6.1" fill="#EA3F40"/>
<rect x="407.15" y="511.90" width="3.87" height="6.1" fill="#B89C75"/>
<rect x="410.88" y="511.90" width="12.56" height="6.1" fill="#A6D981"/>
<rect x="423.28" y="511.90" width="91.97" height="6.1" fill="#267DB2"/>
<rect x="515.11" y="511.90" width="3.87" height="6.1" fill="#5FA1CA"/>
<rect x="518.83" y="511.90" width="5.11" height="6.1" fill="#A6CEE3"/>
<rect x="371.17" y="518.69" width="109.84" height="6.1" fill="#7348A0"/>
<rect x="480.86" y="518.69" width="9.58" height="6.1" fill="#ED9047"/>
<rect x="482.75" y="518.69" width="0.35" height="6.1" fill="#f3a766"/>
<rect x="484.63" y="518.69" width="0.35" height="6.1" fill="#f3a766"/>
<rect x="486.52" y="518.69" width="0.35" height="6.1" fill="#f3a766"/>
<rect x="488.41" y="518.69" width="0.35" height="6.1" fill="#f3a766"/>
<rect x="490.29" y="518.69" width="4.62" height="6.1" fill="#B89C75"/>
<rect x="494.76" y="518.69" width="29.19" height="6.1" fill="#267DB2"/>
<rect x="371.17" y="525.47" width="26.21" height="6.1" fill="#7348A0"/>
<rect x="397.23" y="525.47" width="6.35" height="6.1" fill="#ED9047"/>
<rect x="399.29" y="525.47" width="0.35" height="6.1" fill="#f3a766"/>
<rect x="401.36" y="525.47" width="0.35" height="6.1" fill="#f3a766"/>
<rect x="403.43" y="525.47" width="4.62" height="6.1" fill="#B89C75"/>
<rect x="407.90" y="525.47" width="4.37" height="6.1" fill="#63B850"/>
<rect x="412.12" y="525.47" width="4.37" height="6.1" fill="#A6D981"/>
<rect x="416.34" y="525.47" width="101.90" height="6.1" fill="#267DB2"/>
<rect x="518.09" y="525.47" width="5.86" height="6.1" fill="#A6CEE3"/>
<rect x="371.17" y="532.25" width="13.80" height="6.1" fill="#7348A0"/>
<rect x="384.82" y="532.25" width="13.06" height="6.1" fill="#ED9047"/>
<rect x="386.97" y="532.25" width="0.35" height="6.1" fill="#f3a766"/>
<rect x="389.12" y="532.25" width="0.35" height="6.1" fill="#f3a766"/>
<rect x="391.27" y="532.25" width="0.35" height="6.1" fill="#f3a766"/>
<rect x="393.42" y="532.25" width="0.35" height="6.1" fill="#f3a766"/>
<rect x="395.57" y="532.25" width="0.35" height="6.1" fill="#f3a766"/>
<rect x="397.72" y="532.25" width="6.60" height="6.1" fill="#EA3F40"/>
<rect x="404.18" y="532.25" width="7.60" height="6.1" fill="#A6D981"/>
<rect x="411.62" y="532.25" width="104.14" height="6.1" fill="#267DB2"/>
<rect x="515.61" y="532.25" width="4.12" height="6.1" fill="#5FA1CA"/>
<rect x="519.58" y="532.25" width="4.37" height="6.1" fill="#A6CEE3"/>
<rect x="371.17" y="539.04" width="46.56" height="6.1" fill="#7348A0"/>
<rect x="417.58" y="539.04" width="13.80" height="6.1" fill="#ED9047"/>
<rect x="419.53" y="539.04" width="0.35" height="6.1" fill="#f3a766"/>
<rect x="421.48" y="539.04" width="0.35" height="6.1" fill="#f3a766"/>
<rect x="423.43" y="539.04" width="0.35" height="6.1" fill="#f3a766"/>
<rect x="425.38" y="539.04" width="0.35" height="6.1" fill="#f3a766"/>
<rect x="427.33" y="539.04" width="0.35" height="6.1" fill="#f3a766"/>
<rect x="429.28" y="539.04" width="0.35" height="6.1" fill="#f3a766"/>
<rect x="431.23" y="539.04" width="4.12" height="6.1" fill="#B89C75"/>
<rect x="435.20" y="539.04" width="18.02" height="6.1" fill="#73B39C"/>
<rect x="453.07" y="539.04" width="67.16" height="6.1" fill="#267DB2"/>
<rect x="520.07" y="539.04" width="3.87" height="6.1" fill="#A6CEE3"/>
<rect x="371.17" y="545.83" width="57.23" height="6.1" fill="#7348A0"/>
<rect x="428.25" y="545.83" width="15.54" height="6.1" fill="#ED9047"/>
<rect x="430.45" y="545.83" width="0.35" height="6.1" fill="#f3a766"/>
<rect x="432.64" y="545.83" width="0.35" height="6.1" fill="#f3a766"/>
<rect x="434.84" y="545.83" width="0.35" height="6.1" fill="#f3a766"/>
<rect x="437.04" y="545.83" width="0.35" height="6.1" fill="#f3a766"/>
<rect x="439.24" y="545.83" width="0.35" height="6.1" fill="#f3a766"/>
<rect x="441.44" y="545.83" width="0.35" height="6.1" fill="#f3a766"/>
<rect x="443.64" y="545.83" width="12.81" height="6.1" fill="#B89C75"/>
<rect x="456.29" y="545.83" width="6.11" height="6.1" fill="#A6D981"/>
<rect x="462.25" y="545.83" width="53.76" height="6.1" fill="#267DB2"/>
<rect x="515.85" y="545.83" width="4.37" height="6.1" fill="#5FA1CA"/>
<rect x="520.07" y="545.83" width="3.87" height="6.1" fill="#A6CEE3"/>
<rect x="371.17" y="552.61" width="46.06" height="6.1" fill="#7348A0"/>
<rect x="417.08" y="552.61" width="4.62" height="6.1" fill="#A585BF"/>
<rect x="421.55" y="552.61" width="13.80" height="6.1" fill="#ED9047"/>
<rect x="423.50" y="552.61" width="0.35" height="6.1" fill="#f3a766"/>
<rect x="425.45" y="552.61" width="0.35" height="6.1" fill="#f3a766"/>
<rect x="427.40" y="552.61" width="0.35" height="6.1" fill="#f3a766"/>
<rect x="429.35" y="552.61" width="0.35" height="6.1" fill="#f3a766"/>
<rect x="431.30" y="552.61" width="0.35" height="6.1" fill="#f3a766"/>
<rect x="433.25" y="552.61" width="0.35" height="6.1" fill="#f3a766"/>
<rect x="435.20" y="552.61" width="4.37" height="6.1" fill="#FF8B15"/>
<rect x="439.42" y="552.61" width="3.87" height="6.1" fill="#FEAD4F"/>
<rect x="443.14" y="552.61" width="8.84" height="6.1" fill="#F7985B"/>
<rect x="451.82" y="552.61" width="11.81" height="6.1" fill="#EA3F40"/>
<rect x="463.49" y="552.61" width="5.11" height="6.1" fill="#F68281"/>
<rect x="468.45" y="552.61" width="3.87" height="6.1" fill="#B89C75"/>
<rect x="472.18" y="552.61" width="6.35" height="6.1" fill="#63B850"/>
<rect x="478.38" y="552.61" width="6.60" height="6.1" fill="#A6D981"/>
<rect x="484.83" y="552.61" width="13.80" height="6.1" fill="#267DB2"/>
<rect x="498.48" y="552.61" width="18.51" height="6.1" fill="#5FA1CA"/>
<rect x="516.85" y="552.61" width="7.10" height="6.1" fill="#A6CEE3"/>
<rect x="371.17" y="559.39" width="21.24" height="6.1" fill="#7348A0"/>
<rect x="392.26" y="559.39" width="5.86" height="6.1" fill="#A585BF"/>
<rect x="397.97" y="559.39" width="16.28" height="6.1" fill="#ED9047"/>
<rect x="399.99" y="559.39" width="0.35" height="6.1" fill="#f3a766"/>
<rect x="402.00" y="559.39" width="0.35" height="6.1" fill="#f3a766"/>
<rect x="404.02" y="559.39" width="0.35" height="6.1" fill="#f3a766"/>
<rect x="406.04" y="559.39" width="0.35" height="6.1" fill="#f3a766"/>
<rect x="408.05" y="559.39" width="0.35" height="6.1" fill="#f3a766"/>
<rect x="410.07" y="559.39" width="0.35" height="6.1" fill="#f3a766"/>
<rect x="412.09" y="559.39" width="0.35" height="6.1" fill="#f3a766"/>
<rect x="414.10" y="559.39" width="3.87" height="6.1" fill="#FF8B15"/>
<rect x="417.82" y="559.39" width="7.35" height="6.1" fill="#FEAD4F"/>
<rect x="425.02" y="559.39" width="16.28" height="6.1" fill="#F7985B"/>
<rect x="441.15" y="559.39" width="13.30" height="6.1" fill="#EA3F40"/>
<rect x="454.31" y="559.39" width="3.87" height="6.1" fill="#B89C75"/>
<rect x="458.03" y="559.39" width="8.34" height="6.1" fill="#63B850"/>
<rect x="466.22" y="559.39" width="11.07" height="6.1" fill="#A6D981"/>
<rect x="477.14" y="559.39" width="11.32" height="6.1" fill="#267DB2"/>
<rect x="488.31" y="559.39" width="27.70" height="6.1" fill="#5FA1CA"/>
<rect x="515.85" y="559.39" width="8.09" height="6.1" fill="#A6CEE3"/>
<rect x="371.17" y="566.18" width="26.21" height="6.1" fill="#7348A0"/>
<rect x="397.23" y="566.18" width="3.13" height="6.1" fill="#A585BF"/>
<rect x="400.20" y="566.18" width="14.05" height="6.1" fill="#ED9047"/>
<rect x="402.19" y="566.18" width="0.35" height="6.1" fill="#f3a766"/>
<rect x="404.18" y="566.18" width="0.35" height="6.1" fill="#f3a766"/>
<rect x="406.16" y="566.18" width="0.35" height="6.1" fill="#f3a766"/>
<rect x="408.15" y="566.18" width="0.35" height="6.1" fill="#f3a766"/>
<rect x="410.13" y="566.18" width="0.35" height="6.1" fill="#f3a766"/>
<rect x="412.12" y="566.18" width="0.35" height="6.1" fill="#f3a766"/>
<rect x="414.10" y="566.18" width="3.62" height="6.1" fill="#FEAD4F"/>
<rect x="417.58" y="566.18" width="13.80" height="6.1" fill="#F7985B"/>
<rect x="431.23" y="566.18" width="12.06" height="6.1" fill="#EA3F40"/>
<rect x="443.14" y="566.18" width="10.82" height="6.1" fill="#F68281"/>
<rect x="453.81" y="566.18" width="4.37" height="6.1" fill="#B89C75"/>
<rect x="458.03" y="566.18" width="7.60" height="6.1" fill="#63B850"/>
<rect x="465.47" y="566.18" width="10.57" height="6.1" fill="#A6D981"/>
<rect x="475.90" y="566.18" width="16.53" height="6.1" fill="#267DB2"/>
<rect x="492.28" y="566.18" width="24.72" height="6.1" fill="#5FA1CA"/>
<rect x="516.85" y="566.18" width="7.10" height="6.1" fill="#A6CEE3"/>
<rect x="371.17" y="572.97" width="44.08" height="6.1" fill="#7348A0"/>
<rect x="415.09" y="572.97" width="5.86" height="6.1" fill="#A585BF"/>
<rect x="420.80" y="572.97" width="17.03" height="6.1" fill="#ED9047"/>
<rect x="422.91" y="572.97" width="0.35" height="6.1" fill="#f3a766"/>
<rect x="425.02" y="572.97" width="0.35" height="6.1" fill="#f3a766"/>
<rect x="427.13" y="572.97" width="0.35" height="6.1" fill="#f3a766"/>
<rect x="429.24" y="572.97" width="0.35" height="6.1" fill="#f3a766"/>
<rect x="431.35" y="572.97" width="0.35" height="6.1" fill="#f3a766"/>
<rect x="433.46" y="572.97" width="0.35" height="6.1" fill="#f3a766"/>
<rect x="435.57" y="572.97" width="0.35" height="6.1" fill="#f3a766"/>
<rect x="437.68" y="572.97" width="4.37" height="6.1" fill="#FF8B15"/>
<rect x="441.90" y="572.97" width="5.11" height="6.1" fill="#F7985B"/>
<rect x="446.86" y="572.97" width="4.62" height="6.1" fill="#EA3F40"/>
<rect x="451.33" y="572.97" width="8.84" height="6.1" fill="#B89C75"/>
<rect x="460.01" y="572.97" width="9.33" height="6.1" fill="#63B850"/>
<rect x="469.20" y="572.97" width="13.30" height="6.1" fill="#A6D981"/>
<rect x="482.35" y="572.97" width="5.61" height="6.1" fill="#73B39C"/>
<rect x="487.81" y="572.97" width="15.54" height="6.1" fill="#267DB2"/>
<rect x="503.20" y="572.97" width="14.54" height="6.1" fill="#5FA1CA"/>
<rect x="517.59" y="572.97" width="6.35" height="6.1" fill="#A6CEE3"/>
<rect x="371.17" y="579.75" width="4.37" height="6.1" fill="#DAB063"/>
<rect x="375.39" y="579.75" width="79.57" height="6.1" fill="#7348A0"/>
<rect x="454.80" y="579.75" width="4.12" height="6.1" fill="#A585BF"/>
<rect x="458.77" y="579.75" width="20.50" height="6.1" fill="#ED9047"/>
<rect x="460.81" y="579.75" width="0.35" height="6.1" fill="#f3a766"/>
<rect x="462.84" y="579.75" width="0.35" height="6.1" fill="#f3a766"/>
<rect x="464.88" y="579.75" width="0.35" height="6.1" fill="#f3a766"/>
<rect x="466.91" y="579.75" width="0.35" height="6.1" fill="#f3a766"/>
<rect x="468.95" y="579.75" width="0.35" height="6.1" fill="#f3a766"/>
<rect x="470.98" y="579.75" width="0.35" height="6.1" fill="#f3a766"/>
<rect x="473.02" y="579.75" width="0.35" height="6.1" fill="#f3a766"/>
<rect x="475.05" y="579.75" width="0.35" height="6.1" fill="#f3a766"/>
<rect x="477.09" y="579.75" width="0.35" height="6.1" fill="#f3a766"/>
<rect x="479.12" y="579.75" width="5.86" height="6.1" fill="#B89C75"/>
<rect x="484.83" y="579.75" width="16.28" height="6.1" fill="#63B850"/>
<rect x="500.96" y="579.75" width="12.31" height="6.1" fill="#267DB2"/>
<rect x="513.12" y="579.75" width="5.11" height="6.1" fill="#5FA1CA"/>
<rect x="518.09" y="579.75" width="5.86" height="6.1" fill="#A6CEE3"/>
<rect x="371.17" y="586.54" width="66.41" height="6.1" fill="#7348A0"/>
<rect x="437.43" y="586.54" width="4.62" height="6.1" fill="#A585BF"/>
<rect x="441.90" y="586.54" width="21.99" height="6.1" fill="#ED9047"/>
<rect x="444.08" y="586.54" width="0.35" height="6.1" fill="#f3a766"/>
<rect x="446.27" y="586.54" width="0.35" height="6.1" fill="#f3a766"/>
<rect x="448.45" y="586.54" width="0.35" height="6.1" fill="#f3a766"/>
<rect x="450.63" y="586.54" width="0.35" height="6.1" fill="#f3a766"/>
<rect x="452.82" y="586.54" width="0.35" height="6.1" fill="#f3a766"/>
<rect x="455.00" y="586.54" width="0.35" height="6.1" fill="#f3a766"/>
<rect x="457.19" y="586.54" width="0.35" height="6.1" fill="#f3a766"/>
<rect x="459.37" y="586.54" width="0.35" height="6.1" fill="#f3a766"/>
<rect x="461.55" y="586.54" width="0.35" height="6.1" fill="#f3a766"/>
<rect x="463.74" y="586.54" width="10.57" height="6.1" fill="#EA3F40"/>
<rect x="474.16" y="586.54" width="3.38" height="6.1" fill="#63B850"/>
<rect x="477.39" y="586.54" width="6.11" height="6.1" fill="#A6D981"/>
<rect x="483.34" y="586.54" width="20.75" height="6.1" fill="#267DB2"/>
<rect x="503.94" y="586.54" width="15.04" height="6.1" fill="#5FA1CA"/>
<rect x="518.83" y="586.54" width="5.11" height="6.1" fill="#A6CEE3"/>
<rect x="371.17" y="593.32" width="21.99" height="6.1" fill="#7348A0"/>
<rect x="393.01" y="593.32" width="9.83" height="6.1" fill="#D2ABB7"/>
<rect x="402.69" y="593.32" width="11.57" height="6.1" fill="#ED9047"/>
<rect x="404.59" y="593.32" width="0.35" height="6.1" fill="#f3a766"/>
<rect x="406.49" y="593.32" width="0.35" height="6.1" fill="#f3a766"/>
<rect x="408.39" y="593.32" width="0.35" height="6.1" fill="#f3a766"/>
<rect x="410.30" y="593.32" width="0.35" height="6.1" fill="#f3a766"/>
<rect x="412.20" y="593.32" width="0.35" height="6.1" fill="#f3a766"/>
<rect x="414.10" y="593.32" width="3.87" height="6.1" fill="#EA3F40"/>
<rect x="417.82" y="593.32" width="8.84" height="6.1" fill="#A6D981"/>
<rect x="426.51" y="593.32" width="91.73" height="6.1" fill="#267DB2"/>
<rect x="518.09" y="593.32" width="5.86" height="6.1" fill="#A6CEE3"/>
<rect x="371.17" y="600.11" width="18.02" height="6.1" fill="#7348A0"/>
<rect x="389.04" y="600.11" width="7.10" height="6.1" fill="#ED9047"/>
<rect x="390.77" y="600.11" width="0.35" height="6.1" fill="#f3a766"/>
<rect x="392.51" y="600.11" width="0.35" height="6.1" fill="#f3a766"/>
<rect x="394.25" y="600.11" width="0.35" height="6.1" fill="#f3a766"/>
<rect x="395.99" y="600.11" width="9.58" height="6.1" fill="#EA3F40"/>
<rect x="405.42" y="600.11" width="9.33" height="6.1" fill="#A6D981"/>
<rect x="414.60" y="600.11" width="96.44" height="6.1" fill="#267DB2"/>
<rect x="510.89" y="600.11" width="6.35" height="6.1" fill="#5FA1CA"/>
<rect x="517.09" y="600.11" width="6.85" height="6.1" fill="#A6CEE3"/>
<rect x="371.17" y="606.89" width="8.09" height="6.1" fill="#7348A0"/>
<rect x="379.11" y="606.89" width="7.60" height="6.1" fill="#ED9047"/>
<rect x="380.97" y="606.89" width="0.35" height="6.1" fill="#f3a766"/>
<rect x="382.83" y="606.89" width="0.35" height="6.1" fill="#f3a766"/>
<rect x="384.69" y="606.89" width="0.35" height="6.1" fill="#f3a766"/>
<rect x="386.55" y="606.89" width="7.84" height="6.1" fill="#EA3F40"/>
<rect x="394.25" y="606.89" width="3.87" height="6.1" fill="#B89C75"/>
<rect x="397.97" y="606.89" width="5.11" height="6.1" fill="#A6D981"/>
<rect x="402.93" y="606.89" width="116.05" height="6.1" fill="#267DB2"/>
<rect x="518.83" y="606.89" width="5.11" height="6.1" fill="#A6CEE3"/>
<rect x="371.17" y="613.67" width="38.12" height="6.1" fill="#7348A0"/>
<rect x="409.14" y="613.67" width="5.11" height="6.1" fill="#A585BF"/>
<rect x="414.10" y="613.67" width="27.20" height="6.1" fill="#ED9047"/>
<rect x="416.18" y="613.67" width="0.35" height="6.1" fill="#f3a766"/>
<rect x="418.26" y="613.67" width="0.35" height="6.1" fill="#f3a766"/>
<rect x="420.34" y="613.67" width="0.35" height="6.1" fill="#f3a766"/>
<rect x="422.43" y="613.67" width="0.35" height="6.1" fill="#f3a766"/>
<rect x="424.51" y="613.67" width="0.35" height="6.1" fill="#f3a766"/>
<rect x="426.59" y="613.67" width="0.35" height="6.1" fill="#f3a766"/>
<rect x="428.67" y="613.67" width="0.35" height="6.1" fill="#f3a766"/>
<rect x="430.75" y="613.67" width="0.35" height="6.1" fill="#f3a766"/>
<rect x="432.83" y="613.67" width="0.35" height="6.1" fill="#f3a766"/>
<rect x="434.91" y="613.67" width="0.35" height="6.1" fill="#f3a766"/>
<rect x="436.99" y="613.67" width="0.35" height="6.1" fill="#f3a766"/>
<rect x="439.07" y="613.67" width="0.35" height="6.1" fill="#f3a766"/>
<rect x="441.15" y="613.67" width="5.11" height="6.1" fill="#FEAD4F"/>
<rect x="446.12" y="613.67" width="7.84" height="6.1" fill="#F7985B"/>
<rect x="453.81" y="613.67" width="7.35" height="6.1" fill="#EA3F40"/>
<rect x="461.01" y="613.67" width="17.03" height="6.1" fill="#A6D981"/>
<rect x="477.88" y="613.67" width="15.04" height="6.1" fill="#267DB2"/>
<rect x="492.77" y="613.67" width="24.97" height="6.1" fill="#5FA1CA"/>
<rect x="517.59" y="613.67" width="6.35" height="6.1" fill="#A6CEE3"/>
<rect x="371.17" y="620.46" width="35.64" height="6.1" fill="#7348A0"/>
<rect x="406.66" y="620.46" width="4.37" height="6.1" fill="#A585BF"/>
<rect x="410.88" y="620.46" width="18.76" height="6.1" fill="#ED9047"/>
<rect x="412.94" y="620.46" width="0.35" height="6.1" fill="#f3a766"/>
<rect x="415.01" y="620.46" width="0.35" height="6.1" fill="#f3a766"/>
<rect x="417.08" y="620.46" width="0.35" height="6.1" fill="#f3a766"/>
<rect x="419.15" y="620.46" width="0.35" height="6.1" fill="#f3a766"/>
<rect x="421.22" y="620.46" width="0.35" height="6.1" fill="#f3a766"/>
<rect x="423.28" y="620.46" width="0.35" height="6.1" fill="#f3a766"/>
<rect x="425.35" y="620.46" width="0.35" height="6.1" fill="#f3a766"/>
<rect x="427.42" y="620.46" width="0.35" height="6.1" fill="#f3a766"/>
<rect x="429.49" y="620.46" width="4.62" height="6.1" fill="#FF8B15"/>
<rect x="433.96" y="620.46" width="3.87" height="6.1" fill="#FEAD4F"/>
<rect x="437.68" y="620.46" width="13.55" height="6.1" fill="#F7985B"/>
<rect x="451.08" y="620.46" width="12.06" height="6.1" fill="#EA3F40"/>
<rect x="462.99" y="620.46" width="9.33" height="6.1" fill="#63B850"/>
<rect x="472.18" y="620.46" width="7.84" height="6.1" fill="#A6D981"/>
<rect x="479.87" y="620.46" width="20.50" height="6.1" fill="#267DB2"/>
<rect x="500.22" y="620.46" width="18.02" height="6.1" fill="#5FA1CA"/>
<rect x="518.09" y="620.46" width="5.86" height="6.1" fill="#A6CEE3"/>
<text x="108.4" y="313.95" font-size="7.3" text-anchor="end">Soil A</text>
<path d="M109.4,311.40 h2.6" stroke="#222" stroke-width="0.6"/>
<text x="108.4" y="320.74" font-size="7.3" text-anchor="end">Soil B</text>
<path d="M109.4,318.19 h2.6" stroke="#222" stroke-width="0.6"/>
<text x="108.4" y="327.52" font-size="7.3" text-anchor="end">Soil C</text>
<path d="M109.4,324.97 h2.6" stroke="#222" stroke-width="0.6"/>
<text x="108.4" y="334.31" font-size="7.3" text-anchor="end">Green biofilm A</text>
<path d="M109.4,331.75 h2.6" stroke="#222" stroke-width="0.6"/>
<text x="108.4" y="341.09" font-size="7.3" text-anchor="end">Green biofilm B</text>
<path d="M109.4,338.54 h2.6" stroke="#222" stroke-width="0.6"/>
<text x="108.4" y="347.88" font-size="7.3" text-anchor="end">Green biofilm C</text>
<path d="M109.4,345.32 h2.6" stroke="#222" stroke-width="0.6"/>
<text x="108.4" y="354.66" font-size="7.3" text-anchor="end">White/yellow fungus</text>
<path d="M109.4,352.11 h2.6" stroke="#222" stroke-width="0.6"/>
<text x="108.4" y="361.44" font-size="7.3" text-anchor="end">Sediment A</text>
<path d="M109.4,358.89 h2.6" stroke="#222" stroke-width="0.6"/>
<text x="108.4" y="368.23" font-size="7.3" text-anchor="end">Sediment B</text>
<path d="M109.4,365.68 h2.6" stroke="#222" stroke-width="0.6"/>
<text x="108.4" y="375.01" font-size="7.3" text-anchor="end">Sediment C</text>
<path d="M109.4,372.46 h2.6" stroke="#222" stroke-width="0.6"/>
<text x="108.4" y="381.80" font-size="7.3" text-anchor="end">Black biofilm A</text>
<path d="M109.4,379.25 h2.6" stroke="#222" stroke-width="0.6"/>
<text x="108.4" y="388.58" font-size="7.3" text-anchor="end">White biofilm A</text>
<path d="M109.4,386.03 h2.6" stroke="#222" stroke-width="0.6"/>
<text x="108.4" y="395.37" font-size="7.3" text-anchor="end">Grey/white biofilm</text>
<path d="M109.4,392.82 h2.6" stroke="#222" stroke-width="0.6"/>
<text x="108.4" y="402.15" font-size="7.3" text-anchor="end">White biofilm B</text>
<path d="M109.4,399.60 h2.6" stroke="#222" stroke-width="0.6"/>
<text x="108.4" y="408.94" font-size="7.3" text-anchor="end">Black biofilm B</text>
<path d="M109.4,406.39 h2.6" stroke="#222" stroke-width="0.6"/>
<text x="108.4" y="415.72" font-size="7.3" text-anchor="end">Black biofilm C</text>
<path d="M109.4,413.17 h2.6" stroke="#222" stroke-width="0.6"/>
<text x="108.4" y="422.51" font-size="7.3" text-anchor="end">White biofilm A</text>
<path d="M109.4,419.96 h2.6" stroke="#222" stroke-width="0.6"/>
<text x="108.4" y="429.30" font-size="7.3" text-anchor="end">Sediment A</text>
<path d="M109.4,426.75 h2.6" stroke="#222" stroke-width="0.6"/>
<text x="108.4" y="436.08" font-size="7.3" text-anchor="end">Sediment B</text>
<path d="M109.4,433.53 h2.6" stroke="#222" stroke-width="0.6"/>
<text x="108.4" y="442.86" font-size="7.3" text-anchor="end">Sediment C</text>
<path d="M109.4,440.31 h2.6" stroke="#222" stroke-width="0.6"/>
<text x="108.4" y="449.65" font-size="7.3" text-anchor="end">Moist wall</text>
<path d="M109.4,447.10 h2.6" stroke="#222" stroke-width="0.6"/>
<text x="108.4" y="456.44" font-size="7.3" text-anchor="end">Grey/white biofilm A</text>
<path d="M109.4,453.88 h2.6" stroke="#222" stroke-width="0.6"/>
<text x="108.4" y="463.22" font-size="7.3" text-anchor="end">White biofilm A</text>
<path d="M109.4,460.67 h2.6" stroke="#222" stroke-width="0.6"/>
<text x="108.4" y="470.00" font-size="7.3" text-anchor="end">Grey biofilm A</text>
<path d="M109.4,467.45 h2.6" stroke="#222" stroke-width="0.6"/>
<text x="108.4" y="476.79" font-size="7.3" text-anchor="end">Black biofilm A</text>
<path d="M109.4,474.24 h2.6" stroke="#222" stroke-width="0.6"/>
<text x="108.4" y="483.57" font-size="7.3" text-anchor="end">Sediment A</text>
<path d="M109.4,481.02 h2.6" stroke="#222" stroke-width="0.6"/>
<text x="108.4" y="490.36" font-size="7.3" text-anchor="end">Sediment B</text>
<path d="M109.4,487.81 h2.6" stroke="#222" stroke-width="0.6"/>
<text x="108.4" y="497.14" font-size="7.3" text-anchor="end">Sediment C</text>
<path d="M109.4,494.59 h2.6" stroke="#222" stroke-width="0.6"/>
<text x="108.4" y="503.93" font-size="7.3" text-anchor="end">White biofilm A</text>
<path d="M109.4,501.38 h2.6" stroke="#222" stroke-width="0.6"/>
<text x="108.4" y="510.71" font-size="7.3" text-anchor="end">Black biofilm A</text>
<path d="M109.4,508.16 h2.6" stroke="#222" stroke-width="0.6"/>
<text x="108.4" y="517.50" font-size="7.3" text-anchor="end">White biofilm B</text>
<path d="M109.4,514.95 h2.6" stroke="#222" stroke-width="0.6"/>
<text x="108.4" y="524.28" font-size="7.3" text-anchor="end">Brown/yellow biofilm</text>
<path d="M109.4,521.74 h2.6" stroke="#222" stroke-width="0.6"/>
<text x="108.4" y="531.07" font-size="7.3" text-anchor="end">White biofilm B</text>
<path d="M109.4,528.52 h2.6" stroke="#222" stroke-width="0.6"/>
<text x="108.4" y="537.85" font-size="7.3" text-anchor="end">Black biofilm A</text>
<path d="M109.4,535.30 h2.6" stroke="#222" stroke-width="0.6"/>
<text x="108.4" y="544.64" font-size="7.3" text-anchor="end">Brown biofilm A</text>
<path d="M109.4,542.09 h2.6" stroke="#222" stroke-width="0.6"/>
<text x="108.4" y="551.42" font-size="7.3" text-anchor="end">Soil A</text>
<path d="M109.4,548.88 h2.6" stroke="#222" stroke-width="0.6"/>
<text x="108.4" y="558.21" font-size="7.3" text-anchor="end">Soil B</text>
<path d="M109.4,555.66 h2.6" stroke="#222" stroke-width="0.6"/>
<text x="108.4" y="564.99" font-size="7.3" text-anchor="end">Soil C</text>
<path d="M109.4,562.44 h2.6" stroke="#222" stroke-width="0.6"/>
<text x="108.4" y="571.78" font-size="7.3" text-anchor="end">Brown biofilm A</text>
<path d="M109.4,569.23 h2.6" stroke="#222" stroke-width="0.6"/>
<text x="108.4" y="578.56" font-size="7.3" text-anchor="end">Brown biofilm B</text>
<path d="M109.4,576.01 h2.6" stroke="#222" stroke-width="0.6"/>
<text x="108.4" y="585.35" font-size="7.3" text-anchor="end">Brown biofilm A</text>
<path d="M109.4,582.80 h2.6" stroke="#222" stroke-width="0.6"/>
<text x="108.4" y="592.13" font-size="7.3" text-anchor="end">Brown biofilm B</text>
<path d="M109.4,589.59 h2.6" stroke="#222" stroke-width="0.6"/>
<text x="108.4" y="598.92" font-size="7.3" text-anchor="end">Brown biofilm C</text>
<path d="M109.4,596.37 h2.6" stroke="#222" stroke-width="0.6"/>
<text x="108.4" y="605.70" font-size="7.3" text-anchor="end">Biofilm other</text>
<path d="M109.4,603.15 h2.6" stroke="#222" stroke-width="0.6"/>
<text x="108.4" y="612.49" font-size="7.3" text-anchor="end">Black biofilm A</text>
<path d="M109.4,609.94 h2.6" stroke="#222" stroke-width="0.6"/>
<text x="108.4" y="619.27" font-size="7.3" text-anchor="end">White biofilm A</text>
<path d="M109.4,616.72 h2.6" stroke="#222" stroke-width="0.6"/>
<text x="108.4" y="626.06" font-size="7.3" text-anchor="end">White biofilm B</text>
<path d="M109.4,623.51 h2.6" stroke="#222" stroke-width="0.6"/>
<text x="360.4" y="313.95" font-size="7.3" text-anchor="end">Soil A</text>
<path d="M361.4,311.40 h2.6" stroke="#222" stroke-width="0.6"/>
<text x="360.4" y="320.74" font-size="7.3" text-anchor="end">Soil B</text>
<path d="M361.4,318.19 h2.6" stroke="#222" stroke-width="0.6"/>
<text x="360.4" y="327.52" font-size="7.3" text-anchor="end">Soil C</text>
<path d="M361.4,324.97 h2.6" stroke="#222" stroke-width="0.6"/>
<text x="360.4" y="334.31" font-size="7.3" text-anchor="end">Sediment A</text>
<path d="M361.4,331.75 h2.6" stroke="#222" stroke-width="0.6"/>
<text x="360.4" y="341.09" font-size="7.3" text-anchor="end">Sediment B</text>
<path d="M361.4,338.54 h2.6" stroke="#222" stroke-width="0.6"/>
<text x="360.4" y="347.88" font-size="7.3" text-anchor="end">Sediment C</text>
<path d="M361.4,345.32 h2.6" stroke="#222" stroke-width="0.6"/>
<text x="360.4" y="354.66" font-size="7.3" text-anchor="end">Rock infill</text>
<path d="M361.4,352.11 h2.6" stroke="#222" stroke-width="0.6"/>
<text x="360.4" y="361.44" font-size="7.3" text-anchor="end">Calcite nodules</text>
<path d="M361.4,358.89 h2.6" stroke="#222" stroke-width="0.6"/>
<text x="360.4" y="368.23" font-size="7.3" text-anchor="end">Stream sediment</text>
<path d="M361.4,365.68 h2.6" stroke="#222" stroke-width="0.6"/>
<text x="360.4" y="375.01" font-size="7.3" text-anchor="end">Sediment A</text>
<path d="M361.4,372.46 h2.6" stroke="#222" stroke-width="0.6"/>
<text x="360.4" y="381.80" font-size="7.3" text-anchor="end">Sediment B</text>
<path d="M361.4,379.25 h2.6" stroke="#222" stroke-width="0.6"/>
<text x="360.4" y="388.58" font-size="7.3" text-anchor="end">Sediment C</text>
<path d="M361.4,386.03 h2.6" stroke="#222" stroke-width="0.6"/>
<text x="360.4" y="395.37" font-size="7.3" text-anchor="end">Light hued sediment</text>
<path d="M361.4,392.82 h2.6" stroke="#222" stroke-width="0.6"/>
<text x="360.4" y="402.15" font-size="7.3" text-anchor="end">Moonmilk A</text>
<path d="M361.4,399.60 h2.6" stroke="#222" stroke-width="0.6"/>
<text x="360.4" y="408.94" font-size="7.3" text-anchor="end">Red hued crust</text>
<path d="M361.4,406.39 h2.6" stroke="#222" stroke-width="0.6"/>
<text x="360.4" y="415.72" font-size="7.3" text-anchor="end">Sediment A</text>
<path d="M361.4,413.17 h2.6" stroke="#222" stroke-width="0.6"/>
<text x="360.4" y="422.51" font-size="7.3" text-anchor="end">Sediment B</text>
<path d="M361.4,419.96 h2.6" stroke="#222" stroke-width="0.6"/>
<text x="360.4" y="429.30" font-size="7.3" text-anchor="end">Sediment C</text>
<path d="M361.4,426.75 h2.6" stroke="#222" stroke-width="0.6"/>
<text x="360.4" y="436.08" font-size="7.3" text-anchor="end">Flowstone</text>
<path d="M361.4,433.53 h2.6" stroke="#222" stroke-width="0.6"/>
<text x="360.4" y="442.86" font-size="7.3" text-anchor="end">Moonmilk A</text>
<path d="M361.4,440.31 h2.6" stroke="#222" stroke-width="0.6"/>
<text x="360.4" y="449.65" font-size="7.3" text-anchor="end">Moonmilk B</text>
<path d="M361.4,447.10 h2.6" stroke="#222" stroke-width="0.6"/>
<text x="360.4" y="456.44" font-size="7.3" text-anchor="end">Soil A</text>
<path d="M361.4,453.88 h2.6" stroke="#222" stroke-width="0.6"/>
<text x="360.4" y="463.22" font-size="7.3" text-anchor="end">Soil B</text>
<path d="M361.4,460.67 h2.6" stroke="#222" stroke-width="0.6"/>
<text x="360.4" y="470.00" font-size="7.3" text-anchor="end">Soil C</text>
<path d="M361.4,467.45 h2.6" stroke="#222" stroke-width="0.6"/>
<text x="360.4" y="476.79" font-size="7.3" text-anchor="end">Green biofilm A</text>
<path d="M361.4,474.24 h2.6" stroke="#222" stroke-width="0.6"/>
<text x="360.4" y="483.57" font-size="7.3" text-anchor="end">Green biofilm B</text>
<path d="M361.4,481.02 h2.6" stroke="#222" stroke-width="0.6"/>
<text x="360.4" y="490.36" font-size="7.3" text-anchor="end">Green biofilm C</text>
<path d="M361.4,487.81 h2.6" stroke="#222" stroke-width="0.6"/>
<text x="360.4" y="497.14" font-size="7.3" text-anchor="end">Green biofilm D</text>
<path d="M361.4,494.59 h2.6" stroke="#222" stroke-width="0.6"/>
<text x="360.4" y="503.93" font-size="7.3" text-anchor="end">Sediment A</text>
<path d="M361.4,501.38 h2.6" stroke="#222" stroke-width="0.6"/>
<text x="360.4" y="510.71" font-size="7.3" text-anchor="end">Sediment B</text>
<path d="M361.4,508.16 h2.6" stroke="#222" stroke-width="0.6"/>
<text x="360.4" y="517.50" font-size="7.3" text-anchor="end">Sediment C</text>
<path d="M361.4,514.95 h2.6" stroke="#222" stroke-width="0.6"/>
<text x="360.4" y="524.28" font-size="7.3" text-anchor="end">Moonmilk</text>
<path d="M361.4,521.74 h2.6" stroke="#222" stroke-width="0.6"/>
<text x="360.4" y="531.07" font-size="7.3" text-anchor="end">Stalactite</text>
<path d="M361.4,528.52 h2.6" stroke="#222" stroke-width="0.6"/>
<text x="360.4" y="537.85" font-size="7.3" text-anchor="end">Flowstone</text>
<path d="M361.4,535.30 h2.6" stroke="#222" stroke-width="0.6"/>
<text x="360.4" y="544.64" font-size="7.3" text-anchor="end">Fungal pellet</text>
<path d="M361.4,542.09 h2.6" stroke="#222" stroke-width="0.6"/>
<text x="360.4" y="551.42" font-size="7.3" text-anchor="end">Stalagmite</text>
<path d="M361.4,548.88 h2.6" stroke="#222" stroke-width="0.6"/>
<text x="360.4" y="558.21" font-size="7.3" text-anchor="end">Sediment A</text>
<path d="M361.4,555.66 h2.6" stroke="#222" stroke-width="0.6"/>
<text x="360.4" y="564.99" font-size="7.3" text-anchor="end">Sediment B</text>
<path d="M361.4,562.44 h2.6" stroke="#222" stroke-width="0.6"/>
<text x="360.4" y="571.78" font-size="7.3" text-anchor="end">Sediment C</text>
<path d="M361.4,569.23 h2.6" stroke="#222" stroke-width="0.6"/>
<text x="360.4" y="578.56" font-size="7.3" text-anchor="end">Mud rock</text>
<path d="M361.4,576.01 h2.6" stroke="#222" stroke-width="0.6"/>
<text x="360.4" y="585.35" font-size="7.3" text-anchor="end">Moist wall</text>
<path d="M361.4,582.80 h2.6" stroke="#222" stroke-width="0.6"/>
<text x="360.4" y="592.13" font-size="7.3" text-anchor="end">Sediment A</text>
<path d="M361.4,589.59 h2.6" stroke="#222" stroke-width="0.6"/>
<text x="360.4" y="598.92" font-size="7.3" text-anchor="end">Sediment B</text>
<path d="M361.4,596.37 h2.6" stroke="#222" stroke-width="0.6"/>
<text x="360.4" y="605.70" font-size="7.3" text-anchor="end">Sediment C</text>
<path d="M361.4,603.15 h2.6" stroke="#222" stroke-width="0.6"/>
<text x="360.4" y="612.49" font-size="7.3" text-anchor="end">Mineral crust</text>
<path d="M361.4,609.94 h2.6" stroke="#222" stroke-width="0.6"/>
<text x="360.4" y="619.27" font-size="7.3" text-anchor="end">Damp crust</text>
<path d="M361.4,616.72 h2.6" stroke="#222" stroke-width="0.6"/>
<text x="360.4" y="626.06" font-size="7.3" text-anchor="end">Calcite nodule</text>
<path d="M361.4,623.51 h2.6" stroke="#222" stroke-width="0.6"/>
<path d="M111.7,306 V626.6 H272" stroke="#111" stroke-width="0.8" fill="none"/>
<path d="M363.6,306 V626.6 H533" stroke="#111" stroke-width="0.8" fill="none"/>
<path d="M112.0,626.6 v2.4" stroke="#222" stroke-width="0.6"/>
<text x="112.0" y="635.4" font-size="7.3" text-anchor="middle">0</text>
<path d="M150.3,626.6 v2.4" stroke="#222" stroke-width="0.6"/>
<text x="150.3" y="635.4" font-size="7.3" text-anchor="middle">25</text>
<path d="M188.6,626.6 v2.4" stroke="#222" stroke-width="0.6"/>
<text x="188.6" y="635.4" font-size="7.3" text-anchor="middle">50</text>
<path d="M226.8,626.6 v2.4" stroke="#222" stroke-width="0.6"/>
<text x="226.8" y="635.4" font-size="7.3" text-anchor="middle">75</text>
<path d="M265.1,626.6 v2.4" stroke="#222" stroke-width="0.6"/>
<text x="265.1" y="635.4" font-size="7.3" text-anchor="middle">100</text>
<path d="M371.2,626.6 v2.4" stroke="#222" stroke-width="0.6"/>
<text x="371.2" y="635.4" font-size="7.3" text-anchor="middle">0</text>
<path d="M409.3,626.6 v2.4" stroke="#222" stroke-width="0.6"/>
<text x="409.3" y="635.4" font-size="7.3" text-anchor="middle">25</text>
<path d="M447.5,626.6 v2.4" stroke="#222" stroke-width="0.6"/>
<text x="447.5" y="635.4" font-size="7.3" text-anchor="middle">50</text>
<path d="M485.6,626.6 v2.4" stroke="#222" stroke-width="0.6"/>
<text x="485.6" y="635.4" font-size="7.3" text-anchor="middle">75</text>
<path d="M523.8,626.6 v2.4" stroke="#222" stroke-width="0.6"/>
<text x="523.8" y="635.4" font-size="7.3" text-anchor="middle">100</text>
<rect x="104.6" y="292.2" width="167.6" height="14.2" fill="#fff" stroke="#111" stroke-width="0.9"/>
<text x="188.6" y="302.8" font-size="10.7" text-anchor="middle">Basalt</text>
<rect x="363.6" y="292.2" width="169.4" height="14.2" fill="#fff" stroke="#111" stroke-width="0.9"/>
<text x="447.6" y="302.8" font-size="10.5" text-anchor="middle">Limestone</text>
<text x="299.4" y="646.5" font-size="10.6" text-anchor="middle" textLength="192" lengthAdjust="spacingAndGlyphs">16S rRNA gene relative abundance (%)</text>
<rect x="24.9" y="309.0" width="7.0" height="45.7" fill="#ffcb05"/>
<rect x="24.9" y="354.7" width="7.0" height="60.8" fill="#ff6a00"/>
<rect x="24.9" y="415.5" width="7.0" height="60.2" fill="#a62a2a"/>
<rect x="24.9" y="475.7" width="7.0" height="68.8" fill="#00007f"/>
<rect x="24.9" y="545.4" width="7.0" height="22.1" fill="#ffcb05"/>
<rect x="24.9" y="567.5" width="7.0" height="10.0" fill="#a62a2a"/>
<rect x="24.9" y="579.0" width="7.0" height="48.2" fill="#00007f"/>
<rect x="285.7" y="310.9" width="7.2" height="18.5" fill="#ffcb05"/>
<rect x="285.7" y="330.5" width="7.2" height="38.7" fill="#ff6a00"/>
<rect x="285.7" y="369.5" width="7.2" height="41.5" fill="#a62a2a"/>
<rect x="285.7" y="411.0" width="7.2" height="38.8" fill="#00007f"/>
<rect x="285.7" y="451.8" width="7.2" height="47.0" fill="#ffcb05"/>
<rect x="285.7" y="498.8" width="7.2" height="54.1" fill="#ff6a00"/>
<rect x="285.7" y="552.9" width="7.2" height="33.6" fill="#a62a2a"/>
<rect x="285.7" y="586.5" width="7.2" height="39.5" fill="#00007f"/>
<text transform="translate(20.6,439) rotate(-90)" font-size="10.5" text-anchor="middle" textLength="59.2" lengthAdjust="spacingAndGlyphs">Tunnel Cave</text>
<text transform="translate(20.6,584.4) rotate(-90)" font-size="10.5" text-anchor="middle" textLength="74.2" lengthAdjust="spacingAndGlyphs">Harman 1 Cave</text>
<text transform="translate(282.6,373.5) rotate(-90)" font-size="10.4" text-anchor="middle" textLength="96.7" lengthAdjust="spacingAndGlyphs">Scrubby Creek Cave</text>
<text transform="translate(282.6,533) rotate(-90)" font-size="10.4" text-anchor="middle" textLength="106.5" lengthAdjust="spacingAndGlyphs">Shades of Death Cave</text>
<text x="547.3" y="346.8" font-size="10.7">Phylum</text>
<rect x="533.3" y="352.20" width="10.2" height="10.2" fill="#A6CEE3"/>
<text x="548.9" y="359.80" font-size="7.35">Unclassified bacteria</text>
<rect x="533.3" y="362.81" width="10.2" height="10.2" fill="#5FA1CA"/>
<text x="548.9" y="370.41" font-size="7.35">Acidobacteriota</text>
<rect x="533.3" y="373.42" width="10.2" height="10.2" fill="#267DB2"/>
<text x="548.9" y="381.02" font-size="7.35">Actinobacteriota</text>
<rect x="533.3" y="384.03" width="10.2" height="10.2" fill="#73B39C"/>
<text x="548.9" y="391.63" font-size="7.35">Bacteroidota</text>
<rect x="533.3" y="394.64" width="10.2" height="10.2" fill="#A6D981"/>
<text x="548.9" y="402.24" font-size="7.35">Chloroflexi</text>
<rect x="533.3" y="405.25" width="10.2" height="10.2" fill="#63B850"/>
<text x="548.9" y="412.85" font-size="7.35">Crenarchaeota</text>
<rect x="533.3" y="415.86" width="10.2" height="10.2" fill="#509F3C"/>
<text x="548.9" y="423.46" font-size="7.35">Cyanobacteria</text>
<rect x="533.3" y="426.47" width="10.2" height="10.2" fill="#B89C75"/>
<text x="548.9" y="434.07" font-size="7.35">Firmicutes</text>
<rect x="533.3" y="437.08" width="10.2" height="10.2" fill="#F68281"/>
<text x="548.9" y="444.68" font-size="7.35">GAL15</text>
<rect x="533.3" y="447.69" width="10.2" height="10.2" fill="#EA3F40"/>
<text x="548.9" y="455.29" font-size="7.35">Gemmatimonadota</text>
<rect x="533.3" y="458.30" width="10.2" height="10.2" fill="#E94130"/>
<text x="548.9" y="465.90" font-size="7.35">Latescibacterota</text>
<rect x="533.3" y="468.91" width="10.2" height="10.2" fill="#F7985B"/>
<text x="548.9" y="476.51" font-size="7.35">Methylomirabilota</text>
<rect x="533.3" y="479.52" width="10.2" height="10.2" fill="#FEAD4F"/>
<text x="548.9" y="487.12" font-size="7.35">Myxococcota</text>
<rect x="533.3" y="490.13" width="10.2" height="10.2" fill="#FF8B15"/>
<text x="548.9" y="497.73" font-size="7.35">Nitrospirota</text>
<rect x="533.3" y="500.74" width="10.2" height="10.2" fill="#ED9047"/>
<text x="548.9" y="508.34" font-size="7.35">Other (&lt;=2%)</text>
<rect x="533.3" y="511.35" width="10.2" height="10.2" fill="#D2ABB7"/>
<text x="548.9" y="518.95" font-size="7.35">Patescibacteria</text>
<rect x="533.3" y="521.96" width="10.2" height="10.2" fill="#A585BF"/>
<text x="548.9" y="529.56" font-size="7.35">Planctomycetota</text>
<rect x="533.3" y="532.57" width="10.2" height="10.2" fill="#7348A0"/>
<text x="548.9" y="540.17" font-size="7.35">Proteobacteria</text>
<rect x="533.3" y="543.18" width="10.2" height="10.2" fill="#AA909A"/>
<text x="548.9" y="550.78" font-size="7.35">RCP2−54</text>
<rect x="533.3" y="553.79" width="10.2" height="10.2" fill="#F8F699"/>
<text x="548.9" y="561.39" font-size="7.35">Thermoplasmatota</text>
<rect x="533.3" y="564.40" width="10.2" height="10.2" fill="#DAB063"/>
<text x="548.9" y="572.00" font-size="7.35">Verrucomicrobiota</text>
<rect x="533.3" y="575.01" width="10.2" height="10.2" fill="#B15928"/>
<text x="548.9" y="582.61" font-size="7.35">Vulcanimicrobiota (WPS−2)</text>
<text x="20.2" y="299.9" font-size="20" font-weight="bold">b</text>
<text x="15.4" y="661" font-size="20" font-weight="bold">c</text>
<rect x="29.2" y="668.5" width="93.80" height="10.30" fill="#fff" stroke="#333" stroke-width="0.6"/>
<text x="76.10" y="676.25" font-size="7.6" text-anchor="middle" fill="#1a1a1a">Basalt</text>
<rect x="125.6" y="668.5" width="94.10" height="10.30" fill="#fff" stroke="#333" stroke-width="0.6"/>
<text x="172.65" y="676.25" font-size="7.6" text-anchor="middle" fill="#1a1a1a">Limestone</text>
<path d="M29.4,678.8 V836.1 H123.0 M125.6,836.1 H219.7" stroke="#333" stroke-width="0.7" fill="none"/>
<text x="21.6" y="690.8" font-size="8.2" text-anchor="end">10</text><text x="21.7" y="686.8" font-size="5.6">11</text>
<path d="M27.4,687.4 h2" stroke="#333" stroke-width="0.6"/>
<text x="21.6" y="726.1" font-size="8.2" text-anchor="end">10</text><text x="21.7" y="722.1" font-size="5.6">10</text>
<path d="M27.4,722.7 h2" stroke="#333" stroke-width="0.6"/>
<text x="21.6" y="761.5" font-size="8.2" text-anchor="end">10</text><text x="21.7" y="757.5" font-size="5.6">9</text>
<path d="M27.4,758.1 h2" stroke="#333" stroke-width="0.6"/>
<text x="21.6" y="796.9" font-size="8.2" text-anchor="end">10</text><text x="21.7" y="792.9" font-size="5.6">8</text>
<path d="M27.4,793.5 h2" stroke="#333" stroke-width="0.6"/>
<text x="21.6" y="832.6" font-size="8.2" text-anchor="end">10</text><text x="21.7" y="828.6" font-size="5.6">7</text>
<path d="M27.4,829.2 h2" stroke="#333" stroke-width="0.6"/>
<path d="M42.70,705.60 V726.30 M42.70,767.10 V791.50" stroke="#222" stroke-width="0.5"/>
<rect x="34.20" y="726.30" width="17.00" height="40.80" fill="#dc1c1f" stroke="#333" stroke-width="0.45"/>
<path d="M34.20,737.50 H51.20" stroke="#222" stroke-width="0.8"/>
<circle cx="42.51" cy="705.61" r="1.15" fill="#000"/>
<circle cx="43.27" cy="723.45" r="1.15" fill="#000"/>
<circle cx="43.27" cy="733.69" r="1.15" fill="#000"/>
<circle cx="42.51" cy="741.09" r="1.15" fill="#000"/>
<circle cx="42.89" cy="775.72" r="1.15" fill="#000"/>
<circle cx="42.89" cy="791.47" r="1.15" fill="#000"/>
<path d="M65.00,762.00 V764.60 M65.00,769.60 V771.10" stroke="#222" stroke-width="0.5"/>
<rect x="56.40" y="764.60" width="17.20" height="5.00" fill="#f28a4c" stroke="#333" stroke-width="0.45"/>
<path d="M56.40,767.40 H73.60" stroke="#222" stroke-width="0.8"/>
<circle cx="65.85" cy="761.97" r="1.15" fill="#000"/>
<circle cx="64.53" cy="767.28" r="1.15" fill="#000"/>
<circle cx="65.47" cy="771.08" r="1.15" fill="#000"/>
<path d="M87.45,734.80 V738.30 M87.45,758.70 V761.00" stroke="#222" stroke-width="0.5"/>
<rect x="79.10" y="738.30" width="16.70" height="20.40" fill="#d8c683" stroke="#333" stroke-width="0.45"/>
<path d="M79.10,756.60 H95.80" stroke="#222" stroke-width="0.8"/>
<circle cx="87.30" cy="734.83" r="1.15" fill="#000"/>
<circle cx="88.25" cy="738.63" r="1.15" fill="#000"/>
<circle cx="87.68" cy="756.47" r="1.15" fill="#000"/>
<circle cx="86.92" cy="758.74" r="1.15" fill="#000"/>
<circle cx="86.92" cy="761.02" r="1.15" fill="#000"/>
<path d="M109.90,728.80 V744.30 M109.90,760.60 V768.60" stroke="#222" stroke-width="0.5"/>
<rect x="101.20" y="744.30" width="17.40" height="16.30" fill="#87c8a6" stroke="#333" stroke-width="0.45"/>
<path d="M101.20,755.30 H118.60" stroke="#222" stroke-width="0.8"/>
<circle cx="109.12" cy="728.76" r="1.15" fill="#000"/>
<circle cx="109.69" cy="742.04" r="1.15" fill="#000"/>
<circle cx="110.07" cy="752.10" r="1.15" fill="#000"/>
<circle cx="111.02" cy="758.74" r="1.15" fill="#000"/>
<circle cx="109.12" cy="760.64" r="1.15" fill="#000"/>
<circle cx="111.02" cy="768.61" r="1.15" fill="#000"/>
<path d="M139.05,710.70 V717.40 M139.05,733.10 V736.40" stroke="#222" stroke-width="0.5"/>
<rect x="130.50" y="717.40" width="17.10" height="15.70" fill="#dc1c1f" stroke="#333" stroke-width="0.45"/>
<path d="M130.50,722.50 H147.60" stroke="#222" stroke-width="0.8"/>
<circle cx="139.80" cy="710.73" r="1.15" fill="#000"/>
<circle cx="139.80" cy="716.42" r="1.15" fill="#000"/>
<circle cx="139.04" cy="720.22" r="1.15" fill="#000"/>
<circle cx="139.80" cy="724.39" r="1.15" fill="#000"/>
<circle cx="138.47" cy="736.35" r="1.15" fill="#000"/>
<path d="M161.65,725.00 V730.50 M161.65,746.80 V764.80" stroke="#222" stroke-width="0.5"/>
<rect x="153.30" y="730.50" width="16.70" height="16.30" fill="#f28a4c" stroke="#333" stroke-width="0.45"/>
<path d="M153.30,742.60 H170.00" stroke="#222" stroke-width="0.8"/>
<circle cx="161.24" cy="725.34" r="1.15" fill="#000"/>
<circle cx="161.81" cy="727.81" r="1.15" fill="#000"/>
<circle cx="160.86" cy="738.63" r="1.15" fill="#000"/>
<circle cx="162.19" cy="746.79" r="1.15" fill="#000"/>
<circle cx="161.81" cy="764.82" r="1.15" fill="#000"/>
<path d="M183.95,725.50 V737.30 M183.95,770.70 V775.60" stroke="#222" stroke-width="0.5"/>
<rect x="175.50" y="737.30" width="16.90" height="33.40" fill="#d8c683" stroke="#333" stroke-width="0.45"/>
<path d="M175.50,746.40 H192.40" stroke="#222" stroke-width="0.8"/>
<circle cx="183.64" cy="725.53" r="1.15" fill="#000"/>
<circle cx="183.64" cy="737.30" r="1.15" fill="#000"/>
<circle cx="184.01" cy="755.33" r="1.15" fill="#000"/>
<circle cx="184.58" cy="775.64" r="1.15" fill="#000"/>
<circle cx="183.64" cy="828.48" r="1.15" fill="#000"/>
<path d="M206.25,717.40 V722.10 M206.25,738.80 V740.70" stroke="#222" stroke-width="0.5"/>
<rect x="197.70" y="722.10" width="17.10" height="16.70" fill="#87c8a6" stroke="#333" stroke-width="0.45"/>
<path d="M197.70,730.30 H214.80" stroke="#222" stroke-width="0.8"/>
<circle cx="205.84" cy="717.56" r="1.15" fill="#000"/>
<circle cx="206.79" cy="721.17" r="1.15" fill="#000"/>
<circle cx="206.22" cy="726.29" r="1.15" fill="#000"/>
<circle cx="206.79" cy="733.50" r="1.15" fill="#000"/>
<circle cx="205.84" cy="740.72" r="1.15" fill="#000"/>
<circle cx="205.84" cy="826.58" r="1.15" fill="#000"/>
<path d="M42.7,836.1 v2.2" stroke="#333" stroke-width="0.6"/>
<path d="M65.0,836.1 v2.2" stroke="#333" stroke-width="0.6"/>
<path d="M87.4,836.1 v2.2" stroke="#333" stroke-width="0.6"/>
<path d="M110.0,836.1 v2.2" stroke="#333" stroke-width="0.6"/>
<path d="M139.0,836.1 v2.2" stroke="#333" stroke-width="0.6"/>
<path d="M161.6,836.1 v2.2" stroke="#333" stroke-width="0.6"/>
<path d="M183.8,836.1 v2.2" stroke="#333" stroke-width="0.6"/>
<path d="M206.2,836.1 v2.2" stroke="#333" stroke-width="0.6"/>
<text transform="translate(45.8,843.0) rotate(-45)" font-size="8.4" text-anchor="end">Entrance</text>
<text transform="translate(66.6,843.2) rotate(-45)" font-size="8.4" text-anchor="end">Twilight</text>
<text transform="translate(88.6,843.2) rotate(-45)" font-size="8.4" text-anchor="end">Transition</text>
<text transform="translate(110.2,842.0) rotate(-45)" font-size="8.4" text-anchor="end">Deep</text>
<text transform="translate(141.2,843.0) rotate(-45)" font-size="8.4" text-anchor="end">Entrance</text>
<text transform="translate(162.0,843.2) rotate(-45)" font-size="8.4" text-anchor="end">Twilight</text>
<text transform="translate(184.0,843.0) rotate(-45)" font-size="8.4" text-anchor="end">Transition</text>
<text transform="translate(205.6,841.6) rotate(-45)" font-size="8.4" text-anchor="end">Deep</text>
<text transform="translate(8.2,758.4) rotate(-90)" font-size="9.2" text-anchor="middle">16S rRNA gene copies (g<tspan font-size="4.6" dy="1.5">ww</tspan><tspan font-size="5.4" dy="-5.8">−1</tspan><tspan dy="4.3">)</tspan></text>
<text x="250.6" y="665" font-size="20" font-weight="bold">d</text>
<rect x="269.3" y="666.2" width="97.80" height="10.90" fill="#fff" stroke="#333" stroke-width="0.6"/>
<text x="318.20" y="674.25" font-size="7.6" text-anchor="middle" fill="#1a1a1a">Basalt</text>
<rect x="369.0" y="666.2" width="98.60" height="10.90" fill="#fff" stroke="#333" stroke-width="0.6"/>
<text x="418.30" y="674.25" font-size="7.6" text-anchor="middle" fill="#1a1a1a">Limestone</text>
<path d="M269.3,677.1 V839.3 H367.1 M369.0,839.3 H467.4" stroke="#333" stroke-width="0.7" fill="none"/>
<text x="267.0" y="680.8" font-size="7.6" text-anchor="end">2000</text>
<path d="M267.4,678.2 h1.9" stroke="#333" stroke-width="0.6"/>
<text x="267.0" y="719.5" font-size="7.6" text-anchor="end">1500</text>
<path d="M267.4,716.9 h1.9" stroke="#333" stroke-width="0.6"/>
<text x="267.0" y="758.1" font-size="7.6" text-anchor="end">1000</text>
<path d="M267.4,755.5 h1.9" stroke="#333" stroke-width="0.6"/>
<text x="267.0" y="797.1" font-size="7.6" text-anchor="end">500</text>
<path d="M267.4,794.5 h1.9" stroke="#333" stroke-width="0.6"/>
<text x="267.0" y="836.2" font-size="7.6" text-anchor="end">0</text>
<path d="M267.4,833.6 h1.9" stroke="#333" stroke-width="0.6"/>
<path d="M280.3,839.3 v2.2" stroke="#333" stroke-width="0.6"/>
<path d="M305.3,839.3 v2.2" stroke="#333" stroke-width="0.6"/>
<path d="M330.2,839.3 v2.2" stroke="#333" stroke-width="0.6"/>
<path d="M355.3,839.3 v2.2" stroke="#333" stroke-width="0.6"/>
<path d="M380.4,839.3 v2.2" stroke="#333" stroke-width="0.6"/>
<path d="M405.5,839.3 v2.2" stroke="#333" stroke-width="0.6"/>
<path d="M430.7,839.3 v2.2" stroke="#333" stroke-width="0.6"/>
<path d="M456.2,839.3 v2.2" stroke="#333" stroke-width="0.6"/>
<text transform="translate(243.8,761.4) rotate(-90)" font-size="9.2" text-anchor="middle" textLength="102" lengthAdjust="spacingAndGlyphs">Richness (No. of NTUs)</text>
<path d="M275.85,764.90 V795.30 M275.85,815.60 V824.10" stroke="#222" stroke-width="0.5"/>
<rect x="271.80" y="795.30" width="8.10" height="20.30" fill="#d8181c" stroke="#333" stroke-width="0.45"/>
<path d="M271.80,803.20 H279.90" stroke="#222" stroke-width="0.8"/>
<circle cx="276.12" cy="764.91" r="1.0" fill="#000"/>
<circle cx="274.03" cy="770.03" r="1.0" fill="#000"/>
<circle cx="276.12" cy="797.17" r="1.0" fill="#000"/>
<circle cx="276.88" cy="799.45" r="1.0" fill="#000"/>
<circle cx="275.17" cy="803.24" r="1.0" fill="#000"/>
<circle cx="277.45" cy="807.04" r="1.0" fill="#000"/>
<circle cx="274.60" cy="810.83" r="1.0" fill="#000"/>
<circle cx="275.17" cy="817.47" r="1.0" fill="#000"/>
<circle cx="276.12" cy="824.12" r="1.0" fill="#000"/>
<path d="M285.25,684.50 V751.20 M285.25,796.60 V810.80" stroke="#222" stroke-width="0.5"/>
<rect x="280.70" y="751.20" width="9.10" height="45.40" fill="#f28a4c" stroke="#333" stroke-width="0.45"/>
<path d="M280.70,770.30 H289.80" stroke="#222" stroke-width="0.8"/>
<circle cx="285.42" cy="684.54" r="1.0" fill="#000"/>
<circle cx="284.66" cy="694.03" r="1.0" fill="#000"/>
<circle cx="285.99" cy="752.95" r="1.0" fill="#000"/>
<circle cx="285.99" cy="766.80" r="1.0" fill="#000"/>
<circle cx="284.66" cy="773.45" r="1.0" fill="#000"/>
<circle cx="285.99" cy="782.93" r="1.0" fill="#000"/>
<circle cx="283.71" cy="800.96" r="1.0" fill="#000"/>
<circle cx="285.04" cy="805.71" r="1.0" fill="#000"/>
<circle cx="285.61" cy="810.83" r="1.0" fill="#000"/>
<path d="M300.70,799.80 V804.20 M300.70,829.20 V829.40" stroke="#222" stroke-width="0.5"/>
<rect x="296.40" y="804.20" width="8.60" height="25.00" fill="#d8181c" stroke="#333" stroke-width="0.45"/>
<path d="M296.40,811.40 H305.00" stroke="#222" stroke-width="0.8"/>
<circle cx="302.12" cy="800.39" r="1.0" fill="#000"/>
<circle cx="300.22" cy="804.19" r="1.0" fill="#000"/>
<circle cx="299.84" cy="807.04" r="1.0" fill="#000"/>
<circle cx="300.60" cy="811.40" r="1.0" fill="#000"/>
<circle cx="299.27" cy="828.86" r="1.0" fill="#000"/>
<circle cx="301.74" cy="829.24" r="1.0" fill="#000"/>
<path d="M310.35,760.00 V776.10 M310.35,822.60 V825.60" stroke="#222" stroke-width="0.5"/>
<rect x="305.90" y="776.10" width="8.90" height="46.50" fill="#f28a4c" stroke="#333" stroke-width="0.45"/>
<path d="M305.90,791.30 H314.80" stroke="#222" stroke-width="0.8"/>
<circle cx="309.33" cy="759.97" r="1.0" fill="#000"/>
<circle cx="311.61" cy="770.41" r="1.0" fill="#000"/>
<circle cx="310.66" cy="776.67" r="1.0" fill="#000"/>
<circle cx="309.71" cy="791.28" r="1.0" fill="#000"/>
<circle cx="310.66" cy="821.27" r="1.0" fill="#000"/>
<circle cx="309.71" cy="825.07" r="1.0" fill="#000"/>
<path d="M325.75,799.10 V812.70 M325.75,827.50 V830.80" stroke="#222" stroke-width="0.5"/>
<rect x="321.50" y="812.70" width="8.50" height="14.80" fill="#d8181c" stroke="#333" stroke-width="0.45"/>
<path d="M321.50,823.20 H330.00" stroke="#222" stroke-width="0.8"/>
<circle cx="325.84" cy="799.07" r="1.0" fill="#000"/>
<circle cx="325.46" cy="808.93" r="1.0" fill="#000"/>
<circle cx="323.94" cy="813.68" r="1.0" fill="#000"/>
<circle cx="327.17" cy="818.42" r="1.0" fill="#000"/>
<circle cx="324.89" cy="823.74" r="1.0" fill="#000"/>
<circle cx="327.74" cy="824.12" r="1.0" fill="#000"/>
<circle cx="327.17" cy="827.53" r="1.0" fill="#000"/>
<circle cx="324.32" cy="830.76" r="1.0" fill="#000"/>
<circle cx="327.36" cy="830.76" r="1.0" fill="#000"/>
<path d="M335.45,766.20 V791.30 M335.45,823.20 V829.80" stroke="#222" stroke-width="0.5"/>
<rect x="331.20" y="791.30" width="8.50" height="31.90" fill="#f28a4c" stroke="#333" stroke-width="0.45"/>
<path d="M331.20,813.70 H339.70" stroke="#222" stroke-width="0.8"/>
<circle cx="335.52" cy="766.23" r="1.0" fill="#000"/>
<circle cx="334.38" cy="787.49" r="1.0" fill="#000"/>
<circle cx="336.85" cy="795.27" r="1.0" fill="#000"/>
<circle cx="336.85" cy="803.24" r="1.0" fill="#000"/>
<circle cx="337.23" cy="813.68" r="1.0" fill="#000"/>
<circle cx="334.38" cy="816.53" r="1.0" fill="#000"/>
<circle cx="337.23" cy="823.17" r="1.0" fill="#000"/>
<circle cx="334.95" cy="827.53" r="1.0" fill="#000"/>
<circle cx="336.85" cy="829.81" r="1.0" fill="#000"/>
<path d="M351.10,808.90 V814.30 M351.10,828.50 V832.30" stroke="#222" stroke-width="0.5"/>
<rect x="346.90" y="814.30" width="8.40" height="14.20" fill="#d8181c" stroke="#333" stroke-width="0.45"/>
<path d="M346.90,822.20 H355.30" stroke="#222" stroke-width="0.8"/>
<circle cx="349.18" cy="808.93" r="1.0" fill="#000"/>
<circle cx="352.41" cy="809.88" r="1.0" fill="#000"/>
<circle cx="353.36" cy="811.78" r="1.0" fill="#000"/>
<circle cx="351.46" cy="815.58" r="1.0" fill="#000"/>
<circle cx="353.74" cy="818.42" r="1.0" fill="#000"/>
<circle cx="348.61" cy="822.22" r="1.0" fill="#000"/>
<circle cx="351.46" cy="823.74" r="1.0" fill="#000"/>
<circle cx="352.98" cy="825.07" r="1.0" fill="#000"/>
<circle cx="349.56" cy="828.86" r="1.0" fill="#000"/>
<circle cx="351.46" cy="829.81" r="1.0" fill="#000"/>
<circle cx="349.94" cy="831.71" r="1.0" fill="#000"/>
<circle cx="351.46" cy="832.28" r="1.0" fill="#000"/>
<path d="M360.60,785.20 V793.20 M360.60,823.70 V830.80" stroke="#222" stroke-width="0.5"/>
<rect x="356.50" y="793.20" width="8.20" height="30.50" fill="#f28a4c" stroke="#333" stroke-width="0.45"/>
<path d="M356.50,808.90 H364.70" stroke="#222" stroke-width="0.8"/>
<circle cx="358.98" cy="785.21" r="1.0" fill="#000"/>
<circle cx="361.82" cy="788.06" r="1.0" fill="#000"/>
<circle cx="360.50" cy="792.23" r="1.0" fill="#000"/>
<circle cx="362.39" cy="792.80" r="1.0" fill="#000"/>
<circle cx="358.98" cy="800.39" r="1.0" fill="#000"/>
<circle cx="359.93" cy="807.99" r="1.0" fill="#000"/>
<circle cx="361.82" cy="808.93" r="1.0" fill="#000"/>
<circle cx="360.50" cy="813.68" r="1.0" fill="#000"/>
<circle cx="362.77" cy="814.63" r="1.0" fill="#000"/>
<circle cx="358.98" cy="823.17" r="1.0" fill="#000"/>
<circle cx="359.93" cy="828.86" r="1.0" fill="#000"/>
<circle cx="360.88" cy="830.76" r="1.0" fill="#000"/>
<path d="M375.80,806.10 V808.20 M375.80,814.60 V820.70" stroke="#222" stroke-width="0.5"/>
<rect x="371.70" y="808.20" width="8.20" height="6.40" fill="#d8181c" stroke="#333" stroke-width="0.45"/>
<path d="M371.70,812.40 H379.90" stroke="#222" stroke-width="0.8"/>
<circle cx="375.11" cy="806.09" r="1.0" fill="#000"/>
<circle cx="377.58" cy="807.04" r="1.0" fill="#000"/>
<circle cx="374.73" cy="808.93" r="1.0" fill="#000"/>
<circle cx="376.63" cy="812.35" r="1.0" fill="#000"/>
<circle cx="374.16" cy="813.11" r="1.0" fill="#000"/>
<circle cx="377.58" cy="813.30" r="1.0" fill="#000"/>
<circle cx="374.73" cy="816.53" r="1.0" fill="#000"/>
<circle cx="374.16" cy="819.37" r="1.0" fill="#000"/>
<circle cx="375.49" cy="820.70" r="1.0" fill="#000"/>
<path d="M385.45,774.80 V781.40 M385.45,795.70 V804.80" stroke="#222" stroke-width="0.5"/>
<rect x="381.20" y="781.40" width="8.50" height="14.30" fill="#f28a4c" stroke="#333" stroke-width="0.45"/>
<path d="M381.20,789.40 H389.70" stroke="#222" stroke-width="0.8"/>
<circle cx="387.07" cy="774.77" r="1.0" fill="#000"/>
<circle cx="384.60" cy="781.42" r="1.0" fill="#000"/>
<circle cx="386.50" cy="782.36" r="1.0" fill="#000"/>
<circle cx="385.17" cy="786.73" r="1.0" fill="#000"/>
<circle cx="376.06" cy="789.01" r="1.0" fill="#000"/>
<circle cx="384.98" cy="791.85" r="1.0" fill="#000"/>
<circle cx="385.55" cy="795.65" r="1.0" fill="#000"/>
<circle cx="384.98" cy="800.39" r="1.0" fill="#000"/>
<circle cx="384.98" cy="804.19" r="1.0" fill="#000"/>
<circle cx="386.12" cy="742.61" r="1.0" fill="#000"/>
<path d="M401.00,803.60 V815.20 M401.00,826.40 V830.80" stroke="#222" stroke-width="0.5"/>
<rect x="396.90" y="815.20" width="8.20" height="11.20" fill="#d8181c" stroke="#333" stroke-width="0.45"/>
<path d="M396.90,823.60 H405.10" stroke="#222" stroke-width="0.8"/>
<circle cx="403.01" cy="803.62" r="1.0" fill="#000"/>
<circle cx="400.73" cy="811.78" r="1.0" fill="#000"/>
<circle cx="401.68" cy="813.68" r="1.0" fill="#000"/>
<circle cx="400.35" cy="818.42" r="1.0" fill="#000"/>
<circle cx="402.63" cy="819.37" r="1.0" fill="#000"/>
<circle cx="399.78" cy="823.17" r="1.0" fill="#000"/>
<circle cx="401.68" cy="824.12" r="1.0" fill="#000"/>
<circle cx="403.58" cy="824.12" r="1.0" fill="#000"/>
<circle cx="399.78" cy="827.91" r="1.0" fill="#000"/>
<circle cx="400.73" cy="829.81" r="1.0" fill="#000"/>
<path d="M410.50,774.20 V799.40 M410.50,821.70 V828.90" stroke="#222" stroke-width="0.5"/>
<rect x="406.40" y="799.40" width="8.20" height="22.30" fill="#f28a4c" stroke="#333" stroke-width="0.45"/>
<path d="M406.40,814.10 H414.60" stroke="#222" stroke-width="0.8"/>
<circle cx="409.84" cy="774.20" r="1.0" fill="#000"/>
<circle cx="409.84" cy="794.13" r="1.0" fill="#000"/>
<circle cx="408.70" cy="797.55" r="1.0" fill="#000"/>
<circle cx="409.27" cy="802.29" r="1.0" fill="#000"/>
<circle cx="411.17" cy="807.04" r="1.0" fill="#000"/>
<circle cx="411.74" cy="812.73" r="1.0" fill="#000"/>
<circle cx="410.22" cy="815.58" r="1.0" fill="#000"/>
<circle cx="412.12" cy="817.47" r="1.0" fill="#000"/>
<circle cx="410.60" cy="821.27" r="1.0" fill="#000"/>
<circle cx="411.74" cy="823.17" r="1.0" fill="#000"/>
<circle cx="411.17" cy="828.86" r="1.0" fill="#000"/>
<path d="M426.10,800.40 V814.10 M426.10,823.70 V830.20" stroke="#222" stroke-width="0.5"/>
<rect x="422.00" y="814.10" width="8.20" height="9.60" fill="#d8181c" stroke="#333" stroke-width="0.45"/>
<path d="M422.00,819.90 H430.20" stroke="#222" stroke-width="0.8"/>
<circle cx="427.30" cy="800.39" r="1.0" fill="#000"/>
<circle cx="426.35" cy="812.73" r="1.0" fill="#000"/>
<circle cx="424.45" cy="816.53" r="1.0" fill="#000"/>
<circle cx="428.25" cy="817.47" r="1.0" fill="#000"/>
<circle cx="424.45" cy="820.32" r="1.0" fill="#000"/>
<circle cx="426.92" cy="820.70" r="1.0" fill="#000"/>
<circle cx="428.25" cy="823.17" r="1.0" fill="#000"/>
<circle cx="425.40" cy="824.12" r="1.0" fill="#000"/>
<circle cx="425.78" cy="827.91" r="1.0" fill="#000"/>
<circle cx="425.78" cy="830.19" r="1.0" fill="#000"/>
<path d="M435.75,792.80 V799.40 M435.75,815.60 V825.10" stroke="#222" stroke-width="0.5"/>
<rect x="431.50" y="799.40" width="8.50" height="16.20" fill="#f28a4c" stroke="#333" stroke-width="0.45"/>
<path d="M431.50,808.40 H440.00" stroke="#222" stroke-width="0.8"/>
<circle cx="437.36" cy="792.80" r="1.0" fill="#000"/>
<circle cx="434.89" cy="796.98" r="1.0" fill="#000"/>
<circle cx="435.84" cy="801.72" r="1.0" fill="#000"/>
<circle cx="437.74" cy="805.14" r="1.0" fill="#000"/>
<circle cx="434.32" cy="808.36" r="1.0" fill="#000"/>
<circle cx="436.79" cy="813.68" r="1.0" fill="#000"/>
<circle cx="435.46" cy="816.15" r="1.0" fill="#000"/>
<circle cx="435.84" cy="821.27" r="1.0" fill="#000"/>
<circle cx="433.94" cy="825.07" r="1.0" fill="#000"/>
<circle cx="434.89" cy="759.97" r="1.0" fill="#000"/>
<path d="M451.50,814.30 V820.30 M451.50,828.90 V830.20" stroke="#222" stroke-width="0.5"/>
<rect x="447.20" y="820.30" width="8.60" height="8.60" fill="#d8181c" stroke="#333" stroke-width="0.45"/>
<path d="M447.20,824.10 H455.80" stroke="#222" stroke-width="0.8"/>
<circle cx="452.54" cy="814.25" r="1.0" fill="#000"/>
<circle cx="449.69" cy="818.04" r="1.0" fill="#000"/>
<circle cx="451.97" cy="820.32" r="1.0" fill="#000"/>
<circle cx="450.07" cy="821.27" r="1.0" fill="#000"/>
<circle cx="453.49" cy="823.17" r="1.0" fill="#000"/>
<circle cx="451.02" cy="825.07" r="1.0" fill="#000"/>
<circle cx="451.97" cy="826.96" r="1.0" fill="#000"/>
<circle cx="450.07" cy="827.91" r="1.0" fill="#000"/>
<circle cx="453.87" cy="828.86" r="1.0" fill="#000"/>
<path d="M461.00,801.00 V809.30 M461.00,822.60 V829.80" stroke="#222" stroke-width="0.5"/>
<rect x="456.70" y="809.30" width="8.60" height="13.30" fill="#f28a4c" stroke="#333" stroke-width="0.45"/>
<path d="M456.70,814.60 H465.30" stroke="#222" stroke-width="0.8"/>
<circle cx="459.18" cy="800.96" r="1.0" fill="#000"/>
<circle cx="462.41" cy="802.86" r="1.0" fill="#000"/>
<circle cx="459.56" cy="807.99" r="1.0" fill="#000"/>
<circle cx="461.46" cy="809.88" r="1.0" fill="#000"/>
<circle cx="460.13" cy="815.58" r="1.0" fill="#000"/>
<circle cx="463.36" cy="815.96" r="1.0" fill="#000"/>
<circle cx="461.46" cy="818.42" r="1.0" fill="#000"/>
<circle cx="460.51" cy="822.22" r="1.0" fill="#000"/>
<circle cx="461.46" cy="826.96" r="1.0" fill="#000"/>
<circle cx="461.08" cy="829.81" r="1.0" fill="#000"/>
<text transform="translate(283.8,845.3) rotate(-45)" font-size="8.3" text-anchor="end">Entrance</text>
<text transform="translate(308.2,845.9) rotate(-45)" font-size="8.3" text-anchor="end">Twilight</text>
<text transform="translate(331.6,845.2) rotate(-45)" font-size="8.3" text-anchor="end">Transition</text>
<text transform="translate(358.2,844.3) rotate(-45)" font-size="8.3" text-anchor="end">Deep</text>
<text transform="translate(381.6,845.5) rotate(-45)" font-size="8.3" text-anchor="end">Entrance</text>
<text transform="translate(406.2,846.0) rotate(-45)" font-size="8.3" text-anchor="end">Twilight</text>
<text transform="translate(429.6,845.4) rotate(-45)" font-size="8.3" text-anchor="end">Transition</text>
<text transform="translate(456.8,844.3) rotate(-45)" font-size="8.3" text-anchor="end">Deep</text>
<path d="M418.7,703.0 v7.2" stroke="#222" stroke-width="0.5"/>
<rect x="415.4" y="704.1" width="6.8" height="5" fill="#d8181c" stroke="#333" stroke-width="0.45"/>
<path d="M415.4,706.6 h6.8" stroke="#222" stroke-width="0.6"/><circle cx="418.8" cy="706.6" r="1.1"/>
<text x="427.7" y="709.2" font-size="7.3">Observed</text>
<path d="M418.7,711.9 v7.2" stroke="#222" stroke-width="0.5"/>
<rect x="415.4" y="713.0" width="6.8" height="5" fill="#f28a4c" stroke="#333" stroke-width="0.45"/>
<path d="M415.4,715.5 h6.8" stroke="#222" stroke-width="0.6"/><circle cx="418.8" cy="715.5" r="1.1"/>
<text x="427.7" y="718.1" font-size="7.3">Chao1</text>
<text x="479.2" y="661.2" font-size="20" font-weight="bold">e</text>
<path d="M491.3,668.6 V839.1 H655.2" stroke="#222" stroke-width="0.7" fill="none"/>
<path d="M491.3,753.7 H655.2 M573.2,668.6 V838.8" stroke="#333" stroke-width="1.0" stroke-dasharray="2.4,2.3" fill="none"/>
<text x="488.2" y="678.1" font-size="7.3" text-anchor="end">2</text><path d="M489.5,675.7 h1.8" stroke="#222" stroke-width="0.6"/>
<text x="488.2" y="717.3" font-size="7.3" text-anchor="end">1</text><path d="M489.5,714.9 h1.8" stroke="#222" stroke-width="0.6"/>
<text x="488.2" y="756.1" font-size="7.3" text-anchor="end">0</text><path d="M489.5,753.7 h1.8" stroke="#222" stroke-width="0.6"/>
<text x="488.2" y="795.0" font-size="7.3" text-anchor="end">−1</text><path d="M489.5,792.6 h1.8" stroke="#222" stroke-width="0.6"/>
<text x="488.2" y="834.2" font-size="7.3" text-anchor="end">−2</text><path d="M489.5,831.8 h1.8" stroke="#222" stroke-width="0.6"/>
<text x="523.4" y="847.4" font-size="7.3" text-anchor="middle">−2</text><path d="M523.4,838.8 v1.9" stroke="#222" stroke-width="0.6"/>
<text x="573.2" y="847.4" font-size="7.3" text-anchor="middle">0</text><path d="M573.2,838.8 v1.9" stroke="#222" stroke-width="0.6"/>
<text x="622.4" y="847.4" font-size="7.3" text-anchor="middle">2</text><path d="M622.4,838.8 v1.9" stroke="#222" stroke-width="0.6"/>
<text x="573.2" y="856.2" font-size="7.3" text-anchor="middle">NMDS1</text>
<text transform="translate(478.2,753.7) rotate(-90)" font-size="7.3" text-anchor="middle">NMDS2</text>
<ellipse cx="576.4" cy="736.4" rx="50.6" ry="26.2" transform="rotate(9 576.4 736.4)" fill="none" stroke="#e3242b" stroke-width="0.7"/>
<ellipse cx="570.4" cy="768.3" rx="31.7" ry="23.2" transform="rotate(5 570.4 768.3)" fill="none" stroke="#fbb469" stroke-width="0.7"/>
<rect x="559.90" y="707.32" width="2.9" height="2.9" fill="#dc1e26"/>
<rect x="566.32" y="710.54" width="2.9" height="2.9" fill="#dc1e26"/>
<rect x="558.94" y="714.39" width="2.9" height="2.9" fill="#dc1e26"/>
<rect x="566.97" y="714.39" width="2.9" height="2.9" fill="#dc1e26"/>
<rect x="555.08" y="724.67" width="2.9" height="2.9" fill="#dc1e26"/>
<rect x="562.47" y="724.67" width="2.9" height="2.9" fill="#dc1e26"/>
<rect x="565.68" y="727.24" width="2.9" height="2.9" fill="#dc1e26"/>
<rect x="566.32" y="730.45" width="2.9" height="2.9" fill="#dc1e26"/>
<rect x="554.12" y="728.84" width="2.9" height="2.9" fill="#dc1e26"/>
<rect x="548.66" y="739.44" width="2.9" height="2.9" fill="#dc1e26"/>
<rect x="539.67" y="741.69" width="2.9" height="2.9" fill="#dc1e26"/>
<rect x="555.08" y="743.94" width="2.9" height="2.9" fill="#dc1e26"/>
<rect x="561.51" y="739.44" width="2.9" height="2.9" fill="#dc1e26"/>
<rect x="568.89" y="741.05" width="2.9" height="2.9" fill="#dc1e26"/>
<rect x="571.14" y="736.87" width="2.9" height="2.9" fill="#dc1e26"/>
<rect x="574.35" y="734.62" width="2.9" height="2.9" fill="#dc1e26"/>
<rect x="576.92" y="735.91" width="2.9" height="2.9" fill="#dc1e26"/>
<rect x="580.78" y="728.84" width="2.9" height="2.9" fill="#dc1e26"/>
<rect x="583.35" y="728.84" width="2.9" height="2.9" fill="#dc1e26"/>
<rect x="590.41" y="728.84" width="2.9" height="2.9" fill="#dc1e26"/>
<rect x="595.87" y="724.99" width="2.9" height="2.9" fill="#dc1e26"/>
<rect x="582.38" y="735.91" width="2.9" height="2.9" fill="#dc1e26"/>
<rect x="588.81" y="735.27" width="2.9" height="2.9" fill="#dc1e26"/>
<rect x="602.29" y="733.02" width="2.9" height="2.9" fill="#dc1e26"/>
<rect x="606.47" y="736.87" width="2.9" height="2.9" fill="#dc1e26"/>
<rect x="597.80" y="743.94" width="2.9" height="2.9" fill="#dc1e26"/>
<rect x="601.01" y="744.90" width="2.9" height="2.9" fill="#dc1e26"/>
<rect x="603.26" y="742.65" width="2.9" height="2.9" fill="#dc1e26"/>
<rect x="606.47" y="742.65" width="2.9" height="2.9" fill="#dc1e26"/>
<rect x="608.08" y="744.26" width="2.9" height="2.9" fill="#dc1e26"/>
<rect x="610.64" y="746.51" width="2.9" height="2.9" fill="#dc1e26"/>
<rect x="552.83" y="751.32" width="2.9" height="2.9" fill="#dc1e26"/>
<rect x="564.72" y="748.11" width="2.9" height="2.9" fill="#dc1e26"/>
<rect x="589.77" y="751.32" width="2.9" height="2.9" fill="#dc1e26"/>
<path d="M537.51,721.30 h4 M539.51,719.30 v4" stroke="#dc1e26" stroke-width="0.7"/>
<path d="M543.29,731.90 h4 M545.29,729.90 v4" stroke="#dc1e26" stroke-width="0.7"/>
<path d="M562.56,723.23 h4 M564.56,721.23 v4" stroke="#dc1e26" stroke-width="0.7"/>
<path d="M560.96,728.04 h4 M562.96,726.04 v4" stroke="#dc1e26" stroke-width="0.7"/>
<path d="M605.92,737.36 h4 M607.92,735.36 v4" stroke="#dc1e26" stroke-width="0.7"/>
<path d="M556.14,753.42 h4 M558.14,751.42 v4" stroke="#dc1e26" stroke-width="0.7"/>
<circle cx="546.90" cy="759.20" r="1.5" fill="#fdb061"/>
<circle cx="550.11" cy="760.80" r="1.5" fill="#fdb061"/>
<circle cx="552.36" cy="762.41" r="1.5" fill="#fdb061"/>
<circle cx="551.07" cy="770.44" r="1.5" fill="#fdb061"/>
<circle cx="558.14" cy="764.01" r="1.5" fill="#fdb061"/>
<circle cx="567.77" cy="763.05" r="1.5" fill="#fdb061"/>
<circle cx="572.59" cy="762.41" r="1.5" fill="#fdb061"/>
<circle cx="579.98" cy="759.20" r="1.5" fill="#fdb061"/>
<circle cx="583.19" cy="751.81" r="1.5" fill="#fdb061"/>
<circle cx="588.65" cy="755.99" r="1.5" fill="#fdb061"/>
<circle cx="590.90" cy="759.20" r="1.5" fill="#fdb061"/>
<circle cx="575.80" cy="767.23" r="1.5" fill="#fdb061"/>
<circle cx="569.38" cy="770.44" r="1.5" fill="#fdb061"/>
<circle cx="570.99" cy="773.65" r="1.5" fill="#fdb061"/>
<circle cx="573.55" cy="776.86" r="1.5" fill="#fdb061"/>
<circle cx="590.90" cy="767.23" r="1.5" fill="#fdb061"/>
<circle cx="546.90" cy="776.86" r="1.5" fill="#fdb061"/>
<circle cx="593.47" cy="784.25" r="1.5" fill="#fdb061"/>
<circle cx="563.92" cy="791.96" r="1.5" fill="#fdb061"/>
<circle cx="566.17" cy="799.34" r="1.5" fill="#fdb061"/>
<circle cx="583.83" cy="804.80" r="1.5" fill="#fdb061"/>
<path d="M549.15,762.11 l1.8,3.2 h-3.6 Z" fill="#fdb061"/>
<path d="M551.72,765.33 l1.8,3.2 h-3.6 Z" fill="#fdb061"/>
<path d="M553.32,768.54 l1.8,3.2 h-3.6 Z" fill="#fdb061"/>
<path d="M564.56,762.11 l1.8,3.2 h-3.6 Z" fill="#fdb061"/>
<path d="M569.38,763.08 l1.8,3.2 h-3.6 Z" fill="#fdb061"/>
<path d="M575.80,758.90 l1.8,3.2 h-3.6 Z" fill="#fdb061"/>
<path d="M586.40,755.69 l1.8,3.2 h-3.6 Z" fill="#fdb061"/>
<path d="M587.04,758.90 l1.8,3.2 h-3.6 Z" fill="#fdb061"/>
<path d="M580.62,766.93 l1.8,3.2 h-3.6 Z" fill="#fdb061"/>
<path d="M572.59,765.33 l1.8,3.2 h-3.6 Z" fill="#fdb061"/>
<path d="M567.77,770.14 l1.8,3.2 h-3.6 Z" fill="#fdb061"/>
<path d="M567.13,771.75 l1.8,3.2 h-3.6 Z" fill="#fdb061"/>
<path d="M582.23,774.96 l1.8,3.2 h-3.6 Z" fill="#fdb061"/>
<path d="M586.40,776.57 l1.8,3.2 h-3.6 Z" fill="#fdb061"/>
<path d="M578.05,783.63 l1.8,3.2 h-3.6 Z" fill="#fdb061"/>
<path d="M579.66,805.47 l1.8,3.2 h-3.6 Z" fill="#fdb061"/>
<text x="625.6" y="767.2" font-size="6.3">Type</text>
<circle cx="628.8" cy="774.6" r="1.5" fill="#dc1e26"/><path d="M626.6,774.6 h4.4" stroke="#dc1e26" stroke-width="0.5"/><text x="635.8" y="776.8" font-size="6.3">Basalt</text>
<circle cx="628.8" cy="782.3" r="1.5" fill="#fdb061"/><path d="M626.6,782.3 h4.4" stroke="#fdb061" stroke-width="0.5"/><text x="635.8" y="784.5" font-size="6.3">Limestone</text>
<text x="625.6" y="800.6" font-size="6.3">Cave</text>
<circle cx="628.8" cy="808.0" r="1.4"/><text x="635.8" y="810.2" font-size="6.3">Shades of Death</text>
<path d="M628.8,813.6 l1.7,3 h-3.4 Z"/><text x="635.8" y="817.6" font-size="6.3">Scrubby Creek</text>
<rect x="627.4" y="821.0" width="2.8" height="2.8"/><text x="635.8" y="824.6" font-size="6.3">Tunnel cave</text>
<path d="M626.8,829.8 h4 M628.8,827.8 v4" stroke="#000" stroke-width="0.6"/><text x="635.8" y="832.0" font-size="6.3">Harman 1</text>
</svg>
</body></html>
